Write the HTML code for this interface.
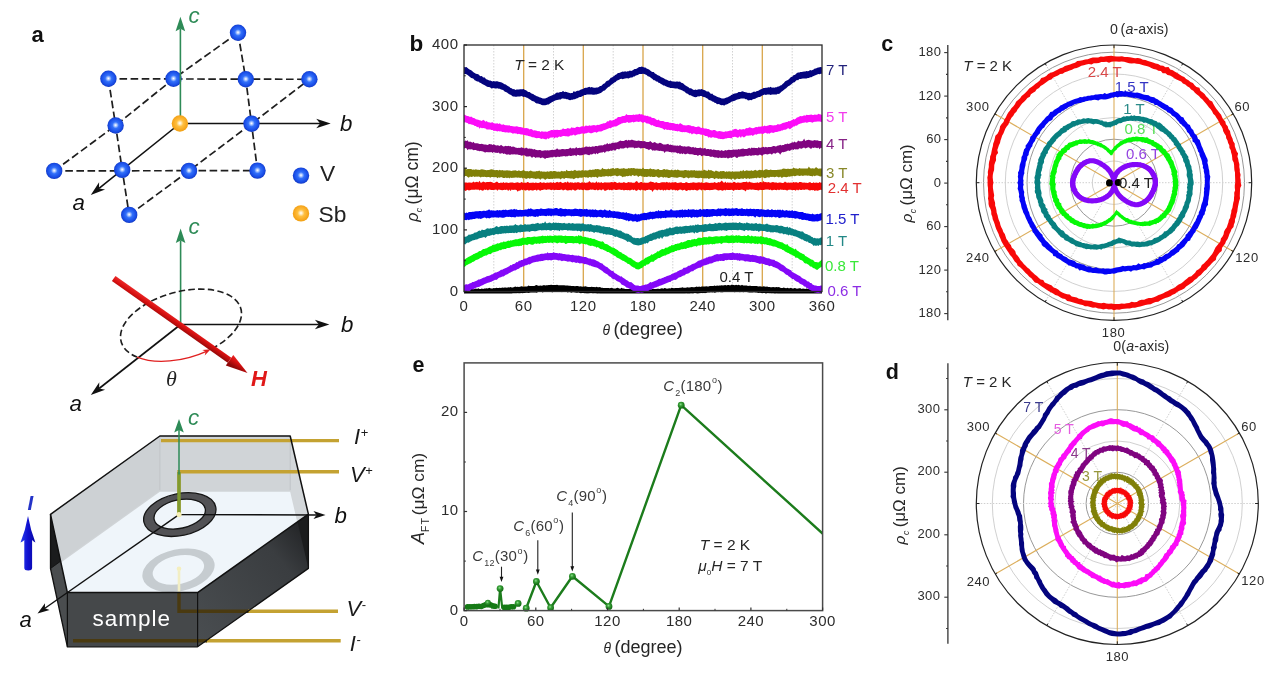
<!DOCTYPE html>
<html lang="en"><head><meta charset="utf-8"><title>Figure</title>
<style>
html,body{margin:0;padding:0;background:#fff;}
body{width:1270px;height:688px;overflow:hidden;}
svg{display:block;font-family:"Liberation Sans", Arial, sans-serif;}
</style></head><body>
<svg width="1270" height="688" viewBox="0 0 1270 688">
<rect width="1270" height="688" fill="#ffffff"/>
<g id="panel-a">
<defs>
<radialGradient id="gblue" cx="0.5" cy="0.48" r="0.52"><stop offset="0" stop-color="#ffffff"/><stop offset="0.12" stop-color="#c4d8ff"/><stop offset="0.38" stop-color="#3270fa"/><stop offset="0.8" stop-color="#184ce6"/><stop offset="1" stop-color="#1238c0"/></radialGradient>
<radialGradient id="gorange" cx="0.5" cy="0.48" r="0.52"><stop offset="0" stop-color="#ffffff"/><stop offset="0.12" stop-color="#fff0d0"/><stop offset="0.4" stop-color="#ffc040"/><stop offset="0.8" stop-color="#f8a820"/><stop offset="1" stop-color="#f0a010"/></radialGradient>
<linearGradient id="gred" gradientUnits="userSpaceOnUse" x1="183" y1="320" x2="177" y2="329"><stop offset="0" stop-color="#f03030"/><stop offset="0.5" stop-color="#d81010"/><stop offset="1" stop-color="#900808"/></linearGradient>
<linearGradient id="gfront" x1="0" y1="0" x2="1" y2="0"><stop offset="0" stop-color="#35383a"/><stop offset="1" stop-color="#45494c"/></linearGradient>
<linearGradient id="gright" x1="0" y1="1" x2="1" y2="0"><stop offset="0" stop-color="#4a4e51"/><stop offset="0.7" stop-color="#3a3d40"/><stop offset="1" stop-color="#1c1d1f"/></linearGradient>
<linearGradient id="gbluearrow" x1="0" y1="0" x2="1" y2="0"><stop offset="0" stop-color="#2a40f0"/><stop offset="0.5" stop-color="#1010d0"/><stop offset="1" stop-color="#0808a0"/></linearGradient>
</defs>
<path d="M108.4 78.8 L309.4 79.3" fill="none" stroke="#1e1e1e" stroke-width="1.7" stroke-dasharray="7.6 3.5"/>
<path d="M54.2 170.9 L257.5 170.6" fill="none" stroke="#1e1e1e" stroke-width="1.7" stroke-dasharray="7.6 3.5"/>
<path d="M54.2 170.9 L115.6 125.5 L173.5 78.8 L238 32.8" fill="none" stroke="#1e1e1e" stroke-width="1.7" stroke-dasharray="7.6 3.5"/>
<path d="M129.2 214.9 L189 170.9 L251.5 123.7 L309.4 79.3" fill="none" stroke="#1e1e1e" stroke-width="1.7" stroke-dasharray="7.6 3.5"/>
<path d="M108.4 78.8 L115.6 125.5 L122.2 169.9 L129.2 214.9" fill="none" stroke="#1e1e1e" stroke-width="1.7" stroke-dasharray="7.6 3.5"/>
<path d="M238 32.8 L245.8 79.3 L251.5 123.7 L257.5 170.6" fill="none" stroke="#1e1e1e" stroke-width="1.7" stroke-dasharray="7.6 3.5"/>
<line x1="179.9" y1="123.5" x2="320.2" y2="123.5" stroke="#111" stroke-width="1.6"/><path d="M330.7 123.5 L316.2 128.2 L320.2 123.5 L316.2 118.8Z" fill="#111"/>
<line x1="179.9" y1="123.5" x2="99" y2="188.4" stroke="#111" stroke-width="1.6"/><path d="M90.8 195 L99.1 182.2 L99 188.4 L105.1 189.6Z" fill="#111"/>
<circle cx="238" cy="32.8" r="8.2" fill="url(#gblue)"/>
<circle cx="108.4" cy="78.8" r="8.2" fill="url(#gblue)"/>
<circle cx="173.5" cy="78.8" r="8.2" fill="url(#gblue)"/>
<circle cx="245.8" cy="79.3" r="8.2" fill="url(#gblue)"/>
<circle cx="309.4" cy="79.3" r="8.2" fill="url(#gblue)"/>
<circle cx="115.6" cy="125.5" r="8.2" fill="url(#gblue)"/>
<circle cx="251.5" cy="123.7" r="8.2" fill="url(#gblue)"/>
<circle cx="54.2" cy="170.9" r="8.2" fill="url(#gblue)"/>
<circle cx="122.2" cy="169.9" r="8.2" fill="url(#gblue)"/>
<circle cx="189" cy="170.9" r="8.2" fill="url(#gblue)"/>
<circle cx="257.5" cy="170.6" r="8.2" fill="url(#gblue)"/>
<circle cx="129.2" cy="214.9" r="8.2" fill="url(#gblue)"/>
<line x1="180.4" y1="123.5" x2="180.4" y2="28.8" stroke="#2e8b57" stroke-width="1.6"/><path d="M180.4 16.8 L185.2 31.3 L180.4 28.8 L175.6 31.3Z" fill="#2e8b57"/>
<circle cx="179.9" cy="123.5" r="8.2" fill="url(#gorange)"/>
<circle cx="301" cy="175.6" r="8.2" fill="url(#gblue)"/>
<circle cx="301" cy="213.4" r="8.2" fill="url(#gorange)"/>
<text x="320" y="180.6" font-size="22.8" fill="#222" >V</text>
<text x="318.5" y="221.6" font-size="22.8" fill="#222" >Sb</text>
<text x="188.5" y="22.8" font-size="22.3" fill="#2e8b57" font-style="italic" >c</text>
<text x="340" y="131" font-size="22.3" fill="#111" font-style="italic" >b</text>
<text x="72.5" y="209.5" font-size="22.3" fill="#111" font-style="italic" >a</text>
<text x="31.5" y="41.5" font-size="22" fill="#111" font-weight="bold" >a</text>
<line x1="180.6" y1="324.5" x2="180.6" y2="240.4" stroke="#2e8b57" stroke-width="1.6"/><path d="M180.6 228.4 L185.4 242.9 L180.6 240.4 L175.8 242.9Z" fill="#2e8b57"/>
<line x1="180.6" y1="324.5" x2="318.9" y2="324.5" stroke="#111" stroke-width="1.6"/><path d="M329.4 324.5 L314.9 329.2 L318.9 324.5 L314.9 319.8Z" fill="#111"/>
<line x1="180.6" y1="324.5" x2="99.1" y2="388.5" stroke="#111" stroke-width="1.6"/><path d="M90.8 395 L99.3 382.3 L99.1 388.5 L105.1 389.8Z" fill="#111"/>
<path d="M211.6 348.8 A62.1 33.3 -15.4 1 0 137 357.1" fill="none" stroke="#1e1e1e" stroke-width="1.6" stroke-dasharray="6.5 3.2"/>
<path d="M137 357.1 A62.1 33.3 -15.4 0 0 207 351.1" fill="none" stroke="#e02020" stroke-width="1.3"/>
<path d="M210.7 349.3 L204.7 355.4 L205.7 351.6 L202.2 349.9Z" fill="#e02020"/>
<path d="M111.9 281.1 L227.7 362.8 L231.3 357.7 L115.5 276.1Z" fill="url(#gred)"/>
<path d="M247.5 372.9 L225.8 365.5 L233.3 354.9Z" fill="url(#gred)"/>
<text x="251" y="385.5" font-size="22" fill="#e01818" font-style="italic" font-weight="bold" >H</text>
<text x="166" y="386" font-size="22" fill="#222" font-style="italic" font-family="Liberation Serif, serif">θ</text>
<text x="188.5" y="233.5" font-size="22.3" fill="#2e8b57" font-style="italic" >c</text>
<text x="341" y="331.5" font-size="22.3" fill="#111" font-style="italic" >b</text>
<text x="69.5" y="411" font-size="22.3" fill="#111" font-style="italic" >a</text>
<clipPath id="clipT"><path d="M159.9 436 L290.2 436 L308.4 514.2 L197.6 592.6 L67.4 592.6 L50.5 514.3Z"/></clipPath>
<path d="M159.9 436 L290.2 436 L308.4 514.2 L197.6 592.6 L67.4 592.6 L50.5 514.3Z" fill="#d0d4d7"/>
<g clip-path="url(#clipT)">
<path d="M290.2 436 L308.4 514.2 L308.4 568.4 L290.2 490.2Z" fill="#d3d7da"/>
<path d="M50.5 514.3 L159.9 436 L159.9 490.2 L50.5 568.5Z" fill="#cdd1d4"/>
<path d="M159.9 491.7 L290.2 491.7 L308.4 569.9 L197.6 648.3 L67.4 648.3 L50.5 570Z" fill="#eff5fa"/>
<line x1="159.9" y1="436" x2="159.9" y2="490.2" stroke="#c0c4c8" stroke-width="1"/>
<line x1="290.2" y1="436" x2="290.2" y2="490.2" stroke="#c0c4c8" stroke-width="1"/>
<g transform="rotate(-12 178.5 570.3)"><path d="M178.5 570.3 m-36.7 0 a36.7 20.9 0 1 0 73.4 0 a36.7 20.9 0 1 0 -73.4 0 M178.5 569.8 m-26.1 0 a26.1 14.2 0 1 1 52.2 0 a26.1 14.2 0 1 1 -52.2 0" fill="#c6ccd0" fill-rule="evenodd" /></g>
<circle cx="179" cy="568.8" r="2.3" fill="#f4efbe"/>
<line x1="179" y1="570.8" x2="179" y2="592.6" stroke="#f2eec4" stroke-width="2.6"/>
</g>
<path d="M50.5 514.3 L67.4 592.6 L67.4 646.8 L50.5 568.5Z" fill="#4a4d4f"/>
<path d="M50.5 514.3 L60.6 561.2 L50.5 568.5Z" fill="#1b1c1d"/>
<path d="M67.4 592.6 L197.6 592.6 L197.6 646.8 L67.4 646.8Z" fill="#45484a"/>
<path d="M197.6 592.6 L308.4 514.2 L308.4 568.4 L197.6 646.8Z" fill="url(#gright)"/>
<path d="M308.4 514.2 L297.6 521.9 L308.4 568.4Z" fill="#1b1c1d"/>
<line x1="50.5" y1="568.5" x2="60.6" y2="561.2" stroke="#111" stroke-width="0.9"/>
<path d="M161 440.6 H339" stroke="#c4a232" stroke-width="3.4" fill="none"/>
<path d="M179 514.6 V471.8 H339" stroke="#c4a232" stroke-width="3.4" fill="none"/>
<path d="M248 611.2 H338" stroke="#c4a232" stroke-width="3.4" fill="none"/>
<path d="M206 640.8 H340.7" stroke="#c4a232" stroke-width="3.4" fill="none"/>
<path d="M179 593 V611.2 H248.5" stroke="#4a3a10" stroke-width="3.4" fill="none"/>
<path d="M73 640.8 H207" stroke="#4a3a10" stroke-width="3.4" fill="none"/>
<g transform="rotate(-12 179.8 514.6)"><path d="M179.8 514.6 m-36.7 0 a36.7 20.9 0 1 0 73.4 0 a36.7 20.9 0 1 0 -73.4 0 M179.8 514.1 m-26.1 0 a26.1 14.2 0 1 1 52.2 0 a26.1 14.2 0 1 1 -52.2 0" fill="#525255" fill-rule="evenodd" stroke="#151515" stroke-width="1.3"/></g>
<path d="M159.9 436 L290.2 436 L308.4 514.2 L197.6 592.6 L67.4 592.6 L50.5 514.3Z" fill="none" stroke="#111" stroke-width="1.5" stroke-linejoin="round"/>
<path d="M50.5 514.3 L50.5 568.5 L67.4 646.8 L197.6 646.8 L308.4 568.4 L308.4 514.2" fill="none" stroke="#111" stroke-width="1.3" stroke-linejoin="round"/>
<line x1="67.4" y1="592.6" x2="67.4" y2="646.8" stroke="#111" stroke-width="1.2"/>
<line x1="197.6" y1="592.6" x2="197.6" y2="646.8" stroke="#111" stroke-width="1.2"/>
<line x1="179" y1="514.6" x2="316.5" y2="515" stroke="#111" stroke-width="1.4"/><path d="M325.5 515 L313.5 519 L316.5 515 L313.5 511Z" fill="#111"/>
<line x1="179" y1="514.6" x2="44.9" y2="608.3" stroke="#111" stroke-width="1.4"/><path d="M37.5 613.5 L45 603.3 L44.9 608.3 L49.6 609.9Z" fill="#111"/>
<line x1="179" y1="513.6" x2="179" y2="472" stroke="#7f9a2e" stroke-width="3.4"/>
<circle cx="179" cy="514.6" r="2.6" fill="#f6efb4"/>
<line x1="179" y1="474.6" x2="179" y2="430" stroke="#2e8b57" stroke-width="1.5"/><path d="M179 419 L183.8 432.5 L179 430 L174.2 432.5Z" fill="#2e8b57"/>
<text x="92.5" y="626.3" font-size="22.5" fill="#fff" letter-spacing="1" >sample</text>
<text x="354" y="443.6" font-size="22" fill="#1a1a1a"><tspan font-style="italic">I</tspan><tspan font-size="13" dy="-7" dx="0.5">+</tspan></text>
<text x="350" y="482" font-size="22" fill="#1a1a1a"><tspan font-style="italic">V</tspan><tspan font-size="13" dy="-7" dx="0.5">+</tspan></text>
<text x="346.5" y="615.6" font-size="22" fill="#1a1a1a"><tspan font-style="italic">V</tspan><tspan font-size="13" dy="-7" dx="0.5">-</tspan></text>
<text x="349.8" y="650.9" font-size="22" fill="#1a1a1a"><tspan font-style="italic">I</tspan><tspan font-size="13" dy="-7" dx="0.5">-</tspan></text>
<text x="188" y="424.5" font-size="22.3" fill="#2e8b57" font-style="italic" >c</text>
<text x="334.5" y="523" font-size="22.3" fill="#111" font-style="italic" >b</text>
<text x="19.5" y="627" font-size="22" fill="#111" font-style="italic" >a</text>
<path d="M24.3 568 Q24.3 570.5 28.2 570.5 Q32.1 570.5 32.1 568 L32.1 540 Q33 541 35.4 542.5 Q30.5 530 28 516 Q25.5 530 20.5 542.5 Q23.5 541 24.3 540Z" fill="url(#gbluearrow)"/>
<text x="27.5" y="510" font-size="20.5" fill="#2433c8" font-style="italic" font-weight="bold" >I</text>
</g>
<g id="panel-b">
<clipPath id="clipb"><rect x="464" y="45" width="358" height="248.5"/></clipPath>
<line x1="493.8" y1="45" x2="493.8" y2="291.5" stroke="#d2d2d2" stroke-width="1" stroke-dasharray="1.5 1.5"/>
<line x1="553.5" y1="45" x2="553.5" y2="291.5" stroke="#d2d2d2" stroke-width="1" stroke-dasharray="1.5 1.5"/>
<line x1="613.2" y1="45" x2="613.2" y2="291.5" stroke="#d2d2d2" stroke-width="1" stroke-dasharray="1.5 1.5"/>
<line x1="672.8" y1="45" x2="672.8" y2="291.5" stroke="#d2d2d2" stroke-width="1" stroke-dasharray="1.5 1.5"/>
<line x1="732.5" y1="45" x2="732.5" y2="291.5" stroke="#d2d2d2" stroke-width="1" stroke-dasharray="1.5 1.5"/>
<line x1="792.2" y1="45" x2="792.2" y2="291.5" stroke="#d2d2d2" stroke-width="1" stroke-dasharray="1.5 1.5"/>
<line x1="523.7" y1="45" x2="523.7" y2="291.5" stroke="#d9a54a" stroke-width="1.3"/>
<line x1="583.3" y1="45" x2="583.3" y2="291.5" stroke="#d9a54a" stroke-width="1.3"/>
<line x1="643" y1="45" x2="643" y2="291.5" stroke="#d9a54a" stroke-width="1.3"/>
<line x1="702.7" y1="45" x2="702.7" y2="291.5" stroke="#d9a54a" stroke-width="1.3"/>
<line x1="762.3" y1="45" x2="762.3" y2="291.5" stroke="#d9a54a" stroke-width="1.3"/>
<g clip-path="url(#clipb)">
<path d="M464 289.2 L465.2 289.3 L466.4 289.4 L467.6 289.3 L468.8 289 L470 288.5 L471.2 289 L472.4 289.1 L473.5 289.2 L474.7 289.1 L475.9 288.5 L477.1 288.9 L478.3 288.3 L479.5 289 L480.7 288.9 L481.9 288.6 L483.1 288.9 L484.3 288.6 L485.5 288.6 L486.7 288.3 L487.9 288.6 L489.1 287.7 L490.3 288.2 L491.4 288.5 L492.6 288.4 L493.8 288.1 L495 288.2 L496.2 287.7 L497.4 288 L498.6 288.1 L499.8 287.7 L501 288 L502.2 287.6 L503.4 287.8 L504.6 287.6 L505.8 287.5 L507 287.7 L508.2 287.2 L509.3 287.6 L510.5 287.1 L511.7 287.5 L512.9 287.4 L514.1 287.1 L515.3 286.6 L516.5 287.1 L517.7 286.7 L518.9 286.9 L520.1 286.7 L521.3 286.3 L522.5 286.5 L523.7 286.7 L524.9 286.6 L526.1 286.5 L527.2 286.4 L528.4 285.6 L529.6 286 L530.8 286 L532 286 L533.2 286 L534.4 286 L535.6 285.3 L536.8 285.1 L538 285.7 L539.2 285.8 L540.4 285.4 L541.6 285.7 L542.8 285.4 L544 285.1 L545.1 285.6 L546.3 285.3 L547.5 285.2 L548.7 285 L549.9 285.1 L551.1 284.8 L552.3 285 L553.5 284.9 L554.7 285 L555.9 284.9 L557.1 284.8 L558.3 285.3 L559.5 285.3 L560.7 285.3 L561.9 285.2 L563 285.3 L564.2 285.3 L565.4 285.4 L566.6 285.6 L567.8 285.6 L569 285.7 L570.2 285.7 L571.4 285.9 L572.6 286 L573.8 286.1 L575 286.2 L576.2 285.9 L577.4 286 L578.6 286.3 L579.8 286.5 L580.9 286.2 L582.1 286.7 L583.3 286.6 L584.5 286.5 L585.7 286.2 L586.9 286.8 L588.1 286.9 L589.3 287 L590.5 287.1 L591.7 286.7 L592.9 286.9 L594.1 287 L595.3 287.2 L596.5 286.7 L597.7 287.3 L598.8 287.2 L600 287.1 L601.2 287.8 L602.4 287.7 L603.6 287.9 L604.8 287.9 L606 287.9 L607.2 287.9 L608.4 288 L609.6 288.3 L610.8 288 L612 287.8 L613.2 288.5 L614.4 288.4 L615.6 288.5 L616.7 288 L617.9 287.8 L619.1 288.4 L620.3 288.8 L621.5 287.8 L622.7 288.5 L623.9 288.6 L625.1 288.9 L626.3 289 L627.5 288.9 L628.7 288.9 L629.9 288.9 L631.1 289.1 L632.3 289.2 L633.5 289.1 L634.6 289 L635.8 289.3 L637 289.3 L638.2 289.3 L639.4 288.2 L640.6 289.3 L641.8 289.1 L643 289 L644.2 289.4 L645.4 289.1 L646.6 288.8 L647.8 289 L649 289.1 L650.2 289.2 L651.4 289.3 L652.5 288.8 L653.7 288.9 L654.9 289 L656.1 288.9 L657.3 288.8 L658.5 288.8 L659.7 288.9 L660.9 288.6 L662.1 288.2 L663.3 288.8 L664.5 287.9 L665.7 288.2 L666.9 288.7 L668.1 288.6 L669.3 288.2 L670.4 288.5 L671.6 287.8 L672.8 287.9 L674 288.2 L675.2 288 L676.4 288 L677.6 287.9 L678.8 287.9 L680 287.7 L681.2 287.8 L682.4 287.3 L683.6 287.8 L684.8 287.7 L686 287.8 L687.2 287.3 L688.3 287.6 L689.5 287.4 L690.7 287.2 L691.9 287.1 L693.1 287.2 L694.3 287.2 L695.5 287 L696.7 286.6 L697.9 286.9 L699.1 286.5 L700.3 286.9 L701.5 286.6 L702.7 286.6 L703.9 286.4 L705.1 286.5 L706.2 286.2 L707.4 286.5 L708.6 286.4 L709.8 286 L711 286.1 L712.2 286.1 L713.4 285.9 L714.6 285.4 L715.8 286 L717 285.6 L718.2 285.8 L719.4 285.4 L720.6 285.6 L721.8 285.2 L723 285.5 L724.1 285.2 L725.3 285.1 L726.5 285.5 L727.7 285.1 L728.9 285.1 L730.1 285.4 L731.3 284.8 L732.5 284.7 L733.7 285 L734.9 285.2 L736.1 284.8 L737.3 285.2 L738.5 284.7 L739.7 285.2 L740.9 285.6 L742 284.7 L743.2 285.6 L744.4 285.5 L745.6 285.6 L746.8 285.4 L748 285.9 L749.2 285.7 L750.4 285.8 L751.6 285.9 L752.8 286 L754 286 L755.2 286.1 L756.4 285.9 L757.6 286.2 L758.8 286.4 L759.9 286.2 L761.1 286.6 L762.3 286.7 L763.5 286.2 L764.7 286.5 L765.9 286.7 L767.1 286.6 L768.3 287 L769.5 286.9 L770.7 287.2 L771.9 287.2 L773.1 286.9 L774.3 287.3 L775.5 287.3 L776.7 287.1 L777.8 287.2 L779 287.1 L780.2 287.7 L781.4 287.9 L782.6 288 L783.8 287.6 L785 288 L786.2 288.2 L787.4 287.7 L788.6 288.2 L789.8 288.2 L791 287.8 L792.2 288.4 L793.4 288.5 L794.6 288 L795.7 288.2 L796.9 288.7 L798.1 288.6 L799.3 288.2 L800.5 288.3 L801.7 288.9 L802.9 288.6 L804.1 288.8 L805.3 288.9 L806.5 288.4 L807.7 288.7 L808.9 288.9 L810.1 288.7 L811.3 288.9 L812.5 288.5 L813.6 289.2 L814.8 288.9 L816 289.2 L817.2 288.5 L818.4 289.1 L819.6 289.1 L820.8 288.8 L822 288.9 L822 295.8 L820.8 295.6 L819.6 295.5 L818.4 295.6 L817.2 296.1 L816 295.5 L814.8 295.8 L813.6 295.8 L812.5 295.3 L811.3 295.4 L810.1 295.5 L808.9 295.3 L807.7 295.9 L806.5 295.1 L805.3 295.4 L804.1 295.1 L802.9 295.1 L801.7 295.2 L800.5 295 L799.3 294.9 L798.1 294.8 L796.9 295.4 L795.7 294.8 L794.6 295.4 L793.4 294.7 L792.2 294.6 L791 294.5 L789.8 294.9 L788.6 295.1 L787.4 294.7 L786.2 294.4 L785 294.2 L783.8 294.2 L782.6 294.1 L781.4 294.4 L780.2 293.9 L779 294 L777.8 293.9 L776.7 293.8 L775.5 294 L774.3 293.9 L773.1 293.6 L771.9 293.8 L770.7 293.4 L769.5 293.5 L768.3 293.3 L767.1 293.3 L765.9 294.3 L764.7 292.9 L763.5 292.9 L762.3 293.4 L761.1 293.1 L759.9 292.8 L758.8 293.1 L757.6 292.7 L756.4 292.6 L755.2 292.6 L754 292.3 L752.8 292.4 L751.6 292.6 L750.4 292.4 L749.2 292.4 L748 292.2 L746.8 292 L745.6 292.1 L744.4 291.9 L743.2 292.3 L742 291.7 L740.9 292.1 L739.7 292.3 L738.5 291.5 L737.3 291.7 L736.1 291.8 L734.9 292.3 L733.7 291.9 L732.5 291.5 L731.3 291.6 L730.1 291.7 L728.9 291.5 L727.7 291.5 L726.5 291.9 L725.3 291.6 L724.1 291.8 L723 292.2 L721.8 292.2 L720.6 292.2 L719.4 291.8 L718.2 292.3 L717 292 L715.8 292.4 L714.6 292.7 L713.4 292.2 L712.2 292.5 L711 292.3 L709.8 292.5 L708.6 292.5 L707.4 292.6 L706.2 292.9 L705.1 293.2 L703.9 293 L702.7 293.2 L701.5 292.9 L700.3 293.2 L699.1 293.6 L697.9 294 L696.7 293.8 L695.5 293.3 L694.3 293.3 L693.1 293.9 L691.9 293.7 L690.7 293.8 L689.5 294 L688.3 293.9 L687.2 293.9 L686 293.8 L684.8 294.2 L683.6 294.6 L682.4 294.3 L681.2 294.1 L680 294.1 L678.8 295.4 L677.6 294.3 L676.4 294.8 L675.2 294.6 L674 294.6 L672.8 294.7 L671.6 294.8 L670.4 295.3 L669.3 294.8 L668.1 295.3 L666.9 294.9 L665.7 295 L664.5 295.1 L663.3 295 L662.1 295.8 L660.9 295.5 L659.7 295.5 L658.5 295.9 L657.3 295.4 L656.1 295.7 L654.9 296.2 L653.7 295.9 L652.5 295.6 L651.4 295.5 L650.2 295.3 L649 295.6 L647.8 296 L646.6 295.7 L645.4 295.6 L644.2 295.7 L643 295.7 L641.8 295.6 L640.6 295.8 L639.4 295.4 L638.2 295.5 L637 295.4 L635.8 295.8 L634.6 295.6 L633.5 295.5 L632.3 295.4 L631.1 295.4 L629.9 295.2 L628.7 295.2 L627.5 295.9 L626.3 295.3 L625.1 295.3 L623.9 295.1 L622.7 294.9 L621.5 295.2 L620.3 294.9 L619.1 295.3 L617.9 294.8 L616.7 294.9 L615.6 295.2 L614.4 294.8 L613.2 294.7 L612 295.1 L610.8 295 L609.6 294.5 L608.4 295.1 L607.2 295 L606 294.4 L604.8 294.9 L603.6 294 L602.4 294.1 L601.2 294 L600 293.9 L598.8 293.8 L597.7 294.1 L596.5 293.8 L595.3 293.5 L594.1 293.5 L592.9 293.7 L591.7 293.3 L590.5 293.2 L589.3 293.5 L588.1 293.7 L586.9 293.8 L585.7 293.5 L584.5 293.5 L583.3 292.9 L582.1 293.1 L580.9 293.5 L579.8 293.1 L578.6 292.6 L577.4 292.7 L576.2 292.7 L575 292.4 L573.8 292.2 L572.6 292.2 L571.4 292.8 L570.2 292.3 L569 292.1 L567.8 292.6 L566.6 291.9 L565.4 292.1 L564.2 292.1 L563 291.7 L561.9 292.2 L560.7 291.6 L559.5 291.9 L558.3 291.9 L557.1 291.5 L555.9 292.1 L554.7 292 L553.5 291.5 L552.3 292.4 L551.1 291.7 L549.9 291.9 L548.7 292.1 L547.5 291.9 L546.3 291.7 L545.1 291.6 L544 291.7 L542.8 292.6 L541.6 292.1 L540.4 291.8 L539.2 292.1 L538 292.1 L536.8 292.7 L535.6 292.6 L534.4 292.4 L533.2 292.4 L532 292.4 L530.8 292.4 L529.6 292.7 L528.4 292.9 L527.2 292.7 L526.1 292.8 L524.9 293 L523.7 292.9 L522.5 293.4 L521.3 293.1 L520.1 293.4 L518.9 293.6 L517.7 293.3 L516.5 293.6 L515.3 293.4 L514.1 293.5 L512.9 293.5 L511.7 294 L510.5 294 L509.3 294 L508.2 293.9 L507 294 L505.8 294.4 L504.6 294.6 L503.4 294.1 L502.2 294.1 L501 294.8 L499.8 294.9 L498.6 294.5 L497.4 295.1 L496.2 294.5 L495 294.7 L493.8 294.6 L492.6 295.1 L491.4 295.1 L490.3 295.1 L489.1 295.1 L487.9 294.9 L486.7 295 L485.5 295 L484.3 295.6 L483.1 295.5 L481.9 295 L480.7 295.2 L479.5 295.3 L478.3 295.4 L477.1 296.2 L475.9 296 L474.7 295.6 L473.5 295.5 L472.4 296 L471.2 295.5 L470 295.6 L468.8 295.6 L467.6 295.9 L466.4 295.8 L465.2 296 L464 295.8Z" fill="#000000"/>
<path d="M464 285.5 L465.2 284.4 L466.4 284.3 L467.6 284.4 L468.8 283.9 L470 283.3 L471.2 282.9 L472.4 282.1 L473.5 281.9 L474.7 281.4 L475.9 281 L477.1 280.4 L478.3 279.6 L479.5 279.5 L480.7 279 L481.9 278.5 L483.1 277.8 L484.3 277.4 L485.5 277 L486.7 276.2 L487.9 275.9 L489.1 275.8 L490.3 275.3 L491.4 274.5 L492.6 274.3 L493.8 273.6 L495 272.5 L496.2 272.4 L497.4 272 L498.6 271.5 L499.8 270.7 L501 269.7 L502.2 269.8 L503.4 269.1 L504.6 268.5 L505.8 268 L507 267.4 L508.2 266.7 L509.3 266.3 L510.5 265.1 L511.7 265.2 L512.9 264.1 L514.1 263.9 L515.3 263.3 L516.5 262 L517.7 262.2 L518.9 260.7 L520.1 260.7 L521.3 260 L522.5 259.9 L523.7 258.9 L524.9 258.5 L526.1 258.4 L527.2 258 L528.4 257.2 L529.6 256.8 L530.8 256.7 L532 256.1 L533.2 255.8 L534.4 255.5 L535.6 255.2 L536.8 254.8 L538 254.5 L539.2 254.4 L540.4 254.1 L541.6 253.8 L542.8 253.7 L544 253.8 L545.1 253.2 L546.3 253.5 L547.5 252.2 L548.7 253.3 L549.9 253.1 L551.1 253 L552.3 253.1 L553.5 252.3 L554.7 252.8 L555.9 252.9 L557.1 253.1 L558.3 253.4 L559.5 253 L560.7 253.6 L561.9 253.4 L563 253.9 L564.2 254.1 L565.4 254.2 L566.6 254.4 L567.8 254.5 L569 254.6 L570.2 254.9 L571.4 255 L572.6 254.8 L573.8 255.3 L575 255.4 L576.2 255.6 L577.4 255.7 L578.6 255.4 L579.8 255.9 L580.9 256.2 L582.1 256.6 L583.3 257 L584.5 256.9 L585.7 257.1 L586.9 257.6 L588.1 258.2 L589.3 258.5 L590.5 258.6 L591.7 259.2 L592.9 259.3 L594.1 259.6 L595.3 259.9 L596.5 260.7 L597.7 261.2 L598.8 261.8 L600 262.8 L601.2 263.3 L602.4 263.6 L603.6 265.1 L604.8 265.7 L606 266.8 L607.2 266.9 L608.4 268.3 L609.6 269.2 L610.8 270.2 L612 270.9 L613.2 271.1 L614.4 272.7 L615.6 273.4 L616.7 274 L617.9 274.9 L619.1 275.6 L620.3 276.4 L621.5 276.3 L622.7 277.4 L623.9 278.3 L625.1 279.1 L626.3 279.9 L627.5 280.6 L628.7 281.4 L629.9 282.2 L631.1 282.1 L632.3 283.1 L633.5 284 L634.6 285.1 L635.8 285.6 L637 285.5 L638.2 285.4 L639.4 286.1 L640.6 286 L641.8 285.4 L643 285.3 L644.2 285 L645.4 284.6 L646.6 284.4 L647.8 283.9 L649 283.2 L650.2 282.1 L651.4 282.6 L652.5 282 L653.7 281.6 L654.9 280.9 L656.1 280.6 L657.3 279.9 L658.5 279 L659.7 278.8 L660.9 278.8 L662.1 278 L663.3 277.7 L664.5 277.1 L665.7 276.8 L666.9 276.1 L668.1 275.8 L669.3 275.3 L670.4 274.9 L671.6 274 L672.8 273.7 L674 273.1 L675.2 272.6 L676.4 272.2 L677.6 271.3 L678.8 270.7 L680 270 L681.2 269.7 L682.4 269.2 L683.6 267.7 L684.8 267.7 L686 267.6 L687.2 266.7 L688.3 265.8 L689.5 265.8 L690.7 265 L691.9 264.3 L693.1 263.7 L694.3 263.4 L695.5 262.7 L696.7 261.9 L697.9 261.1 L699.1 260.6 L700.3 260.2 L701.5 259.5 L702.7 259.4 L703.9 258.6 L705.1 258.5 L706.2 257.5 L707.4 257.5 L708.6 256.8 L709.8 256.6 L711 256.4 L712.2 256 L713.4 255.6 L714.6 254.8 L715.8 254.6 L717 254.1 L718.2 254.2 L719.4 254.2 L720.6 254 L721.8 253.9 L723 253.6 L724.1 253.3 L725.3 253.2 L726.5 253.3 L727.7 253.2 L728.9 253.2 L730.1 253 L731.3 253.1 L732.5 252.6 L733.7 252.8 L734.9 253.2 L736.1 253.2 L737.3 252.9 L738.5 253.5 L739.7 253.1 L740.9 253.7 L742 253.7 L743.2 253.9 L744.4 254.2 L745.6 254.3 L746.8 254.3 L748 254.2 L749.2 254.5 L750.4 254.9 L751.6 255 L752.8 254.8 L754 255.3 L755.2 255.3 L756.4 255.6 L757.6 255.9 L758.8 256.2 L759.9 256.2 L761.1 256 L762.3 256.9 L763.5 256.4 L764.7 257.3 L765.9 257.8 L767.1 258.2 L768.3 258.3 L769.5 258.5 L770.7 259.3 L771.9 259.4 L773.1 259.7 L774.3 259.8 L775.5 261 L776.7 261.2 L777.8 261.8 L779 262.6 L780.2 263.3 L781.4 264.3 L782.6 264.7 L783.8 265.4 L785 266.5 L786.2 267.7 L787.4 268.4 L788.6 269.1 L789.8 269.8 L791 270.3 L792.2 271.9 L793.4 272.4 L794.6 273.3 L795.7 273.8 L796.9 274.5 L798.1 275.2 L799.3 275.8 L800.5 276.6 L801.7 277.8 L802.9 278.5 L804.1 279.1 L805.3 279.5 L806.5 280.5 L807.7 281.4 L808.9 281.5 L810.1 282.9 L811.3 283.1 L812.5 284.5 L813.6 285.1 L814.8 285.5 L816 285.6 L817.2 286 L818.4 286.1 L819.6 285.9 L820.8 285.5 L822 285.4 L822 292.2 L820.8 292.6 L819.6 292.8 L818.4 292.9 L817.2 293.2 L816 292.6 L814.8 292.6 L813.6 291.7 L812.5 291 L811.3 290.7 L810.1 290 L808.9 289.4 L807.7 288 L806.5 287.9 L805.3 286.6 L804.1 286.5 L802.9 285.1 L801.7 284.5 L800.5 284.1 L799.3 283.3 L798.1 282.1 L796.9 281.7 L795.7 281 L794.6 280.3 L793.4 279.1 L792.2 278.9 L791 277.9 L789.8 277 L788.6 276.2 L787.4 275.1 L786.2 274.7 L785 273.7 L783.8 272.5 L782.6 271.8 L781.4 271.2 L780.2 270.7 L779 269.7 L777.8 268.8 L776.7 268.2 L775.5 267.7 L774.3 267.3 L773.1 267 L771.9 266.1 L770.7 265.8 L769.5 266.3 L768.3 265.5 L767.1 265 L765.9 264.9 L764.7 264.6 L763.5 263.9 L762.3 263.8 L761.1 263.4 L759.9 263.9 L758.8 263.4 L757.6 263 L756.4 262.7 L755.2 262.2 L754 262.1 L752.8 262 L751.6 261.8 L750.4 261.9 L749.2 261.8 L748 261.6 L746.8 261.2 L745.6 261.4 L744.4 261.2 L743.2 260.6 L742 260.4 L740.9 260.3 L739.7 261 L738.5 260.3 L737.3 260.4 L736.1 259.7 L734.9 259.9 L733.7 259.8 L732.5 259.9 L731.3 259.9 L730.1 260 L728.9 259.7 L727.7 259.9 L726.5 260.3 L725.3 260 L724.1 261 L723 260.9 L721.8 260.7 L720.6 261 L719.4 260.8 L718.2 261.4 L717 261.3 L715.8 261.7 L714.6 262.1 L713.4 262.5 L712.2 263.3 L711 263.4 L709.8 263.6 L708.6 264.2 L707.4 264.5 L706.2 265.1 L705.1 265.2 L703.9 265.5 L702.7 266.1 L701.5 266.9 L700.3 267.7 L699.1 267.8 L697.9 268.3 L696.7 268.8 L695.5 269.4 L694.3 269.9 L693.1 271.2 L691.9 271.3 L690.7 271.8 L689.5 272.7 L688.3 273.4 L687.2 273.7 L686 274.1 L684.8 275.3 L683.6 275.6 L682.4 276 L681.2 276.8 L680 277.3 L678.8 277.6 L677.6 278.6 L676.4 279.4 L675.2 280 L674 279.8 L672.8 280.5 L671.6 280.8 L670.4 281.9 L669.3 281.9 L668.1 282.5 L666.9 283.1 L665.7 283.5 L664.5 284.1 L663.3 284.4 L662.1 285.1 L660.9 285.4 L659.7 285.7 L658.5 286.5 L657.3 286.7 L656.1 287.6 L654.9 287.6 L653.7 288.6 L652.5 288.6 L651.4 289.7 L650.2 289.6 L649 290.5 L647.8 291.2 L646.6 291 L645.4 292 L644.2 292 L643 292.4 L641.8 292.8 L640.6 292.6 L639.4 292.7 L638.2 293.2 L637 292.7 L635.8 292.4 L634.6 291.6 L633.5 291 L632.3 290.6 L631.1 289.5 L629.9 289.1 L628.7 288.3 L627.5 287.7 L626.3 287.5 L625.1 286.3 L623.9 285.5 L622.7 285 L621.5 284.4 L620.3 282.8 L619.1 282.1 L617.9 281.5 L616.7 281 L615.6 280 L614.4 279.2 L613.2 279.1 L612 278.5 L610.8 277.1 L609.6 276.4 L608.4 275.4 L607.2 274.3 L606 273.7 L604.8 273 L603.6 272.2 L602.4 271.1 L601.2 270.3 L600 269.5 L598.8 268.8 L597.7 268 L596.5 267.6 L595.3 267.3 L594.1 267.1 L592.9 266.4 L591.7 266.3 L590.5 265.4 L589.3 265.5 L588.1 264.8 L586.9 264.4 L585.7 264.1 L584.5 264.2 L583.3 263.6 L582.1 263.3 L580.9 263.3 L579.8 263.6 L578.6 263.1 L577.4 262.4 L576.2 263 L575 262.4 L573.8 261.9 L572.6 262.4 L571.4 262 L570.2 261.6 L569 261.4 L567.8 261.7 L566.6 261.2 L565.4 261.1 L564.2 260.8 L563 260.7 L561.9 261.2 L560.7 260.6 L559.5 260.2 L558.3 260.6 L557.1 259.9 L555.9 259.7 L554.7 259.7 L553.5 259.7 L552.3 260 L551.1 260.6 L549.9 259.9 L548.7 260.2 L547.5 260.2 L546.3 260 L545.1 260.2 L544 260.5 L542.8 260.9 L541.6 260.9 L540.4 261.2 L539.2 261.3 L538 261.8 L536.8 261.8 L535.6 262.1 L534.4 262.2 L533.2 262.6 L532 263.1 L530.8 263.8 L529.6 264.4 L528.4 264.2 L527.2 265.1 L526.1 265.2 L524.9 265.5 L523.7 266.4 L522.5 266.4 L521.3 267.2 L520.1 267.6 L518.9 268.7 L517.7 268.9 L516.5 269.7 L515.3 270.5 L514.1 270.5 L512.9 271.2 L511.7 271.8 L510.5 272.5 L509.3 273 L508.2 273.7 L507 274.6 L505.8 274.8 L504.6 275.8 L503.4 276.4 L502.2 276.5 L501 277.2 L499.8 277.5 L498.6 278 L497.4 279.2 L496.2 279.9 L495 279.7 L493.8 280.6 L492.6 281.1 L491.4 281.8 L490.3 281.9 L489.1 282.4 L487.9 282.8 L486.7 283.3 L485.5 283.8 L484.3 284.3 L483.1 285 L481.9 285.5 L480.7 285.9 L479.5 286.7 L478.3 287.1 L477.1 287.2 L475.9 287.7 L474.7 288.6 L473.5 288.9 L472.4 289.4 L471.2 289.6 L470 291 L468.8 291 L467.6 291.2 L466.4 291.4 L465.2 291.9 L464 292.2Z" fill="#8408f8"/>
<path d="M464 259.5 L465.2 258.9 L466.4 258.2 L467.6 257.5 L468.8 256.7 L470 256.2 L471.2 255.4 L472.4 255.1 L473.5 254.1 L474.7 253.8 L475.9 252.9 L477.1 252.7 L478.3 251.8 L479.5 251.1 L480.7 251.1 L481.9 250.1 L483.1 249.1 L484.3 249 L485.5 248.6 L486.7 248.2 L487.9 247.5 L489.1 246.8 L490.3 246.3 L491.4 246 L492.6 244.7 L493.8 244.8 L495 244.5 L496.2 244 L497.4 243.3 L498.6 243.4 L499.8 242.9 L501 242.2 L502.2 242.5 L503.4 241.6 L504.6 241.8 L505.8 241.8 L507 241.2 L508.2 240.5 L509.3 240.9 L510.5 240.3 L511.7 240.4 L512.9 239.9 L514.1 239.7 L515.3 239.3 L516.5 239.3 L517.7 239.2 L518.9 238.7 L520.1 238.6 L521.3 238.2 L522.5 237.4 L523.7 238 L524.9 237.8 L526.1 237.7 L527.2 237 L528.4 237.1 L529.6 237 L530.8 237.2 L532 236.9 L533.2 236.7 L534.4 236.6 L535.6 236.7 L536.8 236.7 L538 236.6 L539.2 236.2 L540.4 236.2 L541.6 236 L542.8 235.5 L544 236.2 L545.1 235.8 L546.3 236.2 L547.5 235.5 L548.7 236 L549.9 235.5 L551.1 235.8 L552.3 236 L553.5 235.9 L554.7 235.3 L555.9 235.5 L557.1 235.8 L558.3 235.4 L559.5 235.4 L560.7 235.4 L561.9 235.4 L563 235.9 L564.2 236.1 L565.4 235.6 L566.6 236.1 L567.8 236 L569 235.9 L570.2 236 L571.4 236.1 L572.6 235.9 L573.8 236.2 L575 236.4 L576.2 235.8 L577.4 236.5 L578.6 235.1 L579.8 236 L580.9 235.5 L582.1 236.5 L583.3 236.9 L584.5 236.8 L585.7 236.9 L586.9 237.4 L588.1 237.6 L589.3 238.2 L590.5 238.1 L591.7 238.4 L592.9 239.1 L594.1 238.8 L595.3 239.5 L596.5 240.1 L597.7 240.6 L598.8 240.9 L600 241.2 L601.2 241.7 L602.4 241.3 L603.6 242.1 L604.8 243.7 L606 244.1 L607.2 244.3 L608.4 245 L609.6 245.9 L610.8 246.4 L612 247.5 L613.2 247.6 L614.4 248.1 L615.6 249.1 L616.7 249.6 L617.9 250.3 L619.1 251.6 L620.3 252.1 L621.5 252.6 L622.7 253.7 L623.9 254.1 L625.1 255.1 L626.3 255.4 L627.5 256.6 L628.7 257.5 L629.9 257.8 L631.1 258.2 L632.3 259.2 L633.5 260.2 L634.6 260.8 L635.8 261.8 L637 262.2 L638.2 262.6 L639.4 262.1 L640.6 261.1 L641.8 260.2 L643 259.9 L644.2 259 L645.4 257.7 L646.6 257.6 L647.8 256.8 L649 256.2 L650.2 255.7 L651.4 254.3 L652.5 254.7 L653.7 254 L654.9 253.3 L656.1 252.8 L657.3 251.3 L658.5 251.4 L659.7 250.6 L660.9 249.8 L662.1 248.9 L663.3 249.2 L664.5 248.7 L665.7 247.4 L666.9 247.7 L668.1 247.2 L669.3 246.3 L670.4 246.2 L671.6 244.9 L672.8 245.2 L674 245 L675.2 244.1 L676.4 243.9 L677.6 243.6 L678.8 243.4 L680 243.1 L681.2 242.1 L682.4 242.4 L683.6 241.9 L684.8 241.4 L686 241.2 L687.2 240.3 L688.3 240.1 L689.5 240 L690.7 240.2 L691.9 239.3 L693.1 239.5 L694.3 238.8 L695.5 239.3 L696.7 238.9 L697.9 237.8 L699.1 237.8 L700.3 237.8 L701.5 237.9 L702.7 237.6 L703.9 237 L705.1 237.3 L706.2 237 L707.4 237.5 L708.6 236.5 L709.8 236.6 L711 236.7 L712.2 237.1 L713.4 236.8 L714.6 236.5 L715.8 236.2 L717 236.2 L718.2 236.5 L719.4 236.4 L720.6 236.3 L721.8 235.9 L723 236.3 L724.1 236.2 L725.3 236 L726.5 235.3 L727.7 235.5 L728.9 235.8 L730.1 235.8 L731.3 235.2 L732.5 235.6 L733.7 235.6 L734.9 236 L736.1 235 L737.3 235.8 L738.5 235.3 L739.7 235.4 L740.9 235.9 L742 235.9 L743.2 236.1 L744.4 235.5 L745.6 235.9 L746.8 236.1 L748 234.8 L749.2 235.8 L750.4 236.4 L751.6 235.5 L752.8 236.3 L754 236.4 L755.2 236 L756.4 236.4 L757.6 236.4 L758.8 236.4 L759.9 236.8 L761.1 235.8 L762.3 237.1 L763.5 236.8 L764.7 237.4 L765.9 237.3 L767.1 237.3 L768.3 238.2 L769.5 237.9 L770.7 238.2 L771.9 238.9 L773.1 239.5 L774.3 239.4 L775.5 239.9 L776.7 240.6 L777.8 241 L779 241.6 L780.2 242 L781.4 242.2 L782.6 242.5 L783.8 243.4 L785 244.3 L786.2 244.7 L787.4 244 L788.6 245.9 L789.8 246.8 L791 247.2 L792.2 247.9 L793.4 248.4 L794.6 249.4 L795.7 248.6 L796.9 250.4 L798.1 250.9 L799.3 252.1 L800.5 252.8 L801.7 253.2 L802.9 254.1 L804.1 254.2 L805.3 256 L806.5 256.6 L807.7 257.2 L808.9 258.1 L810.1 258.8 L811.3 259.5 L812.5 259.8 L813.6 260.6 L814.8 261.9 L816 262 L817.2 262.2 L818.4 262.4 L819.6 261.6 L820.8 260.6 L822 259.5 L822 266.4 L820.8 267.3 L819.6 268.1 L818.4 269 L817.2 269.9 L816 269.4 L814.8 268.4 L813.6 268.3 L812.5 267.4 L811.3 266.6 L810.1 266.5 L808.9 264.9 L807.7 264.2 L806.5 263.5 L805.3 263.4 L804.1 262.8 L802.9 261.1 L801.7 260.3 L800.5 260.1 L799.3 259.2 L798.1 258.3 L796.9 257.4 L795.7 257.9 L794.6 256.2 L793.4 255.7 L792.2 255.1 L791 254.4 L789.8 254 L788.6 253 L787.4 252.8 L786.2 251.9 L785 251.4 L783.8 250.2 L782.6 249.9 L781.4 249 L780.2 248.8 L779 248.3 L777.8 248.1 L776.7 247.2 L775.5 246.8 L774.3 246.5 L773.1 246.4 L771.9 246.1 L770.7 245.6 L769.5 245.4 L768.3 245.1 L767.1 245 L765.9 244.3 L764.7 244.5 L763.5 243.9 L762.3 244.1 L761.1 244.4 L759.9 243.6 L758.8 243.5 L757.6 244.2 L756.4 243.5 L755.2 244 L754 243.6 L752.8 242.9 L751.6 243.7 L750.4 243.4 L749.2 243.3 L748 243 L746.8 243.4 L745.6 242.7 L744.4 243.4 L743.2 243.3 L742 243 L740.9 243 L739.7 242.7 L738.5 242.5 L737.3 243 L736.1 242.4 L734.9 242.7 L733.7 243.2 L732.5 242.8 L731.3 242.9 L730.1 242.9 L728.9 243.2 L727.7 243 L726.5 242.7 L725.3 242.8 L724.1 242.8 L723 242.8 L721.8 243.9 L720.6 243.5 L719.4 242.9 L718.2 243.4 L717 243.5 L715.8 243.6 L714.6 244.3 L713.4 243.9 L712.2 244.4 L711 243.8 L709.8 244.2 L708.6 244.5 L707.4 244.2 L706.2 244.8 L705.1 244.4 L703.9 244.8 L702.7 245.2 L701.5 244.8 L700.3 245.5 L699.1 245.6 L697.9 245.5 L696.7 246.8 L695.5 246 L694.3 246.3 L693.1 246.5 L691.9 247.2 L690.7 247.3 L689.5 247.4 L688.3 248.1 L687.2 248 L686 248.9 L684.8 248.8 L683.6 249 L682.4 249.3 L681.2 249.2 L680 249.9 L678.8 250.3 L677.6 250.3 L676.4 250.9 L675.2 251.1 L674 251.9 L672.8 251.9 L671.6 252.6 L670.4 253 L669.3 253.8 L668.1 254.3 L666.9 254.5 L665.7 255.4 L664.5 255.5 L663.3 256 L662.1 256.5 L660.9 257.3 L659.7 257.9 L658.5 258.1 L657.3 258.7 L656.1 259.7 L654.9 260.2 L653.7 261.7 L652.5 261.8 L651.4 261.8 L650.2 262.5 L649 263.9 L647.8 264.5 L646.6 264.6 L645.4 266 L644.2 265.7 L643 267.2 L641.8 267.9 L640.6 268.5 L639.4 269.2 L638.2 269.4 L637 269.2 L635.8 269 L634.6 267.8 L633.5 267.5 L632.3 266.8 L631.1 266 L629.9 264.7 L628.7 264 L627.5 263.8 L626.3 262.5 L625.1 261.9 L623.9 261.1 L622.7 260.7 L621.5 260.1 L620.3 259.3 L619.1 258.5 L617.9 257.9 L616.7 257.4 L615.6 256.3 L614.4 255.7 L613.2 255.1 L612 254.2 L610.8 253.6 L609.6 252.8 L608.4 252.1 L607.2 251.9 L606 250.9 L604.8 250.5 L603.6 250 L602.4 249.2 L601.2 249.2 L600 248.8 L598.8 247.8 L597.7 247.1 L596.5 247.8 L595.3 246.5 L594.1 246.6 L592.9 245.7 L591.7 245.8 L590.5 245.9 L589.3 245.6 L588.1 245.2 L586.9 244.2 L585.7 244.6 L584.5 243.9 L583.3 244 L582.1 243.6 L580.9 243.5 L579.8 244.5 L578.6 243.5 L577.4 243 L576.2 243.2 L575 243.1 L573.8 243.4 L572.6 243.3 L571.4 242.9 L570.2 242.9 L569 242.9 L567.8 243.1 L566.6 243.7 L565.4 243.9 L564.2 242.7 L563 242.8 L561.9 243 L560.7 242.8 L559.5 242.6 L558.3 242.9 L557.1 243.5 L555.9 242.7 L554.7 242.4 L553.5 242.4 L552.3 243.2 L551.1 242.5 L549.9 242.7 L548.7 243.1 L547.5 242.6 L546.3 242.9 L545.1 242.9 L544 242.9 L542.8 243.6 L541.6 243.2 L540.4 243.4 L539.2 244.1 L538 243.2 L536.8 244 L535.6 243.6 L534.4 243.8 L533.2 244.7 L532 244.7 L530.8 244.4 L529.6 243.9 L528.4 244.2 L527.2 245.2 L526.1 244.7 L524.9 244.6 L523.7 244.9 L522.5 245 L521.3 245.9 L520.1 245.7 L518.9 246.2 L517.7 245.9 L516.5 246.3 L515.3 246.3 L514.1 246.5 L512.9 246.7 L511.7 247 L510.5 247.5 L509.3 247.9 L508.2 247.9 L507 248.1 L505.8 249 L504.6 248.9 L503.4 249.3 L502.2 249.3 L501 250.2 L499.8 250 L498.6 250.7 L497.4 251.3 L496.2 251.6 L495 252 L493.8 252.1 L492.6 252.5 L491.4 253.4 L490.3 254.2 L489.1 253.9 L487.9 254.6 L486.7 255.4 L485.5 255.4 L484.3 256 L483.1 256.4 L481.9 257.6 L480.7 257.7 L479.5 258.6 L478.3 259.2 L477.1 259.8 L475.9 260 L474.7 261.1 L473.5 261.7 L472.4 262 L471.2 262.9 L470 263.4 L468.8 263.9 L467.6 264.8 L466.4 265.3 L465.2 266.4 L464 266.9Z" fill="#06f806"/>
<path d="M464 236.8 L465.2 236.8 L466.4 236.5 L467.6 235.8 L468.8 234.6 L470 234.8 L471.2 234.2 L472.4 234 L473.5 233.5 L474.7 232.6 L475.9 232.4 L477.1 232.1 L478.3 230.9 L479.5 230.4 L480.7 231.1 L481.9 229.4 L483.1 229.9 L484.3 230.1 L485.5 229.4 L486.7 228.5 L487.9 228.3 L489.1 228.8 L490.3 228.3 L491.4 228.5 L492.6 228 L493.8 227.7 L495 227.2 L496.2 225.9 L497.4 226.5 L498.6 227.2 L499.8 226.4 L501 226.1 L502.2 225.9 L503.4 226.2 L504.6 225.8 L505.8 226 L507 225.6 L508.2 226.2 L509.3 225.4 L510.5 225.6 L511.7 225.6 L512.9 225.6 L514.1 225.3 L515.3 224.1 L516.5 225.1 L517.7 225.3 L518.9 225.4 L520.1 224.5 L521.3 224.5 L522.5 224.9 L523.7 225 L524.9 223.8 L526.1 224.7 L527.2 224.4 L528.4 224.4 L529.6 224.4 L530.8 224.3 L532 223.8 L533.2 223.8 L534.4 224 L535.6 223.4 L536.8 223.2 L538 222.7 L539.2 223.7 L540.4 223.6 L541.6 223.4 L542.8 222.7 L544 223.2 L545.1 221.2 L546.3 223.3 L547.5 223.2 L548.7 222.7 L549.9 222.6 L551.1 223.3 L552.3 223.2 L553.5 222.3 L554.7 222.9 L555.9 222.6 L557.1 222.9 L558.3 222.8 L559.5 223 L560.7 223 L561.9 223.2 L563 223.2 L564.2 222.8 L565.4 223.5 L566.6 223.5 L567.8 223.4 L569 222.8 L570.2 223.4 L571.4 223.4 L572.6 223.1 L573.8 223.5 L575 223.7 L576.2 223.4 L577.4 223.6 L578.6 223.5 L579.8 223.4 L580.9 223.7 L582.1 223.4 L583.3 223.2 L584.5 224.2 L585.7 224.2 L586.9 224.6 L588.1 223.9 L589.3 224.4 L590.5 224.1 L591.7 224.5 L592.9 225.2 L594.1 225.3 L595.3 225.4 L596.5 225 L597.7 225.3 L598.8 225.6 L600 225.5 L601.2 226.2 L602.4 226.4 L603.6 226.3 L604.8 226.8 L606 226.9 L607.2 227.1 L608.4 227.2 L609.6 227 L610.8 228.1 L612 227.9 L613.2 228.6 L614.4 229.2 L615.6 229.5 L616.7 229.2 L617.9 230.3 L619.1 230.4 L620.3 230.6 L621.5 231.1 L622.7 232.2 L623.9 232.5 L625.1 233.4 L626.3 233.6 L627.5 233.8 L628.7 234 L629.9 235.2 L631.1 235.5 L632.3 236.9 L633.5 237.7 L634.6 237.7 L635.8 238.2 L637 238.1 L638.2 238 L639.4 238.5 L640.6 237.9 L641.8 237.5 L643 237.3 L644.2 237 L645.4 235.9 L646.6 235.7 L647.8 235.1 L649 234.8 L650.2 233.8 L651.4 233.8 L652.5 233 L653.7 232.6 L654.9 232.6 L656.1 231.7 L657.3 231.5 L658.5 230.8 L659.7 230.5 L660.9 230.3 L662.1 229.8 L663.3 229.9 L664.5 229.6 L665.7 229.2 L666.9 228.3 L668.1 228.8 L669.3 227.4 L670.4 227.6 L671.6 228.2 L672.8 227.6 L674 227.4 L675.2 226.8 L676.4 226.5 L677.6 226.5 L678.8 227.1 L680 226.2 L681.2 226.8 L682.4 226.5 L683.6 226.2 L684.8 226 L686 225.7 L687.2 225.9 L688.3 225.9 L689.5 225.7 L690.7 225.3 L691.9 225.7 L693.1 225.1 L694.3 225.7 L695.5 224.6 L696.7 225.1 L697.9 224.3 L699.1 225.1 L700.3 225.1 L701.5 225 L702.7 224.5 L703.9 224.5 L705.1 224 L706.2 224.2 L707.4 224.4 L708.6 223.9 L709.8 223.3 L711 224.1 L712.2 224.1 L713.4 224 L714.6 223.6 L715.8 223.1 L717 223.8 L718.2 222.9 L719.4 222.7 L720.6 223 L721.8 223.6 L723 223.3 L724.1 223 L725.3 222.5 L726.5 222.8 L727.7 222.9 L728.9 222.8 L730.1 222.7 L731.3 222.8 L732.5 222.8 L733.7 222.6 L734.9 222.7 L736.1 222.4 L737.3 222.9 L738.5 223 L739.7 222 L740.9 222.9 L742 223 L743.2 223.4 L744.4 223 L745.6 223.4 L746.8 222.3 L748 223 L749.2 223.3 L750.4 223.7 L751.6 223.3 L752.8 223.6 L754 223.7 L755.2 223.3 L756.4 223 L757.6 223.9 L758.8 223.8 L759.9 223.4 L761.1 223.9 L762.3 224.3 L763.5 224.3 L764.7 224.4 L765.9 224 L767.1 223.5 L768.3 224.5 L769.5 224.8 L770.7 224.9 L771.9 225.2 L773.1 225.3 L774.3 225.4 L775.5 225.3 L776.7 224.9 L777.8 225.3 L779 225.9 L780.2 225.7 L781.4 225.8 L782.6 226 L783.8 226.7 L785 226.9 L786.2 227.2 L787.4 226.6 L788.6 227.9 L789.8 227 L791 228.2 L792.2 228.5 L793.4 228.9 L794.6 229.4 L795.7 229.4 L796.9 230.2 L798.1 230.7 L799.3 231.1 L800.5 231.5 L801.7 231.4 L802.9 231.6 L804.1 232.9 L805.3 233.8 L806.5 234.1 L807.7 234.5 L808.9 235.3 L810.1 235.4 L811.3 236.7 L812.5 237.1 L813.6 238.2 L814.8 237.7 L816 238.6 L817.2 238.3 L818.4 238.5 L819.6 238.3 L820.8 237.6 L822 237.3 L822 244.5 L820.8 245.3 L819.6 244.8 L818.4 246.1 L817.2 245.3 L816 246.1 L814.8 245.3 L813.6 246 L812.5 244.6 L811.3 243.7 L810.1 242.9 L808.9 243.1 L807.7 241.5 L806.5 241.7 L805.3 241.1 L804.1 240.7 L802.9 239.6 L801.7 239.6 L800.5 238.7 L799.3 238.2 L798.1 237.4 L796.9 237 L795.7 236.5 L794.6 236.2 L793.4 235.9 L792.2 235.3 L791 235.6 L789.8 234.6 L788.6 235.5 L787.4 234.6 L786.2 234.4 L785 233.7 L783.8 234.6 L782.6 233.6 L781.4 233.3 L780.2 233.5 L779 233.2 L777.8 232.5 L776.7 232.6 L775.5 232.3 L774.3 232 L773.1 232.4 L771.9 232.2 L770.7 232.4 L769.5 231.8 L768.3 231.7 L767.1 232.1 L765.9 231.6 L764.7 231.1 L763.5 230.9 L762.3 231.1 L761.1 230.8 L759.9 231 L758.8 232 L757.6 230.8 L756.4 231 L755.2 230.4 L754 230.9 L752.8 230.8 L751.6 230.7 L750.4 230.2 L749.2 230.2 L748 230.7 L746.8 230.1 L745.6 230 L744.4 231.3 L743.2 230.6 L742 230.3 L740.9 229.9 L739.7 229.8 L738.5 230.3 L737.3 230.3 L736.1 230.1 L734.9 230.1 L733.7 230 L732.5 229.9 L731.3 230.2 L730.1 230.1 L728.9 230.1 L727.7 230.3 L726.5 230.9 L725.3 230.5 L724.1 230.6 L723 230 L721.8 230.7 L720.6 230.2 L719.4 230.6 L718.2 230.6 L717 231.1 L715.8 230.9 L714.6 231 L713.4 231.3 L712.2 231.3 L711 231.3 L709.8 231 L708.6 231.1 L707.4 231.2 L706.2 231.8 L705.1 231.7 L703.9 232.3 L702.7 231.7 L701.5 231.8 L700.3 231.8 L699.1 232 L697.9 232.8 L696.7 233 L695.5 232.1 L694.3 233.7 L693.1 232.3 L691.9 232.6 L690.7 232.5 L689.5 232.9 L688.3 232.8 L687.2 233.3 L686 233.1 L684.8 233.8 L683.6 233.5 L682.4 233.4 L681.2 234 L680 233.6 L678.8 233.7 L677.6 234.3 L676.4 234 L675.2 234.1 L674 234.9 L672.8 235.3 L671.6 235.3 L670.4 235.3 L669.3 235.4 L668.1 236.5 L666.9 236.6 L665.7 236.7 L664.5 236.3 L663.3 236.9 L662.1 239 L660.9 237.1 L659.7 238.7 L658.5 238.5 L657.3 238.3 L656.1 239.5 L654.9 239.5 L653.7 239.8 L652.5 240.5 L651.4 241.1 L650.2 241 L649 241.6 L647.8 243.4 L646.6 242.8 L645.4 243.8 L644.2 243.5 L643 244.3 L641.8 244.8 L640.6 245 L639.4 245.2 L638.2 245.6 L637 245.2 L635.8 245 L634.6 244.7 L633.5 244.4 L632.3 243.8 L631.1 242.8 L629.9 242.1 L628.7 241.4 L627.5 242.1 L626.3 240.8 L625.1 240.1 L623.9 239.6 L622.7 238.9 L621.5 238.4 L620.3 238.3 L619.1 237.7 L617.9 237.3 L616.7 236.5 L615.6 237 L614.4 236.4 L613.2 236.1 L612 235 L610.8 235 L609.6 234.8 L608.4 234.6 L607.2 234.5 L606 234.8 L604.8 233.8 L603.6 234.6 L602.4 233.3 L601.2 233.2 L600 233.3 L598.8 232.5 L597.7 232.4 L596.5 232.2 L595.3 232.1 L594.1 233 L592.9 231.9 L591.7 231.7 L590.5 231.6 L589.3 232.1 L588.1 231.3 L586.9 231.6 L585.7 231 L584.5 231.6 L583.3 230.9 L582.1 230.7 L580.9 232 L579.8 231.1 L578.6 230.8 L577.4 231.2 L576.2 230.5 L575 230.7 L573.8 230.8 L572.6 230.7 L571.4 230.4 L570.2 230.6 L569 230.3 L567.8 230.7 L566.6 230.1 L565.4 230.1 L564.2 230.1 L563 230.2 L561.9 230.6 L560.7 229.8 L559.5 231.3 L558.3 230.2 L557.1 230.5 L555.9 230 L554.7 230.6 L553.5 230 L552.3 230.1 L551.1 230.7 L549.9 230.5 L548.7 230 L547.5 229.9 L546.3 230.6 L545.1 230 L544 230.3 L542.8 230.2 L541.6 230.4 L540.4 230.1 L539.2 230.2 L538 230.6 L536.8 230.9 L535.6 231.2 L534.4 231.2 L533.2 231 L532 230.9 L530.8 231.3 L529.6 232 L528.4 231.5 L527.2 231.4 L526.1 231.6 L524.9 231.7 L523.7 231.7 L522.5 232.1 L521.3 232 L520.1 232.6 L518.9 232 L517.7 232.5 L516.5 233.3 L515.3 232.5 L514.1 233.3 L512.9 232.8 L511.7 233 L510.5 232.9 L509.3 233 L508.2 233.3 L507 233.1 L505.8 233.5 L504.6 233.3 L503.4 233.4 L502.2 233.6 L501 234.1 L499.8 233.8 L498.6 234.2 L497.4 234.3 L496.2 234.1 L495 234.6 L493.8 235.3 L492.6 234.8 L491.4 235.2 L490.3 235.6 L489.1 236 L487.9 235.8 L486.7 236.7 L485.5 237.9 L484.3 237 L483.1 237.2 L481.9 237.8 L480.7 238 L479.5 238.3 L478.3 238.7 L477.1 239.6 L475.9 239.6 L474.7 240 L473.5 240.2 L472.4 240.6 L471.2 241.2 L470 241.7 L468.8 242.8 L467.6 242.6 L466.4 243.2 L465.2 244.4 L464 243.9Z" fill="#088080"/>
<path d="M464 212.2 L465.2 213.2 L466.4 212.6 L467.6 212.9 L468.8 212.1 L470 211.9 L471.2 212 L472.4 211.7 L473.5 211.7 L474.7 211.4 L475.9 211.3 L477.1 211.3 L478.3 211.3 L479.5 210.9 L480.7 211.1 L481.9 211.3 L483.1 210.8 L484.3 210.8 L485.5 211 L486.7 210.5 L487.9 210.2 L489.1 209.2 L490.3 210.6 L491.4 210.3 L492.6 210.6 L493.8 210.6 L495 210.7 L496.2 210.5 L497.4 209.9 L498.6 210.4 L499.8 209.9 L501 210.4 L502.2 210 L503.4 209.7 L504.6 210 L505.8 209.4 L507 210.2 L508.2 210 L509.3 209.7 L510.5 209.6 L511.7 209.3 L512.9 209.8 L514.1 208.8 L515.3 209.4 L516.5 209.2 L517.7 210 L518.9 209.9 L520.1 209.7 L521.3 209.9 L522.5 209.9 L523.7 209.9 L524.9 209.4 L526.1 209.4 L527.2 209.6 L528.4 208.6 L529.6 209.1 L530.8 208.3 L532 209 L533.2 209.4 L534.4 209.4 L535.6 209.2 L536.8 209 L538 209.1 L539.2 209.2 L540.4 208.6 L541.6 208.6 L542.8 209 L544 208.9 L545.1 208.9 L546.3 208.7 L547.5 208.4 L548.7 208.2 L549.9 208.4 L551.1 208.5 L552.3 208.7 L553.5 208.7 L554.7 208.3 L555.9 208.1 L557.1 208.1 L558.3 208.9 L559.5 208.6 L560.7 208.1 L561.9 208.6 L563 209 L564.2 209.1 L565.4 208.7 L566.6 208.9 L567.8 209.2 L569 209 L570.2 209.3 L571.4 209.2 L572.6 209.3 L573.8 209.1 L575 208.6 L576.2 208.8 L577.4 209 L578.6 209.3 L579.8 208.8 L580.9 209.1 L582.1 209.1 L583.3 209.6 L584.5 209 L585.7 209.3 L586.9 208.8 L588.1 209.8 L589.3 209.6 L590.5 209.5 L591.7 209.7 L592.9 209.3 L594.1 210.1 L595.3 209.2 L596.5 210 L597.7 210.2 L598.8 210.3 L600 209.8 L601.2 209.8 L602.4 210.3 L603.6 210.2 L604.8 209.3 L606 210.3 L607.2 210.5 L608.4 210.7 L609.6 209.8 L610.8 210.8 L612 211.2 L613.2 211.2 L614.4 210.9 L615.6 211.4 L616.7 211.6 L617.9 211.5 L619.1 211.7 L620.3 212 L621.5 212.5 L622.7 212.3 L623.9 212.3 L625.1 213.1 L626.3 211.9 L627.5 213.3 L628.7 213.1 L629.9 213.4 L631.1 213.8 L632.3 214.1 L633.5 214.4 L634.6 214.2 L635.8 213.6 L637 214.7 L638.2 214 L639.4 214.4 L640.6 213.8 L641.8 213.6 L643 213.2 L644.2 212.8 L645.4 213 L646.6 212.9 L647.8 212.5 L649 212.3 L650.2 211.5 L651.4 211.9 L652.5 211.8 L653.7 211.8 L654.9 211.7 L656.1 210.8 L657.3 211.5 L658.5 210 L659.7 211.2 L660.9 210.7 L662.1 211 L663.3 211 L664.5 210.9 L665.7 209.7 L666.9 210.6 L668.1 210.5 L669.3 210.7 L670.4 209.5 L671.6 209.2 L672.8 210.6 L674 210.4 L675.2 210.6 L676.4 210.2 L677.6 210.2 L678.8 210.2 L680 209.8 L681.2 210.1 L682.4 209.3 L683.6 210.3 L684.8 209.6 L686 209.7 L687.2 210.3 L688.3 208.8 L689.5 209.7 L690.7 209.4 L691.9 209.5 L693.1 209.3 L694.3 209.5 L695.5 210.1 L696.7 209.6 L697.9 209.9 L699.1 209.6 L700.3 208.8 L701.5 209.8 L702.7 209.6 L703.9 209 L705.1 209.5 L706.2 209.1 L707.4 208.9 L708.6 209.3 L709.8 209.3 L711 209.2 L712.2 209 L713.4 209 L714.6 209.3 L715.8 209.4 L717 209.2 L718.2 208.2 L719.4 208.7 L720.6 208.5 L721.8 208.8 L723 208.8 L724.1 208.8 L725.3 208.1 L726.5 208.2 L727.7 208.7 L728.9 208.3 L730.1 208.8 L731.3 208.4 L732.5 208.3 L733.7 208.5 L734.9 208.6 L736.1 208 L737.3 208.2 L738.5 208.9 L739.7 208.7 L740.9 208.7 L742 207.9 L743.2 208.9 L744.4 208.9 L745.6 209.2 L746.8 208.4 L748 209 L749.2 209.1 L750.4 208.6 L751.6 208.9 L752.8 209.1 L754 208.8 L755.2 209.3 L756.4 208.9 L757.6 208.9 L758.8 209.1 L759.9 209.6 L761.1 209 L762.3 209.6 L763.5 209.6 L764.7 209.8 L765.9 209.9 L767.1 209.5 L768.3 209.2 L769.5 210.1 L770.7 210.1 L771.9 209.1 L773.1 209.9 L774.3 210 L775.5 209.7 L776.7 210.2 L777.8 209.6 L779 210 L780.2 209.4 L781.4 210.5 L782.6 209.6 L783.8 210.5 L785 210.8 L786.2 210 L787.4 210.4 L788.6 210.7 L789.8 210.4 L791 211.1 L792.2 210 L793.4 211.2 L794.6 210.7 L795.7 211.1 L796.9 211.3 L798.1 211.7 L799.3 212.1 L800.5 212 L801.7 212.1 L802.9 212.1 L804.1 212.9 L805.3 213 L806.5 213.4 L807.7 213.5 L808.9 213.7 L810.1 214 L811.3 214.2 L812.5 213.5 L813.6 214.2 L814.8 214.6 L816 214.2 L817.2 213.8 L818.4 214.2 L819.6 213.7 L820.8 213.2 L822 212.9 L822 219.8 L820.8 220.5 L819.6 220.7 L818.4 221.3 L817.2 221.6 L816 221.2 L814.8 221.4 L813.6 221.4 L812.5 221.4 L811.3 221.2 L810.1 221.1 L808.9 220.9 L807.7 220.3 L806.5 220.3 L805.3 220 L804.1 219.7 L802.9 219.9 L801.7 219.7 L800.5 219 L799.3 219.3 L798.1 218.6 L796.9 218.3 L795.7 218.7 L794.6 218.4 L793.4 218 L792.2 218.2 L791 217.8 L789.8 218 L788.6 217.8 L787.4 217.6 L786.2 217.3 L785 217.8 L783.8 217.2 L782.6 217.2 L781.4 217.4 L780.2 217.7 L779 218.3 L777.8 217.1 L776.7 217.3 L775.5 217.5 L774.3 217 L773.1 216.7 L771.9 217.4 L770.7 216.9 L769.5 217.3 L768.3 216.7 L767.1 217.3 L765.9 217.1 L764.7 217.2 L763.5 216.4 L762.3 216.7 L761.1 216.4 L759.9 217.2 L758.8 216.9 L757.6 216.5 L756.4 216.1 L755.2 217.8 L754 216.6 L752.8 216.1 L751.6 216.2 L750.4 216 L749.2 216.2 L748 216.5 L746.8 215.8 L745.6 216 L744.4 215.7 L743.2 216 L742 216.1 L740.9 216.1 L739.7 215.6 L738.5 216 L737.3 216.1 L736.1 215.5 L734.9 215.4 L733.7 216 L732.5 215.7 L731.3 215.9 L730.1 216.1 L728.9 216.2 L727.7 215.4 L726.5 216.1 L725.3 216.2 L724.1 215.7 L723 215.6 L721.8 215.6 L720.6 216.5 L719.4 215.9 L718.2 216.1 L717 216.6 L715.8 216 L714.6 216 L713.4 216 L712.2 216.7 L711 216.4 L709.8 217 L708.6 216.7 L707.4 217.1 L706.2 217.2 L705.1 216.7 L703.9 217.3 L702.7 216.3 L701.5 216.4 L700.3 216.9 L699.1 216.8 L697.9 217.5 L696.7 217.4 L695.5 217.1 L694.3 217.4 L693.1 216.8 L691.9 217.9 L690.7 217.6 L689.5 216.8 L688.3 217.4 L687.2 216.9 L686 217.1 L684.8 217.4 L683.6 217 L682.4 218.1 L681.2 216.9 L680 218 L678.8 217.3 L677.6 217.2 L676.4 218.2 L675.2 217.3 L674 217.5 L672.8 217.2 L671.6 217.6 L670.4 217.5 L669.3 217.6 L668.1 217.5 L666.9 217.6 L665.7 218.2 L664.5 217.7 L663.3 218.1 L662.1 217.7 L660.9 218.7 L659.7 218 L658.5 218.4 L657.3 218.3 L656.1 218.2 L654.9 218.7 L653.7 218.8 L652.5 219.4 L651.4 218.8 L650.2 219 L649 219.7 L647.8 219.3 L646.6 220.2 L645.4 220.1 L644.2 220.3 L643 220 L641.8 220.5 L640.6 220.7 L639.4 221.6 L638.2 221.5 L637 222.2 L635.8 221.2 L634.6 221.2 L633.5 221.5 L632.3 221.6 L631.1 220.5 L629.9 220.8 L628.7 221.5 L627.5 220.3 L626.3 220.7 L625.1 220 L623.9 219.7 L622.7 219.2 L621.5 219 L620.3 218.8 L619.1 218.9 L617.9 218.5 L616.7 218.5 L615.6 217.9 L614.4 218.1 L613.2 218.3 L612 217.6 L610.8 217.8 L609.6 217.6 L608.4 217.9 L607.2 217.4 L606 218 L604.8 217.1 L603.6 217.2 L602.4 218 L601.2 217.2 L600 217.1 L598.8 216.8 L597.7 217 L596.5 217.4 L595.3 217 L594.1 217.2 L592.9 217.2 L591.7 216.7 L590.5 217.4 L589.3 216.6 L588.1 216.5 L586.9 216.9 L585.7 216.6 L584.5 216.4 L583.3 216.3 L582.1 216.4 L580.9 217.1 L579.8 216.6 L578.6 216.3 L577.4 216.1 L576.2 216 L575 215.9 L573.8 216.2 L572.6 216 L571.4 216.6 L570.2 215.7 L569 215.8 L567.8 215.8 L566.6 215.7 L565.4 216.4 L564.2 216.6 L563 215.9 L561.9 216.6 L560.7 216.5 L559.5 216.1 L558.3 216.1 L557.1 215.5 L555.9 215.5 L554.7 215.6 L553.5 215.8 L552.3 215.4 L551.1 216.4 L549.9 215.4 L548.7 216.1 L547.5 215.5 L546.3 216.3 L545.1 216 L544 215.8 L542.8 215.7 L541.6 215.7 L540.4 215.9 L539.2 215.7 L538 217 L536.8 216.2 L535.6 217.1 L534.4 216.7 L533.2 216.5 L532 216 L530.8 216.5 L529.6 216.3 L528.4 216.7 L527.2 216.8 L526.1 216.3 L524.9 216.3 L523.7 216.5 L522.5 216.6 L521.3 216.8 L520.1 216.6 L518.9 216.8 L517.7 216.8 L516.5 216.6 L515.3 217.4 L514.1 217.2 L512.9 216.9 L511.7 217.2 L510.5 217.1 L509.3 216.8 L508.2 216.9 L507 216.8 L505.8 216.9 L504.6 217.4 L503.4 217.8 L502.2 217.7 L501 217.4 L499.8 217.2 L498.6 217.8 L497.4 217.4 L496.2 217.5 L495 217.2 L493.8 217.4 L492.6 217.5 L491.4 217.4 L490.3 218 L489.1 218.4 L487.9 217.7 L486.7 218.4 L485.5 217.7 L484.3 217.6 L483.1 217.9 L481.9 218.4 L480.7 218.9 L479.5 218.4 L478.3 218.7 L477.1 218.2 L475.9 218.6 L474.7 219 L473.5 218.9 L472.4 219.3 L471.2 219.6 L470 219.6 L468.8 220.2 L467.6 219.4 L466.4 220.3 L465.2 220.1 L464 220.1Z" fill="#0404f6"/>
<path d="M464 182.6 L465.2 182.6 L466.4 182.6 L467.6 182.8 L468.8 182.4 L470 182.4 L471.2 182.8 L472.4 182.4 L473.5 181.6 L474.7 182.6 L475.9 182.1 L477.1 181.8 L478.3 182.5 L479.5 180.7 L480.7 182.8 L481.9 182.5 L483.1 181.6 L484.3 181.9 L485.5 182.4 L486.7 181.9 L487.9 182.1 L489.1 182.1 L490.3 181.8 L491.4 182.1 L492.6 182.5 L493.8 182.9 L495 182.8 L496.2 181.8 L497.4 181.8 L498.6 182.9 L499.8 183 L501 182.6 L502.2 182.9 L503.4 181.9 L504.6 182.9 L505.8 182.6 L507 182.5 L508.2 183 L509.3 182.8 L510.5 182.6 L511.7 182.6 L512.9 182.6 L514.1 183 L515.3 182.7 L516.5 182.6 L517.7 182.3 L518.9 182.8 L520.1 182.9 L521.3 182 L522.5 182.6 L523.7 182.9 L524.9 182.5 L526.1 183 L527.2 181.9 L528.4 182.2 L529.6 183 L530.8 182.7 L532 182.7 L533.2 182.4 L534.4 183 L535.6 182.6 L536.8 182.8 L538 182.9 L539.2 182.7 L540.4 182.1 L541.6 182.8 L542.8 182.7 L544 182.3 L545.1 182.9 L546.3 182.8 L547.5 182.6 L548.7 182.8 L549.9 182.6 L551.1 182.3 L552.3 183 L553.5 182 L554.7 183 L555.9 182.4 L557.1 181.7 L558.3 182.6 L559.5 182.3 L560.7 181.7 L561.9 182.8 L563 182.9 L564.2 182.4 L565.4 182 L566.6 182.7 L567.8 181.2 L569 182.9 L570.2 182.3 L571.4 182.5 L572.6 182.5 L573.8 182.9 L575 182.3 L576.2 182.8 L577.4 182.3 L578.6 182.3 L579.8 182.8 L580.9 183 L582.1 181.9 L583.3 182.9 L584.5 182.3 L585.7 183 L586.9 182.5 L588.1 182.6 L589.3 181 L590.5 182.3 L591.7 182.8 L592.9 182.3 L594.1 182.8 L595.3 182.7 L596.5 181.2 L597.7 182.9 L598.8 181.9 L600 182.9 L601.2 181.9 L602.4 182.9 L603.6 182.8 L604.8 182.2 L606 182.5 L607.2 182.6 L608.4 182.6 L609.6 182.6 L610.8 182.3 L612 182.1 L613.2 182.4 L614.4 181.7 L615.6 182.1 L616.7 182.7 L617.9 183 L619.1 182.3 L620.3 182.7 L621.5 182.8 L622.7 182.8 L623.9 182.1 L625.1 182.8 L626.3 182.9 L627.5 182.6 L628.7 182.1 L629.9 182.4 L631.1 182.3 L632.3 182.8 L633.5 182.8 L634.6 182.8 L635.8 181.6 L637 181 L638.2 182.7 L639.4 182.7 L640.6 182.1 L641.8 182.1 L643 183 L644.2 182.6 L645.4 182.8 L646.6 182.8 L647.8 182.7 L649 182.6 L650.2 181.5 L651.4 181.7 L652.5 182.1 L653.7 182.2 L654.9 183 L656.1 182.1 L657.3 182.7 L658.5 182.9 L659.7 182.9 L660.9 182.6 L662.1 182.3 L663.3 182.3 L664.5 182.3 L665.7 182.6 L666.9 181.8 L668.1 182.8 L669.3 182.2 L670.4 182.8 L671.6 182.4 L672.8 182.3 L674 182.6 L675.2 181.9 L676.4 182.6 L677.6 182.9 L678.8 182.8 L680 182.6 L681.2 182.3 L682.4 182.9 L683.6 182.9 L684.8 183 L686 182.1 L687.2 182.6 L688.3 182.9 L689.5 183 L690.7 182.8 L691.9 182.8 L693.1 182.3 L694.3 182.6 L695.5 182.7 L696.7 182.8 L697.9 182.6 L699.1 182.3 L700.3 182.8 L701.5 182.3 L702.7 182.9 L703.9 182.9 L705.1 182.6 L706.2 182.3 L707.4 182.4 L708.6 182.8 L709.8 182.9 L711 182.8 L712.2 182.8 L713.4 182.8 L714.6 182.1 L715.8 182.7 L717 183 L718.2 182.1 L719.4 182.6 L720.6 181.8 L721.8 180.4 L723 182.1 L724.1 183 L725.3 181.6 L726.5 182.9 L727.7 182.3 L728.9 182.7 L730.1 182.4 L731.3 182.8 L732.5 182.7 L733.7 181.8 L734.9 181.9 L736.1 183 L737.3 182.5 L738.5 182.6 L739.7 182.7 L740.9 182.7 L742 182.6 L743.2 182.1 L744.4 182.1 L745.6 182.1 L746.8 181.6 L748 182.7 L749.2 181.4 L750.4 182.3 L751.6 182.5 L752.8 182.7 L754 183 L755.2 182.7 L756.4 182.8 L757.6 182.3 L758.8 183 L759.9 182.1 L761.1 182.1 L762.3 182.8 L763.5 181.1 L764.7 182.3 L765.9 182 L767.1 182.5 L768.3 182.1 L769.5 182.6 L770.7 182.7 L771.9 182.2 L773.1 182.1 L774.3 182.6 L775.5 182.4 L776.7 182.6 L777.8 182.9 L779 182.5 L780.2 182.4 L781.4 182.7 L782.6 183 L783.8 182.7 L785 181.5 L786.2 182.4 L787.4 182.7 L788.6 182.4 L789.8 182.7 L791 182.5 L792.2 182.7 L793.4 182.1 L794.6 182.6 L795.7 182.2 L796.9 182.2 L798.1 182.9 L799.3 181.9 L800.5 181.9 L801.7 182.3 L802.9 182.7 L804.1 182.4 L805.3 182.7 L806.5 182.7 L807.7 182.9 L808.9 182.5 L810.1 182.1 L811.3 182.9 L812.5 183 L813.6 182.3 L814.8 183 L816 182.6 L817.2 182.8 L818.4 182.9 L819.6 182 L820.8 182.8 L822 182.6 L822 189.9 L820.8 189.7 L819.6 190.1 L818.4 190.4 L817.2 190.7 L816 190.3 L814.8 191.1 L813.6 189.9 L812.5 190.3 L811.3 190 L810.1 190.4 L808.9 190.2 L807.7 189.6 L806.5 189.4 L805.3 189.6 L804.1 190 L802.9 189.6 L801.7 189.9 L800.5 189.9 L799.3 189.6 L798.1 190.5 L796.9 189.6 L795.7 190.7 L794.6 190.1 L793.4 189.9 L792.2 190.2 L791 189.8 L789.8 189.8 L788.6 189.7 L787.4 190.4 L786.2 190.2 L785 189.8 L783.8 189.9 L782.6 189.7 L781.4 189.8 L780.2 189.5 L779 190.2 L777.8 189.5 L776.7 190.2 L775.5 190.1 L774.3 189.8 L773.1 189.9 L771.9 190.6 L770.7 189.5 L769.5 190.1 L768.3 189.5 L767.1 189.6 L765.9 189.6 L764.7 189.7 L763.5 190.1 L762.3 190.1 L761.1 190.1 L759.9 189.7 L758.8 190.4 L757.6 190.2 L756.4 190 L755.2 190.1 L754 189.8 L752.8 189.6 L751.6 189.8 L750.4 189.5 L749.2 189.5 L748 190.1 L746.8 189.6 L745.6 191.4 L744.4 190.2 L743.2 190 L742 189.6 L740.9 189.8 L739.7 189.9 L738.5 189.9 L737.3 189.7 L736.1 190 L734.9 189.7 L733.7 191 L732.5 190 L731.3 189.7 L730.1 189.9 L728.9 190.1 L727.7 190.1 L726.5 189.7 L725.3 190.6 L724.1 189.8 L723 190.7 L721.8 190.4 L720.6 190 L719.4 190.2 L718.2 190.4 L717 189.9 L715.8 189.5 L714.6 189.6 L713.4 189.8 L712.2 189.9 L711 190 L709.8 190.2 L708.6 190 L707.4 189.9 L706.2 189.9 L705.1 190.5 L703.9 190.1 L702.7 189.5 L701.5 190.5 L700.3 189.6 L699.1 189.5 L697.9 190.6 L696.7 190.6 L695.5 190.1 L694.3 189.7 L693.1 190.3 L691.9 189.7 L690.7 190.3 L689.5 190.3 L688.3 190 L687.2 190.7 L686 190.9 L684.8 189.8 L683.6 190.1 L682.4 190.4 L681.2 189.7 L680 189.5 L678.8 190.1 L677.6 190.7 L676.4 190 L675.2 190.4 L674 189.5 L672.8 190.3 L671.6 189.5 L670.4 189.5 L669.3 190.2 L668.1 189.9 L666.9 189.5 L665.7 190.4 L664.5 189.8 L663.3 190.7 L662.1 189.5 L660.9 190.2 L659.7 189.7 L658.5 189.5 L657.3 190.6 L656.1 189.7 L654.9 189.5 L653.7 189.9 L652.5 192 L651.4 190 L650.2 189.9 L649 189.5 L647.8 189.9 L646.6 189.9 L645.4 190.7 L644.2 190.2 L643 190.3 L641.8 189.6 L640.6 190.4 L639.4 190.1 L638.2 189.5 L637 190.7 L635.8 190.7 L634.6 189.6 L633.5 190.3 L632.3 189.5 L631.1 190 L629.9 190.5 L628.7 190 L627.5 190.3 L626.3 189.9 L625.1 190.1 L623.9 190.5 L622.7 189.7 L621.5 190.1 L620.3 189.7 L619.1 189.5 L617.9 189.8 L616.7 190 L615.6 190.1 L614.4 189.6 L613.2 189.6 L612 190.6 L610.8 189.8 L609.6 190.2 L608.4 189.6 L607.2 190.1 L606 190.5 L604.8 191 L603.6 189.5 L602.4 189.5 L601.2 190.5 L600 189.6 L598.8 189.9 L597.7 190.5 L596.5 189.5 L595.3 190.3 L594.1 190 L592.9 189.6 L591.7 189.7 L590.5 189.5 L589.3 190 L588.1 190.2 L586.9 190.2 L585.7 190.2 L584.5 189.5 L583.3 190.2 L582.1 190 L580.9 189.5 L579.8 190 L578.6 189.6 L577.4 189.4 L576.2 190.2 L575 190.8 L573.8 190.1 L572.6 189.5 L571.4 190.4 L570.2 189.9 L569 190.2 L567.8 190.4 L566.6 190.2 L565.4 189.6 L564.2 190 L563 190.5 L561.9 189.6 L560.7 189.8 L559.5 190 L558.3 189.9 L557.1 189.9 L555.9 189.8 L554.7 190.2 L553.5 189.8 L552.3 189.7 L551.1 190.2 L549.9 189.5 L548.7 189.6 L547.5 189.6 L546.3 190 L545.1 189.5 L544 189.6 L542.8 190.1 L541.6 190 L540.4 190.8 L539.2 190.3 L538 189.5 L536.8 190.7 L535.6 189.7 L534.4 190 L533.2 190.5 L532 190.4 L530.8 190 L529.6 190.5 L528.4 190.6 L527.2 189.8 L526.1 190.4 L524.9 190.4 L523.7 189.5 L522.5 190.2 L521.3 189.5 L520.1 190.8 L518.9 190.4 L517.7 191.7 L516.5 189.9 L515.3 189.8 L514.1 189.7 L512.9 189.9 L511.7 189.5 L510.5 190.9 L509.3 189.6 L508.2 191 L507 189.5 L505.8 189.9 L504.6 189.7 L503.4 190.1 L502.2 190.2 L501 189.9 L499.8 189.7 L498.6 189.5 L497.4 190.8 L496.2 189.6 L495 189.7 L493.8 190 L492.6 190 L491.4 189.9 L490.3 189.7 L489.1 189.5 L487.9 190.4 L486.7 189.5 L485.5 190 L484.3 189.6 L483.1 190.8 L481.9 190.5 L480.7 189.7 L479.5 190.6 L478.3 189.5 L477.1 189.8 L475.9 189.5 L474.7 189.7 L473.5 189.8 L472.4 189.7 L471.2 189.8 L470 190.3 L468.8 190.4 L467.6 189.8 L466.4 190.6 L465.2 191.1 L464 189.9Z" fill="#f80808"/>
<path d="M464 169 L465.2 167.8 L466.4 169.4 L467.6 169.1 L468.8 168.9 L470 169.1 L471.2 169.1 L472.4 169.7 L473.5 169.4 L474.7 169.7 L475.9 169.3 L477.1 169.7 L478.3 169.8 L479.5 170 L480.7 169.5 L481.9 169.2 L483.1 169.5 L484.3 169.8 L485.5 169.9 L486.7 170.2 L487.9 169.9 L489.1 169.9 L490.3 169.5 L491.4 169.3 L492.6 169.6 L493.8 169.8 L495 170.2 L496.2 169.9 L497.4 169.9 L498.6 170.4 L499.8 169.7 L501 170.4 L502.2 170 L503.4 170.6 L504.6 170.6 L505.8 170.6 L507 170.2 L508.2 170.5 L509.3 170.5 L510.5 170.7 L511.7 170.9 L512.9 170.6 L514.1 170.5 L515.3 170.3 L516.5 170.7 L517.7 171 L518.9 170.3 L520.1 171 L521.3 171.1 L522.5 170.6 L523.7 170.1 L524.9 170.9 L526.1 171.2 L527.2 170.9 L528.4 171.4 L529.6 171.1 L530.8 170.6 L532 171.3 L533.2 171.4 L534.4 171.4 L535.6 171.6 L536.8 171 L538 171.3 L539.2 170.5 L540.4 171.5 L541.6 171.2 L542.8 171.8 L544 171.6 L545.1 171.7 L546.3 171.7 L547.5 171.2 L548.7 171.8 L549.9 171.2 L551.1 171.1 L552.3 171.4 L553.5 171 L554.7 171.1 L555.9 171.2 L557.1 171.7 L558.3 171.5 L559.5 171.7 L560.7 171.5 L561.9 170.8 L563 171.6 L564.2 171 L565.4 171.4 L566.6 169.7 L567.8 170.9 L569 170.9 L570.2 170.9 L571.4 170.5 L572.6 171.1 L573.8 170.6 L575 169.7 L576.2 170.8 L577.4 170.7 L578.6 170.4 L579.8 170.6 L580.9 170.8 L582.1 170 L583.3 170.5 L584.5 170.6 L585.7 170.3 L586.9 170.4 L588.1 170.5 L589.3 169.7 L590.5 169.7 L591.7 170 L592.9 169.4 L594.1 169.7 L595.3 169.1 L596.5 169.2 L597.7 169 L598.8 169.2 L600 169.8 L601.2 169.5 L602.4 167.8 L603.6 168.9 L604.8 169.1 L606 169.2 L607.2 169.2 L608.4 168.6 L609.6 169.2 L610.8 168.6 L612 168.4 L613.2 167.8 L614.4 169.1 L615.6 168.2 L616.7 168.3 L617.9 168 L619.1 168.8 L620.3 168.8 L621.5 168.4 L622.7 168.6 L623.9 168.1 L625.1 168.7 L626.3 168.7 L627.5 168.7 L628.7 167.9 L629.9 168.4 L631.1 168.1 L632.3 168.3 L633.5 168 L634.6 168.3 L635.8 168.8 L637 168.4 L638.2 168.8 L639.4 168.7 L640.6 168.7 L641.8 168.9 L643 167.5 L644.2 169.1 L645.4 168.9 L646.6 169 L647.8 169 L649 169.2 L650.2 168.3 L651.4 169 L652.5 169.3 L653.7 168.9 L654.9 169.4 L656.1 169.8 L657.3 169.2 L658.5 169.1 L659.7 169.9 L660.9 170 L662.1 170.1 L663.3 169.3 L664.5 169.1 L665.7 169.8 L666.9 169.2 L668.1 169.7 L669.3 170 L670.4 170.2 L671.6 169.6 L672.8 170.3 L674 170.3 L675.2 169.5 L676.4 170.3 L677.6 169.5 L678.8 169.9 L680 170.5 L681.2 170.5 L682.4 170.6 L683.6 170.6 L684.8 170.1 L686 170 L687.2 170.4 L688.3 170.2 L689.5 170.8 L690.7 170.3 L691.9 170.2 L693.1 170.5 L694.3 170.1 L695.5 170.8 L696.7 170.6 L697.9 170.8 L699.1 170.6 L700.3 170.7 L701.5 170.4 L702.7 171 L703.9 169.6 L705.1 170.3 L706.2 170.6 L707.4 170.9 L708.6 169.4 L709.8 170.6 L711 169.9 L712.2 170.7 L713.4 171.2 L714.6 171.7 L715.8 170.6 L717 170.9 L718.2 171.6 L719.4 171.7 L720.6 171.1 L721.8 171.3 L723 171.1 L724.1 171 L725.3 171.9 L726.5 171.2 L727.7 171.8 L728.9 171.2 L730.1 171.6 L731.3 171.8 L732.5 171.2 L733.7 171.7 L734.9 171.5 L736.1 171.6 L737.3 171.4 L738.5 171.6 L739.7 171.6 L740.9 170.5 L742 171.4 L743.2 169.7 L744.4 171.3 L745.6 170.8 L746.8 170.3 L748 170.7 L749.2 170.7 L750.4 170.8 L751.6 170.3 L752.8 171.1 L754 170.5 L755.2 169.7 L756.4 170.4 L757.6 170.7 L758.8 170.1 L759.9 169.8 L761.1 170.2 L762.3 169.8 L763.5 170.5 L764.7 169.8 L765.9 169.3 L767.1 169.5 L768.3 170 L769.5 169.9 L770.7 169.5 L771.9 170.1 L773.1 170.1 L774.3 170 L775.5 170 L776.7 169.9 L777.8 169.8 L779 169.7 L780.2 169.4 L781.4 169.4 L782.6 168.8 L783.8 168.4 L785 168.8 L786.2 168.9 L787.4 168.8 L788.6 168.7 L789.8 168.9 L791 168.8 L792.2 169 L793.4 167.6 L794.6 168.3 L795.7 168.5 L796.9 168.6 L798.1 168.9 L799.3 168 L800.5 168.4 L801.7 168.4 L802.9 168.4 L804.1 168.4 L805.3 168.6 L806.5 168.6 L807.7 168.4 L808.9 166.6 L810.1 168.3 L811.3 168.4 L812.5 168.2 L813.6 168.5 L814.8 168.5 L816 167.1 L817.2 167.9 L818.4 168.8 L819.6 168.5 L820.8 168.6 L822 168.5 L822 176.2 L820.8 176.6 L819.6 176.2 L818.4 175.8 L817.2 175.6 L816 175.4 L814.8 176.3 L813.6 175.5 L812.5 176.5 L811.3 175.9 L810.1 176 L808.9 175.5 L807.7 175.7 L806.5 175.4 L805.3 175.6 L804.1 175.6 L802.9 175.9 L801.7 175.4 L800.5 175.7 L799.3 175.9 L798.1 175.5 L796.9 175.6 L795.7 175.9 L794.6 176.3 L793.4 175.7 L792.2 176.6 L791 176.3 L789.8 176.8 L788.6 176.5 L787.4 177 L786.2 177.3 L785 177 L783.8 176.8 L782.6 177.4 L781.4 177.8 L780.2 176.5 L779 177.4 L777.8 177 L776.7 176.5 L775.5 176.9 L774.3 177.2 L773.1 176.8 L771.9 176.9 L770.7 176.8 L769.5 177.4 L768.3 177.5 L767.1 177.2 L765.9 177.9 L764.7 178.3 L763.5 177.4 L762.3 177.2 L761.1 177.6 L759.9 178.2 L758.8 177.8 L757.6 177.5 L756.4 178.6 L755.2 177.8 L754 178.3 L752.8 178.2 L751.6 178.5 L750.4 178.6 L749.2 179 L748 177.9 L746.8 179 L745.6 178.6 L744.4 178 L743.2 179 L742 178.5 L740.9 178.4 L739.7 178.9 L738.5 179.1 L737.3 178.4 L736.1 178.9 L734.9 180.1 L733.7 178.7 L732.5 178.4 L731.3 180.1 L730.1 178.7 L728.9 179.1 L727.7 178.4 L726.5 178.9 L725.3 178.5 L724.1 178.8 L723 178.4 L721.8 178.9 L720.6 178.7 L719.4 178.4 L718.2 179.1 L717 178.2 L715.8 178.2 L714.6 179.3 L713.4 178.3 L712.2 178.1 L711 178 L709.8 178.5 L708.6 179 L707.4 177.9 L706.2 178.4 L705.1 178.3 L703.9 178.6 L702.7 177.9 L701.5 177.9 L700.3 177.8 L699.1 178.2 L697.9 178.2 L696.7 177.9 L695.5 177.9 L694.3 177.5 L693.1 177.6 L691.9 177.7 L690.7 177.6 L689.5 177.8 L688.3 178.5 L687.2 177.4 L686 177.3 L684.8 178.1 L683.6 178.3 L682.4 177.5 L681.2 177.2 L680 177.1 L678.8 177.3 L677.6 177.7 L676.4 177.8 L675.2 177.4 L674 177.6 L672.8 177 L671.6 177 L670.4 177.6 L669.3 178 L668.1 178.1 L666.9 177.3 L665.7 177.4 L664.5 177.1 L663.3 177.8 L662.1 177.1 L660.9 176.7 L659.7 177.5 L658.5 177.8 L657.3 176.9 L656.1 176.3 L654.9 177 L653.7 176.9 L652.5 176.9 L651.4 176.5 L650.2 176.9 L649 176.2 L647.8 176.7 L646.6 176.9 L645.4 176.7 L644.2 176.9 L643 176.6 L641.8 176.4 L640.6 175.7 L639.4 176 L638.2 177.1 L637 175.5 L635.8 175.5 L634.6 176.1 L633.5 175.6 L632.3 175.1 L631.1 176.4 L629.9 175.4 L628.7 175.9 L627.5 176.3 L626.3 176.1 L625.1 176.8 L623.9 176.5 L622.7 177.3 L621.5 176.2 L620.3 175.8 L619.1 175.6 L617.9 176.3 L616.7 176.2 L615.6 175.5 L614.4 175.6 L613.2 175.7 L612 176 L610.8 176.4 L609.6 176 L608.4 176.4 L607.2 176.2 L606 176 L604.8 176.4 L603.6 176.4 L602.4 176.5 L601.2 177.1 L600 176.8 L598.8 176.4 L597.7 178 L596.5 177.2 L595.3 176.8 L594.1 177.3 L592.9 176.7 L591.7 177.5 L590.5 177.2 L589.3 176.9 L588.1 178 L586.9 177.2 L585.7 177.6 L584.5 177.1 L583.3 177.3 L582.1 177.8 L580.9 177.8 L579.8 177.4 L578.6 178.2 L577.4 178.2 L576.2 177.8 L575 178.5 L573.8 179.2 L572.6 178.5 L571.4 178.6 L570.2 178.6 L569 178.2 L567.8 178.3 L566.6 178 L565.4 178.1 L564.2 179 L563 178.2 L561.9 178.2 L560.7 179.5 L559.5 178.5 L558.3 178.6 L557.1 178.5 L555.9 178.5 L554.7 178.8 L553.5 178.5 L552.3 178.9 L551.1 178.7 L549.9 178.9 L548.7 179 L547.5 178.6 L546.3 179 L545.1 180.1 L544 178.8 L542.8 178.6 L541.6 178.4 L540.4 179.7 L539.2 178.7 L538 178.6 L536.8 178.8 L535.6 179 L534.4 178.5 L533.2 178.4 L532 178.1 L530.8 178.2 L529.6 178.7 L528.4 178 L527.2 178.5 L526.1 179 L524.9 178.2 L523.7 177.8 L522.5 178.4 L521.3 177.6 L520.1 177.9 L518.9 177.6 L517.7 177.7 L516.5 177.5 L515.3 177.6 L514.1 177.7 L512.9 177.8 L511.7 177.9 L510.5 177.5 L509.3 178.5 L508.2 177.6 L507 178.2 L505.8 177.6 L504.6 178 L503.4 177.9 L502.2 177.6 L501 177.1 L499.8 177.7 L498.6 177.3 L497.4 178.2 L496.2 177 L495 177.3 L493.8 177.1 L492.6 177.1 L491.4 177.1 L490.3 177.7 L489.1 177.1 L487.9 177 L486.7 177.3 L485.5 177 L484.3 176.7 L483.1 177 L481.9 176.8 L480.7 177.5 L479.5 176.7 L478.3 176.4 L477.1 176.7 L475.9 176.5 L474.7 177 L473.5 176.2 L472.4 176.7 L471.2 176.9 L470 176.6 L468.8 177.7 L467.6 177.1 L466.4 176.1 L465.2 176 L464 177.2Z" fill="#808008"/>
<path d="M464 141.4 L465.2 140.5 L466.4 141.1 L467.6 140.3 L468.8 142.1 L470 141.5 L471.2 142.1 L472.4 142.7 L473.5 141.7 L474.7 143.2 L475.9 143.3 L477.1 143.3 L478.3 143.6 L479.5 144 L480.7 143.9 L481.9 143.8 L483.1 144.3 L484.3 144.4 L485.5 144.6 L486.7 144.8 L487.9 144.9 L489.1 144.1 L490.3 144.2 L491.4 144.3 L492.6 144.9 L493.8 144.3 L495 145.1 L496.2 145.5 L497.4 145.3 L498.6 145.4 L499.8 146.1 L501 144.7 L502.2 145.8 L503.4 146.6 L504.6 146.3 L505.8 145.8 L507 146.3 L508.2 145.7 L509.3 146.2 L510.5 146.1 L511.7 146.9 L512.9 146.5 L514.1 146.7 L515.3 147.6 L516.5 147.8 L517.7 148.1 L518.9 147.7 L520.1 147.9 L521.3 147.2 L522.5 147.8 L523.7 148.1 L524.9 148.4 L526.1 147.5 L527.2 148.2 L528.4 148.7 L529.6 148.5 L530.8 148.8 L532 148.8 L533.2 149.4 L534.4 149.1 L535.6 149.7 L536.8 150.1 L538 150.3 L539.2 150 L540.4 150 L541.6 150.8 L542.8 150.8 L544 150.5 L545.1 150.2 L546.3 150.5 L547.5 150.3 L548.7 150.6 L549.9 150.3 L551.1 150.1 L552.3 149.7 L553.5 150.1 L554.7 149.7 L555.9 149.6 L557.1 148.2 L558.3 149.5 L559.5 149.6 L560.7 149.6 L561.9 149 L563 149.1 L564.2 149.2 L565.4 149.3 L566.6 149 L567.8 148.9 L569 148.7 L570.2 147.6 L571.4 148.6 L572.6 148.2 L573.8 148.3 L575 148.4 L576.2 146.9 L577.4 148.2 L578.6 148.1 L579.8 147.7 L580.9 148.1 L582.1 147.6 L583.3 147.6 L584.5 147.3 L585.7 146.5 L586.9 146.4 L588.1 147 L589.3 146.6 L590.5 147 L591.7 146.8 L592.9 146.3 L594.1 146.8 L595.3 146.1 L596.5 146 L597.7 146.3 L598.8 145.5 L600 145.5 L601.2 145.3 L602.4 145.5 L603.6 145.1 L604.8 144.2 L606 144.5 L607.2 143.1 L608.4 144.2 L609.6 143.6 L610.8 143.7 L612 142.8 L613.2 142.8 L614.4 142.7 L615.6 142.4 L616.7 142.4 L617.9 142.1 L619.1 141.3 L620.3 140.4 L621.5 140.9 L622.7 141.1 L623.9 141 L625.1 140.2 L626.3 139.8 L627.5 140.7 L628.7 139.8 L629.9 140.5 L631.1 139.7 L632.3 139.8 L633.5 140.2 L634.6 140.5 L635.8 140.8 L637 140.9 L638.2 140.5 L639.4 140.8 L640.6 141 L641.8 141 L643 141.3 L644.2 141.1 L645.4 141.6 L646.6 141.9 L647.8 141.9 L649 141.9 L650.2 141 L651.4 142 L652.5 142.9 L653.7 142.6 L654.9 142.1 L656.1 143 L657.3 143.6 L658.5 143.5 L659.7 142.7 L660.9 143 L662.1 143.8 L663.3 144.6 L664.5 144.5 L665.7 144.6 L666.9 144.2 L668.1 143.8 L669.3 145 L670.4 144.5 L671.6 145 L672.8 145.3 L674 145.4 L675.2 145.6 L676.4 145.7 L677.6 145.5 L678.8 146 L680 145 L681.2 146.1 L682.4 146.2 L683.6 146.6 L684.8 146.3 L686 146.7 L687.2 146.4 L688.3 146.3 L689.5 146.6 L690.7 146.9 L691.9 147.6 L693.1 146.8 L694.3 147.7 L695.5 147.3 L696.7 148 L697.9 147.9 L699.1 148.1 L700.3 147.6 L701.5 148.3 L702.7 148.3 L703.9 148.4 L705.1 147.8 L706.2 149.2 L707.4 149.1 L708.6 149.1 L709.8 149.5 L711 149 L712.2 150 L713.4 149.6 L714.6 149.8 L715.8 150 L717 150.3 L718.2 149.9 L719.4 150.4 L720.6 150.7 L721.8 150.1 L723 151 L724.1 150.8 L725.3 149.9 L726.5 150.4 L727.7 150 L728.9 149.8 L730.1 150.1 L731.3 150 L732.5 149.7 L733.7 149.5 L734.9 149.8 L736.1 149.4 L737.3 149.8 L738.5 149.1 L739.7 149.6 L740.9 149 L742 148.7 L743.2 148.5 L744.4 149 L745.6 148.9 L746.8 149 L748 148.4 L749.2 147.7 L750.4 148.7 L751.6 147.4 L752.8 148.1 L754 147.8 L755.2 147.9 L756.4 148 L757.6 148.2 L758.8 147.1 L759.9 147.9 L761.1 147.5 L762.3 147.2 L763.5 146.7 L764.7 147.5 L765.9 146.7 L767.1 147.4 L768.3 147 L769.5 147.1 L770.7 146.9 L771.9 146.8 L773.1 145.9 L774.3 146.1 L775.5 146.5 L776.7 146.3 L777.8 145.6 L779 145.5 L780.2 144.7 L781.4 145.4 L782.6 145.1 L783.8 145 L785 143.9 L786.2 144.3 L787.4 143.4 L788.6 143.9 L789.8 143.4 L791 142.9 L792.2 142.3 L793.4 142.4 L794.6 141.6 L795.7 142.4 L796.9 142.2 L798.1 140.6 L799.3 141.2 L800.5 141.2 L801.7 141.2 L802.9 140.7 L804.1 138.5 L805.3 140.9 L806.5 140.3 L807.7 139.9 L808.9 139.8 L810.1 140.2 L811.3 140.4 L812.5 140.8 L813.6 140.4 L814.8 140.1 L816 140.6 L817.2 140.2 L818.4 140.8 L819.6 141.1 L820.8 140.9 L822 141.3 L822 148.1 L820.8 147.7 L819.6 149.2 L818.4 147.5 L817.2 148.2 L816 147.7 L814.8 147.4 L813.6 147.9 L812.5 147.6 L811.3 148.8 L810.1 148.4 L808.9 147.3 L807.7 147.6 L806.5 148 L805.3 148.4 L804.1 147.5 L802.9 148.1 L801.7 148.8 L800.5 148.4 L799.3 148.3 L798.1 149.4 L796.9 149.3 L795.7 149.4 L794.6 149.1 L793.4 150.1 L792.2 149.6 L791 150 L789.8 150.9 L788.6 150.6 L787.4 150.7 L786.2 151.6 L785 151.7 L783.8 152.2 L782.6 151.9 L781.4 152.7 L780.2 154.8 L779 152.9 L777.8 152.6 L776.7 152.8 L775.5 153.7 L774.3 153.2 L773.1 153.3 L771.9 154.8 L770.7 153.7 L769.5 153.8 L768.3 154.3 L767.1 154.5 L765.9 154.1 L764.7 154.2 L763.5 154.5 L762.3 155.7 L761.1 155.3 L759.9 154.6 L758.8 155.2 L757.6 155.4 L756.4 155.2 L755.2 155.1 L754 155.6 L752.8 155.2 L751.6 155.8 L750.4 155.8 L749.2 155.3 L748 155.9 L746.8 155.7 L745.6 155.7 L744.4 156.2 L743.2 156.6 L742 156.5 L740.9 156.5 L739.7 156.8 L738.5 156.7 L737.3 158.1 L736.1 157.8 L734.9 156.6 L733.7 157 L732.5 157.5 L731.3 158 L730.1 157.4 L728.9 158.2 L727.7 158.4 L726.5 157.5 L725.3 158 L724.1 157.7 L723 157.8 L721.8 158 L720.6 157.8 L719.4 157.4 L718.2 158.3 L717 157.4 L715.8 157.6 L714.6 157.4 L713.4 157 L712.2 156.5 L711 157.1 L709.8 156.6 L708.6 155.9 L707.4 155.9 L706.2 155.9 L705.1 155.7 L703.9 155.3 L702.7 155.8 L701.5 156.2 L700.3 155.1 L699.1 155.1 L697.9 156 L696.7 155.1 L695.5 154.9 L694.3 155 L693.1 154.4 L691.9 154.3 L690.7 154.3 L689.5 154.2 L688.3 153.8 L687.2 153.5 L686 154.2 L684.8 154.3 L683.6 153.3 L682.4 154.2 L681.2 153.3 L680 154.3 L678.8 153.1 L677.6 153.4 L676.4 152.7 L675.2 152.3 L674 152.4 L672.8 152.2 L671.6 152.6 L670.4 152.1 L669.3 152 L668.1 151.6 L666.9 151.4 L665.7 151.6 L664.5 152.9 L663.3 151.1 L662.1 151.2 L660.9 150.8 L659.7 151 L658.5 150.7 L657.3 150.5 L656.1 150.3 L654.9 150.8 L653.7 150.3 L652.5 150.8 L651.4 149.5 L650.2 149 L649 150.2 L647.8 149.3 L646.6 148.9 L645.4 148.6 L644.2 148.1 L643 147.9 L641.8 148.2 L640.6 148.4 L639.4 147.7 L638.2 147.5 L637 148 L635.8 147.8 L634.6 148.5 L633.5 147.6 L632.3 147.4 L631.1 147.4 L629.9 147.4 L628.7 147.4 L627.5 148.6 L626.3 147.4 L625.1 147.8 L623.9 148.5 L622.7 148.6 L621.5 148.6 L620.3 148.2 L619.1 149.4 L617.9 149 L616.7 148.9 L615.6 150.5 L614.4 150.6 L613.2 149.8 L612 150.9 L610.8 150.4 L609.6 151 L608.4 151.4 L607.2 151.3 L606 151.4 L604.8 153 L603.6 151.8 L602.4 152.6 L601.2 152.5 L600 152.7 L598.8 153 L597.7 154.2 L596.5 153 L595.3 154.6 L594.1 153.3 L592.9 154 L591.7 154.5 L590.5 154.2 L589.3 155.3 L588.1 154.9 L586.9 154.5 L585.7 154.2 L584.5 154.5 L583.3 154.8 L582.1 155.2 L580.9 155.3 L579.8 155.4 L578.6 155 L577.4 154.8 L576.2 156.3 L575 155.1 L573.8 155.5 L572.6 155.5 L571.4 156 L570.2 156 L569 155.5 L567.8 156.3 L566.6 156.2 L565.4 156.5 L564.2 155.9 L563 156.2 L561.9 156.4 L560.7 156.4 L559.5 156.9 L558.3 156.7 L557.1 156.7 L555.9 157.5 L554.7 156.8 L553.5 156.7 L552.3 157.5 L551.1 157.2 L549.9 157.4 L548.7 157.8 L547.5 158 L546.3 158 L545.1 159.1 L544 158.2 L542.8 157.6 L541.6 157.8 L540.4 158.2 L539.2 157.2 L538 157.5 L536.8 157.2 L535.6 157.9 L534.4 157.1 L533.2 156.8 L532 157.9 L530.8 156.5 L529.6 156.3 L528.4 156.5 L527.2 156.6 L526.1 156.6 L524.9 155.6 L523.7 155.3 L522.5 155.4 L521.3 155.7 L520.1 154.9 L518.9 155 L517.7 154.5 L516.5 154.6 L515.3 154.4 L514.1 154.3 L512.9 154.4 L511.7 154.3 L510.5 154.7 L509.3 154.8 L508.2 154.3 L507 154.7 L505.8 154.2 L504.6 153.5 L503.4 153.9 L502.2 152.9 L501 153.4 L499.8 153.7 L498.6 152.5 L497.4 152.9 L496.2 152.8 L495 152.7 L493.8 152 L492.6 153 L491.4 151.9 L490.3 152.3 L489.1 152.3 L487.9 152.3 L486.7 151.9 L485.5 152.6 L484.3 152.3 L483.1 151.5 L481.9 151.2 L480.7 151 L479.5 151.2 L478.3 150.7 L477.1 150.8 L475.9 150.1 L474.7 150.1 L473.5 150.3 L472.4 149.6 L471.2 149.3 L470 149.4 L468.8 149.1 L467.6 150.3 L466.4 148.2 L465.2 148.1 L464 148.7Z" fill="#800480"/>
<path d="M464 114.5 L465.2 115.1 L466.4 115.8 L467.6 115.9 L468.8 116.3 L470 117 L471.2 116.4 L472.4 117.6 L473.5 117.9 L474.7 118.3 L475.9 119.3 L477.1 119.6 L478.3 119.7 L479.5 120.2 L480.7 120.5 L481.9 121.1 L483.1 119.8 L484.3 120.4 L485.5 121.7 L486.7 121 L487.9 122.3 L489.1 122.3 L490.3 122.8 L491.4 122.5 L492.6 122.2 L493.8 123.2 L495 123.5 L496.2 123.4 L497.4 123.2 L498.6 124 L499.8 123.3 L501 124.5 L502.2 124.8 L503.4 124.2 L504.6 125.1 L505.8 125.2 L507 125.3 L508.2 125.4 L509.3 125.2 L510.5 126 L511.7 125.9 L512.9 126.2 L514.1 126.5 L515.3 126.5 L516.5 126.3 L517.7 126.5 L518.9 127.1 L520.1 127.1 L521.3 127.2 L522.5 127.5 L523.7 128.1 L524.9 128.2 L526.1 128 L527.2 128.2 L528.4 128.5 L529.6 129.4 L530.8 129.1 L532 129.2 L533.2 130.4 L534.4 130.2 L535.6 130.4 L536.8 130.7 L538 131.2 L539.2 130.9 L540.4 131.9 L541.6 131.2 L542.8 131.4 L544 131.7 L545.1 131.6 L546.3 131.7 L547.5 131.7 L548.7 131.1 L549.9 130.8 L551.1 130.1 L552.3 129.9 L553.5 130.3 L554.7 129.8 L555.9 130.1 L557.1 129.8 L558.3 129.9 L559.5 129.9 L560.7 129.7 L561.9 129.5 L563 128.3 L564.2 129.1 L565.4 128.9 L566.6 128.8 L567.8 128 L569 128.4 L570.2 128.7 L571.4 127.2 L572.6 127.8 L573.8 127.7 L575 127.9 L576.2 127 L577.4 126.8 L578.6 127 L579.8 127.2 L580.9 126.5 L582.1 126.2 L583.3 126.2 L584.5 126.4 L585.7 125.4 L586.9 125.8 L588.1 126.1 L589.3 125.3 L590.5 125.7 L591.7 125.4 L592.9 125.2 L594.1 124.9 L595.3 125.5 L596.5 125.3 L597.7 124.7 L598.8 124.9 L600 124.4 L601.2 123.9 L602.4 123.8 L603.6 123.2 L604.8 123.2 L606 122.8 L607.2 121.2 L608.4 121.6 L609.6 120.2 L610.8 120.2 L612 120.7 L613.2 119.9 L614.4 119.7 L615.6 118.8 L616.7 118.4 L617.9 117 L619.1 117.1 L620.3 117.1 L621.5 116.4 L622.7 116.1 L623.9 115.9 L625.1 115.8 L626.3 113.9 L627.5 115 L628.7 115 L629.9 114.9 L631.1 114.9 L632.3 115 L633.5 114.6 L634.6 115.1 L635.8 114.6 L637 114.5 L638.2 114.5 L639.4 113.8 L640.6 114.6 L641.8 114.2 L643 114.8 L644.2 115.4 L645.4 115.4 L646.6 116 L647.8 115.7 L649 116.7 L650.2 116.5 L651.4 117.6 L652.5 118.1 L653.7 118.1 L654.9 118.6 L656.1 119.4 L657.3 120.2 L658.5 119.5 L659.7 120.8 L660.9 120.9 L662.1 121.1 L663.3 120.9 L664.5 121.7 L665.7 121.9 L666.9 122.1 L668.1 122 L669.3 122.8 L670.4 122.8 L671.6 123 L672.8 123.1 L674 123.2 L675.2 123.8 L676.4 123.9 L677.6 123.8 L678.8 124.4 L680 123.1 L681.2 123.7 L682.4 124.4 L683.6 125.2 L684.8 125.2 L686 125.5 L687.2 125.2 L688.3 124.9 L689.5 125.2 L690.7 125.4 L691.9 126.2 L693.1 126.1 L694.3 126.5 L695.5 126.9 L696.7 126.9 L697.9 126.6 L699.1 126.6 L700.3 127.4 L701.5 127.9 L702.7 127.6 L703.9 128.5 L705.1 128.4 L706.2 128.4 L707.4 129.1 L708.6 128.9 L709.8 129.7 L711 130.2 L712.2 130.5 L713.4 130.1 L714.6 130.1 L715.8 130.5 L717 131.4 L718.2 131.3 L719.4 130.9 L720.6 131.3 L721.8 131.4 L723 131.7 L724.1 132 L725.3 131.3 L726.5 131.6 L727.7 131.2 L728.9 131 L730.1 130.4 L731.3 130.7 L732.5 130.3 L733.7 129.3 L734.9 129 L736.1 128.8 L737.3 129.8 L738.5 129.9 L739.7 129.1 L740.9 129.5 L742 129.6 L743.2 129.1 L744.4 129.4 L745.6 128.5 L746.8 127.9 L748 128.2 L749.2 127.3 L750.4 127.5 L751.6 128.1 L752.8 128.2 L754 127.9 L755.2 127.3 L756.4 127.1 L757.6 127.2 L758.8 126.6 L759.9 126.8 L761.1 126.5 L762.3 126.3 L763.5 126.3 L764.7 125.5 L765.9 126.3 L767.1 125.8 L768.3 125.4 L769.5 124.9 L770.7 124.9 L771.9 125.3 L773.1 125.4 L774.3 125.3 L775.5 125.2 L776.7 125.1 L777.8 124 L779 124.6 L780.2 124.2 L781.4 123.8 L782.6 122.9 L783.8 122.7 L785 122.4 L786.2 122.1 L787.4 121.9 L788.6 121.1 L789.8 121.2 L791 120.5 L792.2 120 L793.4 119.1 L794.6 119.4 L795.7 118.7 L796.9 117.4 L798.1 117.3 L799.3 116.6 L800.5 116 L801.7 116.2 L802.9 115.9 L804.1 115.2 L805.3 115.8 L806.5 114.8 L807.7 114.9 L808.9 115.1 L810.1 114.7 L811.3 114.5 L812.5 114.9 L813.6 115 L814.8 114.4 L816 114.7 L817.2 114.7 L818.4 113.8 L819.6 114.2 L820.8 114.5 L822 115 L822 122.2 L820.8 121.8 L819.6 121.4 L818.4 121.4 L817.2 121.4 L816 121.8 L814.8 121.8 L813.6 121.9 L812.5 122.7 L811.3 122.2 L810.1 122 L808.9 122.1 L807.7 122.4 L806.5 122.8 L805.3 122.3 L804.1 122.8 L802.9 122.8 L801.7 123.2 L800.5 123.4 L799.3 123.9 L798.1 124.6 L796.9 125.7 L795.7 125.4 L794.6 126.4 L793.4 126.5 L792.2 127.5 L791 128.4 L789.8 129.3 L788.6 128.2 L787.4 128.6 L786.2 129.5 L785 129.8 L783.8 129.7 L782.6 130.5 L781.4 130.5 L780.2 131.2 L779 131.2 L777.8 131.7 L776.7 132 L775.5 131.9 L774.3 132.4 L773.1 132.9 L771.9 132.6 L770.7 132.7 L769.5 133.7 L768.3 133.3 L767.1 133.8 L765.9 132.8 L764.7 132.9 L763.5 133.7 L762.3 134.1 L761.1 133.4 L759.9 133.7 L758.8 133.8 L757.6 133.9 L756.4 134.8 L755.2 134.2 L754 135.1 L752.8 136.1 L751.6 135.1 L750.4 135.5 L749.2 135.5 L748 135.7 L746.8 135.5 L745.6 136.2 L744.4 137.2 L743.2 137.3 L742 136 L740.9 138 L739.7 136.3 L738.5 137.5 L737.3 137.7 L736.1 136.9 L734.9 136.8 L733.7 137 L732.5 137.2 L731.3 138.5 L730.1 137.9 L728.9 137.9 L727.7 138.1 L726.5 138.5 L725.3 138.5 L724.1 138.9 L723 139.3 L721.8 138.9 L720.6 139.1 L719.4 138.7 L718.2 138.7 L717 138.1 L715.8 137.8 L714.6 137.8 L713.4 137.3 L712.2 137.2 L711 138 L709.8 137 L708.6 137.8 L707.4 136.2 L706.2 136 L705.1 136 L703.9 135 L702.7 134.8 L701.5 134.8 L700.3 134.6 L699.1 134.1 L697.9 134.1 L696.7 134.5 L695.5 134 L694.3 133.6 L693.1 133.5 L691.9 134.4 L690.7 133.1 L689.5 133.6 L688.3 132.8 L687.2 132.5 L686 132 L684.8 132.2 L683.6 131.9 L682.4 132.2 L681.2 132 L680 131.8 L678.8 131 L677.6 131.6 L676.4 130.9 L675.2 131 L674 130.4 L672.8 130.8 L671.6 129.9 L670.4 130.3 L669.3 130 L668.1 129.7 L666.9 130 L665.7 129 L664.5 130 L663.3 129.1 L662.1 128.2 L660.9 128 L659.7 127.4 L658.5 127.3 L657.3 127 L656.1 127.1 L654.9 126.3 L653.7 126 L652.5 125.1 L651.4 125.6 L650.2 124.4 L649 123.8 L647.8 123.5 L646.6 123.5 L645.4 122.4 L644.2 122.1 L643 123.1 L641.8 122.2 L640.6 121.4 L639.4 121.8 L638.2 122.1 L637 121.4 L635.8 121.7 L634.6 122 L633.5 122.4 L632.3 121.8 L631.1 122.5 L629.9 122.4 L628.7 122.9 L627.5 122.1 L626.3 122.5 L625.1 122.9 L623.9 122.7 L622.7 123.2 L621.5 123.4 L620.3 124.3 L619.1 124.7 L617.9 125.5 L616.7 126.2 L615.6 126.5 L614.4 126.4 L613.2 126.8 L612 127.3 L610.8 128.3 L609.6 128 L608.4 128.5 L607.2 129.1 L606 129.6 L604.8 130.1 L603.6 130.2 L602.4 130.9 L601.2 131.6 L600 131.6 L598.8 131.6 L597.7 131.9 L596.5 132.7 L595.3 132.1 L594.1 132.2 L592.9 132.7 L591.7 133.2 L590.5 133.2 L589.3 132.8 L588.1 132.6 L586.9 133.2 L585.7 133.2 L584.5 133.8 L583.3 133.6 L582.1 133.4 L580.9 133.7 L579.8 134.2 L578.6 134.2 L577.4 134.4 L576.2 134.9 L575 135.7 L573.8 134.6 L572.6 135.3 L571.4 135.6 L570.2 135.5 L569 136.6 L567.8 136.5 L566.6 136.2 L565.4 136.2 L564.2 135.9 L563 136.1 L561.9 136.4 L560.7 137 L559.5 136.5 L558.3 137 L557.1 138 L555.9 137.1 L554.7 138.6 L553.5 137.3 L552.3 137.4 L551.1 137.6 L549.9 137.8 L548.7 138.9 L547.5 138.3 L546.3 139.5 L545.1 139.2 L544 138.9 L542.8 138.6 L541.6 138.9 L540.4 138.6 L539.2 138.1 L538 138 L536.8 138.2 L535.6 138 L534.4 137.4 L533.2 137.3 L532 137.3 L530.8 136.5 L529.6 136.3 L528.4 135.9 L527.2 135.6 L526.1 135.4 L524.9 135.1 L523.7 134.9 L522.5 134.5 L521.3 134.4 L520.1 134.3 L518.9 133.8 L517.7 134.2 L516.5 133.5 L515.3 133.4 L514.1 133.3 L512.9 133.8 L511.7 133 L510.5 132.6 L509.3 132.5 L508.2 132.8 L507 132.2 L505.8 132.4 L504.6 132.3 L503.4 132 L502.2 131.9 L501 131.3 L499.8 131.5 L498.6 131.1 L497.4 131.4 L496.2 131.1 L495 130.8 L493.8 131.1 L492.6 129.9 L491.4 129.9 L490.3 129.6 L489.1 129.4 L487.9 129.5 L486.7 129.4 L485.5 128.5 L484.3 128.2 L483.1 127.9 L481.9 128.2 L480.7 127.4 L479.5 128.7 L478.3 126.8 L477.1 127.3 L475.9 126 L474.7 126 L473.5 125 L472.4 124.8 L471.2 124.6 L470 123.9 L468.8 124.2 L467.6 122.9 L466.4 122.7 L465.2 122.3 L464 122.5Z" fill="#fc0cf8"/>
<path d="M464 67.1 L465.2 67.3 L466.4 66.9 L467.6 68 L468.8 69 L470 69.8 L471.2 70.3 L472.4 71.2 L473.5 72.3 L474.7 72.9 L475.9 73.8 L477.1 74.1 L478.3 74.3 L479.5 75.6 L480.7 76.3 L481.9 76.1 L483.1 77.5 L484.3 77.3 L485.5 78.5 L486.7 79.5 L487.9 79.7 L489.1 80.5 L490.3 80.5 L491.4 80.9 L492.6 81.4 L493.8 80.9 L495 81.6 L496.2 81.3 L497.4 81.2 L498.6 81.7 L499.8 82 L501 82.3 L502.2 82.8 L503.4 83.5 L504.6 84.3 L505.8 84.4 L507 85.6 L508.2 86.3 L509.3 86.8 L510.5 87.9 L511.7 88.2 L512.9 89.2 L514.1 89.1 L515.3 90 L516.5 89.6 L517.7 89.5 L518.9 89.6 L520.1 89.2 L521.3 89.3 L522.5 89.2 L523.7 88.9 L524.9 89.9 L526.1 90.2 L527.2 91.3 L528.4 92 L529.6 92.1 L530.8 93.1 L532 93.7 L533.2 94 L534.4 95 L535.6 95.6 L536.8 96.3 L538 96.6 L539.2 97.3 L540.4 97.4 L541.6 97.9 L542.8 98.5 L544 98.5 L545.1 98.5 L546.3 98 L547.5 97.4 L548.7 96.8 L549.9 96.3 L551.1 95.7 L552.3 95.3 L553.5 94.5 L554.7 94.3 L555.9 93 L557.1 92.4 L558.3 92.7 L559.5 92.3 L560.7 91.9 L561.9 92.1 L563 90.8 L564.2 91.9 L565.4 91.7 L566.6 92 L567.8 92.5 L569 92.8 L570.2 93.2 L571.4 93.1 L572.6 92.9 L573.8 91 L575 92 L576.2 91.2 L577.4 90.8 L578.6 90.8 L579.8 90.2 L580.9 89.4 L582.1 89.2 L583.3 88.8 L584.5 88 L585.7 87.8 L586.9 87.7 L588.1 87.2 L589.3 86.8 L590.5 87.5 L591.7 87 L592.9 87.5 L594.1 87.7 L595.3 87.8 L596.5 87.4 L597.7 87.4 L598.8 87 L600 86.1 L601.2 85.9 L602.4 84.7 L603.6 83.7 L604.8 83.2 L606 81.5 L607.2 80.7 L608.4 80.4 L609.6 79.2 L610.8 77.7 L612 77.6 L613.2 76.5 L614.4 75.8 L615.6 74.7 L616.7 74.2 L617.9 73.1 L619.1 73 L620.3 72.4 L621.5 72 L622.7 71.6 L623.9 71.8 L625.1 71.2 L626.3 71.7 L627.5 71.2 L628.7 71.2 L629.9 70.5 L631.1 70.9 L632.3 70.5 L633.5 69.8 L634.6 68.9 L635.8 68.9 L637 68.4 L638.2 67.6 L639.4 67 L640.6 66.9 L641.8 66.6 L643 66.9 L644.2 67.4 L645.4 67.6 L646.6 68.4 L647.8 68.9 L649 69.5 L650.2 70.6 L651.4 71.4 L652.5 72.1 L653.7 72.1 L654.9 73.4 L656.1 73.9 L657.3 74.9 L658.5 75.6 L659.7 76.1 L660.9 76.9 L662.1 77.5 L663.3 77.9 L664.5 78.7 L665.7 79.4 L666.9 79.8 L668.1 80.4 L669.3 80.9 L670.4 80.6 L671.6 81.2 L672.8 81.5 L674 81.4 L675.2 81.7 L676.4 81.5 L677.6 81.4 L678.8 81.7 L680 81.4 L681.2 82.8 L682.4 83 L683.6 83.8 L684.8 84.9 L686 85.7 L687.2 86.4 L688.3 87 L689.5 88.2 L690.7 88.3 L691.9 88.7 L693.1 89.7 L694.3 90.1 L695.5 89.5 L696.7 90 L697.9 89.6 L699.1 89.2 L700.3 89.4 L701.5 89.1 L702.7 89.5 L703.9 89.9 L705.1 90.2 L706.2 91.2 L707.4 91.4 L708.6 91.5 L709.8 92.7 L711 93.9 L712.2 93.5 L713.4 95 L714.6 95.6 L715.8 96.1 L717 96.7 L718.2 97.3 L719.4 97.6 L720.6 97.9 L721.8 98.4 L723 98.5 L724.1 98.6 L725.3 98.1 L726.5 97.5 L727.7 97.2 L728.9 96.4 L730.1 96 L731.3 95.1 L732.5 94.5 L733.7 93.7 L734.9 93.5 L736.1 93.3 L737.3 92.9 L738.5 92 L739.7 92 L740.9 91.9 L742 91.3 L743.2 91.6 L744.4 91.9 L745.6 92.3 L746.8 92.5 L748 93 L749.2 92.8 L750.4 93.3 L751.6 92.8 L752.8 92.3 L754 91.6 L755.2 91.9 L756.4 91.3 L757.6 90.9 L758.8 90.4 L759.9 89.8 L761.1 89.3 L762.3 88.8 L763.5 88 L764.7 88 L765.9 87.8 L767.1 87.7 L768.3 87.2 L769.5 87.4 L770.7 86.7 L771.9 87.7 L773.1 87.6 L774.3 87.8 L775.5 87.3 L776.7 87.2 L777.8 86.4 L779 86.6 L780.2 85.6 L781.4 85.2 L782.6 83.9 L783.8 83 L785 81.4 L786.2 80.7 L787.4 80.3 L788.6 79.5 L789.8 78.3 L791 77 L792.2 76.7 L793.4 75.2 L794.6 74.9 L795.7 74.2 L796.9 73 L798.1 72.6 L799.3 72.6 L800.5 72 L801.7 72 L802.9 71.7 L804.1 71.4 L805.3 71.6 L806.5 71.1 L807.7 71.2 L808.9 71.1 L810.1 70 L811.3 70.4 L812.5 70 L813.6 69.5 L814.8 68.6 L816 68.4 L817.2 67.8 L818.4 67.4 L819.6 67.2 L820.8 66.9 L822 67.2 L822 73.7 L820.8 73.7 L819.6 74.2 L818.4 74.1 L817.2 74.4 L816 75.1 L814.8 75.5 L813.6 76.1 L812.5 76.5 L811.3 77.3 L810.1 77.3 L808.9 78 L807.7 77.9 L806.5 78.4 L805.3 78.4 L804.1 78.4 L802.9 78.4 L801.7 78.8 L800.5 78.9 L799.3 79.1 L798.1 80.2 L796.9 80.1 L795.7 80.9 L794.6 82.2 L793.4 82.6 L792.2 83.5 L791 84.5 L789.8 85.5 L788.6 86 L787.4 87.1 L786.2 88.3 L785 88.9 L783.8 89.9 L782.6 90.9 L781.4 91.7 L780.2 92.9 L779 93.9 L777.8 93.7 L776.7 94.6 L775.5 94.6 L774.3 94.5 L773.1 94.4 L771.9 94.5 L770.7 94.9 L769.5 94.5 L768.3 94.4 L767.1 94.6 L765.9 94.9 L764.7 94.6 L763.5 95 L762.3 95.5 L761.1 96.3 L759.9 96.9 L758.8 97 L757.6 97.4 L756.4 98.1 L755.2 98.7 L754 99.1 L752.8 99.3 L751.6 100.2 L750.4 100.1 L749.2 100.2 L748 100.6 L746.8 99.3 L745.6 99.3 L744.4 98.5 L743.2 98.4 L742 98.6 L740.9 98.5 L739.7 99 L738.5 99.2 L737.3 99.5 L736.1 99.9 L734.9 100.8 L733.7 101.1 L732.5 101.6 L731.3 101.8 L730.1 102.7 L728.9 103.2 L727.7 103.9 L726.5 104.4 L725.3 104.8 L724.1 105.7 L723 105.1 L721.8 105.3 L720.6 105.1 L719.4 104.3 L718.2 104 L717 104.3 L715.8 103.1 L714.6 102.8 L713.4 101.7 L712.2 101.6 L711 100.4 L709.8 100.2 L708.6 99.7 L707.4 98.6 L706.2 97.9 L705.1 97.3 L703.9 97 L702.7 96.8 L701.5 96 L700.3 96.1 L699.1 96.5 L697.9 96.3 L696.7 97 L695.5 97.2 L694.3 97.1 L693.1 96.6 L691.9 96 L690.7 95.3 L689.5 95.2 L688.3 94.3 L687.2 93.5 L686 93.2 L684.8 91.7 L683.6 91.2 L682.4 90.5 L681.2 90.1 L680 89.4 L678.8 89.3 L677.6 88.6 L676.4 88.4 L675.2 88.4 L674 88.2 L672.8 88.1 L671.6 88.1 L670.4 88.1 L669.3 87.5 L668.1 87.3 L666.9 86.7 L665.7 86.3 L664.5 85.6 L663.3 85.6 L662.1 84.5 L660.9 83.9 L659.7 82.9 L658.5 82.7 L657.3 81.6 L656.1 81.6 L654.9 80.3 L653.7 80.3 L652.5 79 L651.4 78.3 L650.2 77.2 L649 76.4 L647.8 76.2 L646.6 75 L645.4 74.4 L644.2 74 L643 73.7 L641.8 73.9 L640.6 73.9 L639.4 74 L638.2 74.7 L637 75.2 L635.8 75.6 L634.6 76.4 L633.5 76.6 L632.3 77.5 L631.1 77.4 L629.9 77.8 L628.7 78.5 L627.5 78.2 L626.3 78.3 L625.1 78.6 L623.9 78.7 L622.7 79.2 L621.5 78.8 L620.3 79.1 L619.1 79.7 L617.9 80.3 L616.7 80.8 L615.6 81.9 L614.4 82.6 L613.2 83.6 L612 84.3 L610.8 85.2 L609.6 86.6 L608.4 87 L607.2 87.9 L606 89.2 L604.8 90.4 L603.6 90.7 L602.4 91.8 L601.2 92.7 L600 93.2 L598.8 93.7 L597.7 94 L596.5 94.4 L595.3 94.6 L594.1 94.8 L592.9 94.8 L591.7 94.6 L590.5 94.5 L589.3 94.5 L588.1 94.5 L586.9 94.6 L585.7 95.1 L584.5 94.9 L583.3 95.8 L582.1 96.2 L580.9 97.1 L579.8 97 L578.6 97.4 L577.4 98.3 L576.2 98.5 L575 99.3 L573.8 99.3 L572.6 99.7 L571.4 99.7 L570.2 100.3 L569 100 L567.8 99.2 L566.6 99.3 L565.4 98.7 L564.2 98.7 L563 98.4 L561.9 98.5 L560.7 99.6 L559.5 99.4 L558.3 99.8 L557.1 99.9 L555.9 100.3 L554.7 100.8 L553.5 101.6 L552.3 101.9 L551.1 102.7 L549.9 103.4 L548.7 104.5 L547.5 104.5 L546.3 105.1 L545.1 105.2 L544 105.3 L542.8 105.2 L541.6 105.1 L540.4 104.3 L539.2 104.1 L538 103.4 L536.8 103.6 L535.6 103.1 L534.4 101.8 L533.2 101.2 L532 101.1 L530.8 100.1 L529.6 99.3 L528.4 98.6 L527.2 97.8 L526.1 97.6 L524.9 96.8 L523.7 96.9 L522.5 96.6 L521.3 96 L520.1 96.4 L518.9 96.4 L517.7 96.5 L516.5 96.8 L515.3 96.7 L514.1 96.5 L512.9 96.4 L511.7 95.5 L510.5 94.7 L509.3 94.2 L508.2 93.6 L507 92.5 L505.8 91.9 L504.6 91.5 L503.4 90.3 L502.2 89.7 L501 89.5 L499.8 88.7 L498.6 88.7 L497.4 88.2 L496.2 88.4 L495 88.4 L493.8 88.1 L492.6 88.3 L491.4 88.5 L490.3 87.5 L489.1 87.1 L487.9 87.1 L486.7 86.5 L485.5 85.7 L484.3 84.9 L483.1 84.4 L481.9 83.8 L480.7 83 L479.5 82.6 L478.3 81.6 L477.1 81.4 L475.9 80.8 L474.7 80.2 L473.5 78.8 L472.4 78.3 L471.2 77.9 L470 77.1 L468.8 76 L467.6 75 L466.4 74.3 L465.2 73.9 L464 74Z" fill="#04047e"/>
</g>
<rect x="464" y="45" width="358" height="246.5" fill="none" stroke="#2a2a2a" stroke-width="1.3"/>
<line x1="464" y1="291.5" x2="467" y2="291.5" stroke="#222" stroke-width="1.2"/>
<text x="458.5" y="295.5" font-size="15" fill="#2c2c2c" text-anchor="end" letter-spacing="0.5" >0</text>
<line x1="464" y1="229.9" x2="467" y2="229.9" stroke="#222" stroke-width="1.2"/>
<text x="458.5" y="233.9" font-size="15" fill="#2c2c2c" text-anchor="end" letter-spacing="0.5" >100</text>
<line x1="464" y1="168.2" x2="467" y2="168.2" stroke="#222" stroke-width="1.2"/>
<text x="458.5" y="172.2" font-size="15" fill="#2c2c2c" text-anchor="end" letter-spacing="0.5" >200</text>
<line x1="464" y1="106.6" x2="467" y2="106.6" stroke="#222" stroke-width="1.2"/>
<text x="458.5" y="110.6" font-size="15" fill="#2c2c2c" text-anchor="end" letter-spacing="0.5" >300</text>
<line x1="464" y1="45" x2="467" y2="45" stroke="#222" stroke-width="1.2"/>
<text x="458.5" y="49" font-size="15" fill="#2c2c2c" text-anchor="end" letter-spacing="0.5" >400</text>
<line x1="464" y1="260.7" x2="465.8" y2="260.7" stroke="#222" stroke-width="1"/>
<line x1="464" y1="199.1" x2="465.8" y2="199.1" stroke="#222" stroke-width="1"/>
<line x1="464" y1="137.4" x2="465.8" y2="137.4" stroke="#222" stroke-width="1"/>
<line x1="464" y1="75.8" x2="465.8" y2="75.8" stroke="#222" stroke-width="1"/>
<text x="464" y="310.8" font-size="15" fill="#2c2c2c" text-anchor="middle" letter-spacing="0.5" >0</text>
<text x="523.7" y="310.8" font-size="15" fill="#2c2c2c" text-anchor="middle" letter-spacing="0.5" >60</text>
<text x="583.3" y="310.8" font-size="15" fill="#2c2c2c" text-anchor="middle" letter-spacing="0.5" >120</text>
<text x="643" y="310.8" font-size="15" fill="#2c2c2c" text-anchor="middle" letter-spacing="0.5" >180</text>
<text x="702.7" y="310.8" font-size="15" fill="#2c2c2c" text-anchor="middle" letter-spacing="0.5" >240</text>
<text x="762.3" y="310.8" font-size="15" fill="#2c2c2c" text-anchor="middle" letter-spacing="0.5" >300</text>
<text x="822" y="310.8" font-size="15" fill="#2c2c2c" text-anchor="middle" letter-spacing="0.5" >360</text>
<text x="514.3" y="69.9" font-size="15.4" fill="#262626" ><tspan font-style="italic">T</tspan> = 2 K</text>
<text x="719.5" y="281.5" font-size="15" fill="#222" >0.4 T</text>
<text x="826" y="74.7" font-size="15" fill="#23237c" >7 T</text>
<text x="826" y="122" font-size="15" fill="#f23cec" >5 T</text>
<text x="826" y="149.4" font-size="15" fill="#862286" >4 T</text>
<text x="826" y="177.8" font-size="15" fill="#88882a" >3 T</text>
<text x="827.8" y="193.2" font-size="15" fill="#e23030" >2.4 T</text>
<text x="825.5" y="224.4" font-size="15" fill="#2020cc" >1.5 T</text>
<text x="825.8" y="246" font-size="15" fill="#228886" >1 T</text>
<text x="825" y="270.5" font-size="15" fill="#38e838" >0.8 T</text>
<text x="827.5" y="296.1" font-size="15" fill="#8c2ce4" >0.6 T</text>
<text x="602.5" y="335.2" font-size="18.4" fill="#262626" ><tspan font-style="italic" font-size="13.8">θ</tspan><tspan dx="3.4">(degree)</tspan></text>
<text transform="translate(418.3 221.8) rotate(-90)" font-size="16" fill="#262626"><tspan font-style="italic">ρ</tspan><tspan font-style="italic" font-size="8.5" dy="4" dx="0.5">c</tspan><tspan dy="-4" dx="3.5" font-size="17.5">(μΩ cm)</tspan></text>
<text x="409.5" y="51.2" font-size="22.5" fill="#111" font-weight="bold" >b</text>
</g>
<g id="panel-c">
<circle cx="1114" cy="182.7" r="21.7" fill="none" stroke="#c4c4c4" stroke-width="0.8"/>
<circle cx="1114" cy="182.7" r="65.2" fill="none" stroke="#c4c4c4" stroke-width="0.8"/>
<circle cx="1114" cy="182.7" r="108.7" fill="none" stroke="#c4c4c4" stroke-width="0.8"/>
<circle cx="1114" cy="182.7" r="43.5" fill="none" stroke="#858585" stroke-width="0.85"/>
<circle cx="1114" cy="182.7" r="87" fill="none" stroke="#858585" stroke-width="0.85"/>
<circle cx="1114" cy="182.7" r="130.5" fill="none" stroke="#858585" stroke-width="0.85"/>
<line x1="1114" y1="182.7" x2="1182.8" y2="63.4" stroke="#cfcfcf" stroke-width="1" stroke-dasharray="1.5 1.5"/>
<line x1="1114" y1="182.7" x2="1251.7" y2="182.7" stroke="#cfcfcf" stroke-width="1" stroke-dasharray="1.5 1.5"/>
<line x1="1114" y1="182.7" x2="1182.8" y2="302" stroke="#cfcfcf" stroke-width="1" stroke-dasharray="1.5 1.5"/>
<line x1="1114" y1="182.7" x2="1045.2" y2="302" stroke="#cfcfcf" stroke-width="1" stroke-dasharray="1.5 1.5"/>
<line x1="1114" y1="182.7" x2="976.3" y2="182.7" stroke="#cfcfcf" stroke-width="1" stroke-dasharray="1.5 1.5"/>
<line x1="1114" y1="182.7" x2="1045.1" y2="63.4" stroke="#cfcfcf" stroke-width="1" stroke-dasharray="1.5 1.5"/>
<line x1="1114" y1="182.7" x2="1114" y2="45" stroke="#dcae5c" stroke-width="1.1"/>
<line x1="1114" y1="182.7" x2="1233.3" y2="113.8" stroke="#dcae5c" stroke-width="1.1"/>
<line x1="1114" y1="182.7" x2="1233.3" y2="251.5" stroke="#dcae5c" stroke-width="1.1"/>
<line x1="1114" y1="182.7" x2="1114" y2="320.4" stroke="#dcae5c" stroke-width="1.1"/>
<line x1="1114" y1="182.7" x2="994.7" y2="251.6" stroke="#dcae5c" stroke-width="1.1"/>
<line x1="1114" y1="182.7" x2="994.7" y2="113.8" stroke="#dcae5c" stroke-width="1.1"/>
<text x="1087.7" y="76.5" font-size="15" fill="#d84848" >2.4 T</text>
<text x="1114.8" y="91.6" font-size="15" fill="#3434c4" >1.5 T</text>
<text x="1123.3" y="113.6" font-size="15" fill="#2a8a88" >1 T</text>
<text x="1124.5" y="134.2" font-size="15" fill="#58e058" >0.8 T</text>
<text x="1126" y="159.3" font-size="15" fill="#9444e0" >0.6 T</text>
<path d="M1114 56.2 L1116.6 56.5 L1119.3 56.4 L1122 56.2 L1124.6 57 L1127.2 57.1 L1129.9 57.2 L1132.5 57.7 L1135.1 58.2 L1137.8 58 L1140.4 58.5 L1142.9 59.7 L1145.5 60.1 L1148 60.9 L1150.5 61.8 L1153 62.6 L1155.6 63.4 L1158.1 64.1 L1160.5 65.4 L1163.2 65.7 L1165.4 67.2 L1168.5 67 L1170.2 69.5 L1172.8 70.3 L1175 71.7 L1177.4 72.9 L1179.5 74.5 L1181.8 75.9 L1184.2 77.1 L1186.2 78.9 L1188.5 80.2 L1190.5 81.9 L1192.9 83.1 L1194.6 85.3 L1196.5 87.1 L1199.4 87.8 L1200.4 90.7 L1202.5 92.3 L1204.6 94 L1206.1 96.2 L1208 98 L1209.6 100.2 L1212.2 101.4 L1213.4 103.9 L1214.7 106.3 L1216.1 108.5 L1217.7 110.6 L1219.4 112.7 L1221.1 114.8 L1222.1 117.2 L1223.3 119.6 L1225.3 121.5 L1225.9 124.2 L1227.7 126.2 L1228.4 128.9 L1230 131.1 L1230.5 133.7 L1231.4 136.2 L1232.5 138.6 L1233.2 141.2 L1234.7 143.5 L1234.8 146.2 L1235.7 148.7 L1236.6 151.2 L1238.1 153.6 L1237.4 156.5 L1238.2 159 L1238.6 161.6 L1239.4 164.2 L1239.3 166.9 L1239.8 169.5 L1239.8 172.1 L1240.6 174.7 L1240.2 177.4 L1240.7 180 L1240.7 182.7 L1241.4 185.4 L1240.2 188 L1240 190.6 L1239.9 193.3 L1239.8 195.9 L1240 198.6 L1239.1 201.2 L1238.6 203.8 L1238 206.4 L1237.6 209 L1237.3 211.6 L1236.5 214.1 L1236.1 216.8 L1235 219.2 L1234.9 222 L1233.9 224.5 L1233.5 227.1 L1231.5 229.2 L1230.6 231.7 L1229.4 234.1 L1228.6 236.6 L1227.6 239.1 L1226 241.3 L1225.1 243.8 L1223.4 245.8 L1222 248.1 L1221.7 251.1 L1219.5 252.8 L1217.8 254.9 L1216.4 257.1 L1215.8 260 L1213.6 261.6 L1211.6 263.4 L1209.9 265.5 L1208 267.3 L1206.4 269.4 L1204.3 271.1 L1202.5 273 L1200.8 275.1 L1198.6 276.6 L1196.8 278.6 L1194.5 280 L1192.7 282 L1190.6 283.6 L1188.4 285.1 L1186.1 286.5 L1184.3 288.5 L1181.9 289.7 L1179.4 290.7 L1177.2 292.1 L1175.1 293.8 L1172.6 294.8 L1170.4 296.3 L1167.9 297.2 L1165.3 298 L1162.9 299 L1160.5 300.2 L1158.3 301.7 L1155.6 302.1 L1153.1 303.1 L1150.7 304.3 L1148 304.4 L1145.4 305.1 L1142.9 305.8 L1140.3 306.4 L1137.7 307.1 L1135.1 307.7 L1132.5 307.7 L1129.9 308.4 L1127.2 308.4 L1124.6 308.7 L1122 309.1 L1119.3 309.7 L1116.7 309.4 L1114 310.2 L1111.4 309.2 L1108.7 309.5 L1106.1 308.7 L1103.4 309.4 L1100.8 308.7 L1098.1 308.4 L1095.6 307.6 L1092.9 307.7 L1090.3 307.1 L1087.7 306.2 L1085 306.2 L1082.6 304.9 L1080 304.5 L1077.5 303.7 L1074.9 302.9 L1072.4 302.2 L1069.9 301.4 L1067.2 300.9 L1065.1 299.1 L1062.5 298.5 L1060.1 297.3 L1057.9 295.8 L1055.3 295 L1053.1 293.5 L1050.8 292.2 L1048.5 290.9 L1046.2 289.6 L1044.1 287.9 L1041.8 286.5 L1039.7 285 L1037.7 283.3 L1034.9 282.5 L1033.2 280.4 L1031.4 278.3 L1029.3 276.8 L1027.6 274.8 L1025.6 272.9 L1023.8 271 L1022 269.1 L1020.1 267.2 L1017.7 265.8 L1016.6 263.3 L1014.7 261.4 L1013.3 259.2 L1011.9 256.9 L1010 255 L1008.7 252.7 L1007.1 250.6 L1005.7 248.3 L1004.1 246.1 L1002.8 243.8 L1001.5 241.5 L1000.6 239 L999.4 236.6 L998.6 234.1 L997.5 231.7 L996.3 229.3 L995.4 226.8 L994.7 224.2 L993.8 221.8 L992.7 219.3 L992.3 216.7 L991.3 214.2 L991.2 211.5 L990.5 208.9 L989.1 206.5 L988.5 203.9 L988.5 201.2 L988 198.6 L988.3 195.9 L988.2 193.3 L988 190.6 L988 188 L987.6 185.3 L987.6 182.7 L987.6 180.1 L987.3 177.4 L988 174.8 L987.8 172.1 L988.3 169.5 L988.8 166.9 L988.8 164.2 L989.2 161.6 L990 159.1 L990.1 156.4 L991.1 153.9 L991.6 151.3 L992.1 148.7 L992.9 146.1 L993.2 143.5 L994.2 141 L994.8 138.4 L995.4 135.7 L997.5 133.7 L998.7 131.4 L999.6 128.9 L1000.1 126.2 L1001.7 124 L1003.5 121.9 L1004.4 119.4 L1005.9 117.2 L1007 114.8 L1008.3 112.4 L1010 110.5 L1011.4 108.2 L1013.4 106.3 L1014.9 104.2 L1016.1 101.7 L1018.1 99.9 L1020.1 98.2 L1021.6 95.9 L1023.8 94.3 L1025.7 92.5 L1027.6 90.6 L1029.2 88.5 L1031.5 87.1 L1033.5 85.4 L1035.5 83.7 L1037.7 82.2 L1039.7 80.4 L1041.3 78 L1044 77.3 L1046.3 76 L1048.2 74 L1050.6 72.8 L1053.1 72 L1055.4 70.7 L1057.9 69.6 L1060.2 68.3 L1062.7 67.4 L1064.9 66 L1067.5 65.3 L1070 64.4 L1072.5 63.5 L1075 62.7 L1077.3 61 L1080 60.8 L1082.6 60.3 L1085.1 59.5 L1087.8 59.2 L1090.2 58.2 L1092.8 57.4 L1095.5 57.4 L1098.2 57.4 L1100.7 56.5 L1103.4 56.7 L1106 56.2 L1108.7 56 L1111.3 55.7 L1114 56.2ZM1114 61.4 L1111.5 61.8 L1109 62.7 L1106.4 61.8 L1103.9 62.1 L1101.3 62.1 L1098.9 62.9 L1096.4 63.2 L1093.8 63.2 L1091.5 64.6 L1088.8 64 L1086.3 64.5 L1083.8 65.2 L1081.4 65.8 L1079.1 67.1 L1076.8 68.1 L1074.2 68.5 L1072 69.7 L1069.6 70.5 L1067.2 71.4 L1064.8 72.2 L1062.7 73.7 L1060.1 74.1 L1058 75.5 L1055.6 76.4 L1053.3 77.6 L1051.4 79.4 L1049 80.3 L1046.9 81.7 L1044.9 83.3 L1042.8 84.7 L1040.6 86 L1039 88.1 L1036.7 89.3 L1035.2 91.4 L1033.1 92.8 L1030.9 94.3 L1029.8 96.7 L1027.4 97.9 L1025.8 99.9 L1024.1 101.8 L1022.1 103.4 L1020.6 105.4 L1019.2 107.5 L1017.5 109.5 L1016.4 111.8 L1014.5 113.6 L1013.3 115.8 L1011.5 117.7 L1010.3 119.9 L1009.2 122.2 L1008.4 124.6 L1006.7 126.6 L1005.3 128.8 L1004.4 131.1 L1003.4 133.4 L1002.1 135.7 L1001.4 138.1 L1000.5 140.5 L1000 143 L998.9 145.3 L998.1 147.7 L997.3 150.1 L998.1 152.9 L996.4 155.1 L995.9 157.6 L996.1 160.2 L995.1 162.6 L994.3 165 L994.2 167.6 L994.1 170.1 L993.3 172.6 L992.8 175.1 L992.7 177.6 L993 180.2 L993.4 182.7 L992.9 185.2 L992.9 187.8 L993.3 190.3 L993.7 192.8 L994.2 195.3 L993.7 197.9 L994.4 200.4 L995.1 202.8 L995.1 205.4 L995.9 207.8 L996.4 210.3 L996.7 212.8 L997.6 215.2 L998.1 217.7 L998.8 220.1 L999.9 222.5 L1000.4 224.9 L1001.3 227.3 L1002.5 229.6 L1003.3 232 L1004.8 234.1 L1005.6 236.5 L1006.4 238.9 L1008 241 L1009.1 243.3 L1010.9 245.1 L1011.7 247.6 L1013.7 249.3 L1015.3 251.3 L1016 253.9 L1017.7 255.8 L1019.2 257.8 L1020.4 260.1 L1022.3 261.9 L1023.8 263.9 L1025.7 265.7 L1027.3 267.6 L1029.4 269.1 L1031 271.1 L1033 272.7 L1034.8 274.5 L1036.9 275.9 L1038.6 277.8 L1040.6 279.4 L1043.2 280.1 L1044.7 282.4 L1047.1 283.5 L1049.4 284.5 L1051.8 285.5 L1053.5 287.6 L1056 288.2 L1058.2 289.5 L1060.1 291.2 L1062.3 292.6 L1064.7 293.4 L1067.1 294.2 L1069.7 294.6 L1071.7 296.4 L1074.2 297 L1076.7 297.4 L1078.9 298.8 L1081.5 299.1 L1083.8 300.2 L1086.4 300.4 L1088.9 300.7 L1091.4 301.1 L1093.8 302 L1096.3 302.6 L1098.8 303.1 L1101.3 303.2 L1103.9 302.7 L1106.4 303.5 L1108.9 303.8 L1111.5 303.4 L1114 303.9 L1116.5 303.9 L1119.1 303.9 L1121.6 303.5 L1124.2 303.7 L1126.7 303.2 L1129.2 303.1 L1131.6 301.8 L1134.2 302.2 L1136.8 302 L1139 300.5 L1141.4 299.7 L1144.1 299.8 L1146.4 298.8 L1148.8 297.9 L1151.4 297.9 L1153.9 297.3 L1156.2 296.2 L1158.5 295 L1160.9 294.3 L1163.3 293.3 L1165.4 292 L1167.8 291.1 L1170 289.8 L1172.3 288.7 L1174.7 287.8 L1176.6 286 L1178.7 284.6 L1181 283.6 L1183 282 L1184.9 280.3 L1186.9 278.8 L1188.8 277.1 L1191.4 276.3 L1193.2 274.4 L1195.1 272.8 L1196.5 270.5 L1198.7 269.2 L1200.7 267.6 L1201.8 265.1 L1203.9 263.6 L1205.5 261.7 L1207.3 259.9 L1208.9 257.9 L1210.5 256 L1212.2 254.1 L1213.5 251.8 L1214.5 249.5 L1215.6 247.2 L1217.3 245.2 L1218.9 243.3 L1220.4 241.2 L1220.9 238.6 L1222.5 236.5 L1223.6 234.3 L1224 231.7 L1225.1 229.4 L1226.8 227.3 L1227.5 224.9 L1228.4 222.5 L1228.9 220 L1230.2 217.8 L1230.5 215.2 L1231.2 212.8 L1231.4 210.2 L1232.4 207.9 L1232.8 205.4 L1233.2 202.9 L1233.9 200.4 L1234 197.9 L1234.3 195.3 L1234.2 192.8 L1235.1 190.3 L1234.8 187.8 L1234.8 185.2 L1235.2 182.7 L1235.2 180.2 L1235.1 177.6 L1235 175.1 L1235 172.5 L1234.4 170.1 L1234.2 167.5 L1234.1 165 L1233.7 162.5 L1232.4 160.1 L1232.2 157.6 L1231.9 155 L1231.1 152.6 L1230.7 150.1 L1229.4 147.9 L1229.3 145.2 L1228.1 143 L1227.5 140.5 L1226.2 138.3 L1225.9 135.7 L1224.4 133.6 L1223.2 131.3 L1222.7 128.7 L1221.6 126.5 L1220.1 124.4 L1219 122.1 L1217.8 119.8 L1216.4 117.7 L1215.1 115.5 L1213.2 113.7 L1212.2 111.4 L1210.7 109.3 L1209 107.4 L1207.5 105.4 L1205.9 103.4 L1204.1 101.6 L1202.5 99.6 L1200.6 97.9 L1198.9 96 L1196.9 94.5 L1194.9 92.8 L1193.3 90.8 L1191.1 89.5 L1189.4 87.6 L1187.2 86.3 L1185.3 84.5 L1182.9 83.6 L1181.2 81.6 L1178.8 80.6 L1176.5 79.5 L1174.3 78.2 L1172.3 76.7 L1170 75.6 L1167.5 74.9 L1165.5 73.2 L1162.7 73.2 L1160.9 71.1 L1158.4 70.7 L1156.1 69.4 L1153.6 68.9 L1151.3 68 L1149 66.7 L1146.5 66.1 L1144.1 65.5 L1141.7 64.7 L1139.2 64 L1136.7 63.8 L1134.2 63.2 L1131.6 63.4 L1129.1 63.2 L1126.6 62.5 L1124.2 61.8 L1121.6 61.5 L1119.1 61.7 L1116.5 61.6 L1114 61.4Z" fill="#f80808" fill-rule="evenodd"/>
<path d="M1114 91.9 L1115.9 91.7 L1117.8 91.9 L1119.8 91.1 L1121.7 90.9 L1123.6 91.6 L1125.5 91.3 L1127.5 91.6 L1129.3 91.9 L1131.3 92.1 L1133.2 92.4 L1135.1 92.7 L1137.2 92.5 L1139.1 92.9 L1141 93.4 L1142.7 94.3 L1144.6 94.8 L1146.6 95 L1148.6 95.2 L1150.2 96.6 L1152.2 96.9 L1154.2 97.3 L1155.7 98.6 L1157.6 99.3 L1159.2 100.5 L1160.9 101.4 L1162.5 102.5 L1164.3 103.5 L1165.9 104.6 L1167.8 105.3 L1169.1 106.8 L1171.1 107.4 L1172.8 108.5 L1173.9 110.3 L1175.4 111.5 L1177.1 112.6 L1178.7 113.8 L1180 115.3 L1181.3 116.8 L1183.5 117.4 L1184.3 119.4 L1185.5 120.9 L1186.9 122.4 L1187.9 124.1 L1189.9 125.1 L1190.7 127 L1191.7 128.7 L1193.2 130.1 L1193.9 132 L1194.8 133.7 L1196.5 135.1 L1197.4 136.9 L1197.9 138.8 L1199.7 140.1 L1200.3 142.1 L1201 144 L1201.6 145.9 L1202.5 147.7 L1203.2 149.5 L1203.9 151.4 L1204.8 153.2 L1205.5 155.1 L1206.4 156.9 L1207.3 158.7 L1207.8 160.7 L1207.4 162.8 L1208 164.8 L1208.4 166.7 L1208.7 168.7 L1209.3 170.7 L1209.4 172.7 L1209.6 174.7 L1210.3 176.6 L1210 178.7 L1209.8 180.7 L1209.7 182.7 L1209.8 184.7 L1209.9 186.7 L1209.8 188.7 L1209.5 190.7 L1209.3 192.7 L1209.1 194.7 L1208.7 196.7 L1208.6 198.7 L1208.2 200.7 L1207.9 202.7 L1208.1 204.8 L1206.7 206.5 L1205.9 208.4 L1205.8 210.4 L1204.9 212.2 L1204.7 214.3 L1203.2 215.9 L1202.7 217.8 L1201.7 219.6 L1200.9 221.4 L1200.1 223.2 L1199.3 225.1 L1198.4 226.8 L1197.5 228.6 L1196 230 L1195.5 232 L1194 233.5 L1193 235.2 L1192 236.9 L1190.8 238.5 L1190.1 240.4 L1187.9 241.3 L1186.8 242.9 L1185.6 244.5 L1184.5 246.2 L1183 247.5 L1181.4 248.7 L1179.8 249.9 L1178.9 251.8 L1177.1 252.8 L1175.5 254 L1174 255.2 L1172.2 256.1 L1170.8 257.5 L1169.1 258.6 L1167.3 259.4 L1166 260.9 L1164.1 261.6 L1162.4 262.7 L1160.6 263.5 L1159.1 264.7 L1157 265 L1155.1 265.6 L1153.3 266.2 L1151.8 267.6 L1149.7 267.7 L1147.7 267.9 L1145.9 268.6 L1144.2 269.5 L1142 269 L1140.2 269.5 L1138.3 269.9 L1136.5 270.4 L1134.5 270.2 L1132.7 270.6 L1131 271.7 L1128.9 270.8 L1127 270.9 L1125.2 271.5 L1123.3 271.2 L1121.5 271.9 L1119.6 272.2 L1117.8 272.6 L1115.9 273.2 L1114 273.8 L1112.1 273.6 L1110.2 274 L1108.3 274.1 L1106.3 274.5 L1104.4 274.4 L1102.5 273.7 L1100.6 273.6 L1098.6 273.6 L1096.7 273.2 L1094.8 273.1 L1092.8 272.9 L1090.9 272.6 L1088.9 272.6 L1087.1 271.9 L1085.2 271.3 L1083.4 270.7 L1081.5 270 L1079.3 270.4 L1077.9 268.6 L1075.8 268.6 L1074.2 267.3 L1072.3 266.7 L1070.5 265.8 L1068.5 265.4 L1067 264 L1065.3 263.1 L1063.6 262.1 L1062 260.9 L1060.4 259.8 L1058.8 258.7 L1056.8 258 L1055.5 256.5 L1053.3 256.1 L1052.6 253.8 L1051 252.7 L1049.5 251.4 L1047.9 250.2 L1046.3 249 L1045 247.5 L1043.2 246.4 L1041.8 245 L1041.3 242.9 L1039.8 241.5 L1038.5 240 L1037.4 238.4 L1036.2 236.8 L1035 235.2 L1034 233.5 L1032.5 232.1 L1032.1 230 L1031 228.3 L1029.9 226.7 L1029.2 224.8 L1028.1 223.1 L1027.4 221.3 L1026.5 219.5 L1025.7 217.7 L1025 215.8 L1024.1 214 L1023.1 212.2 L1022.6 210.3 L1021.8 208.4 L1021.3 206.5 L1021 204.5 L1020.4 202.6 L1019.5 200.7 L1019.6 198.7 L1018.9 196.7 L1019.2 194.7 L1018.8 192.7 L1018.4 190.7 L1017.6 188.8 L1018 186.7 L1018.1 184.7 L1017.4 182.7 L1018.1 180.7 L1018.2 178.7 L1017.8 176.6 L1018.2 174.7 L1018 172.6 L1018.9 170.7 L1019.4 168.7 L1019.5 166.7 L1019.8 164.7 L1020.5 162.8 L1021.1 160.9 L1021.4 158.9 L1021.5 156.9 L1022.7 155.1 L1023 153.1 L1023.6 151.2 L1024.1 149.3 L1025.6 147.7 L1025.6 145.6 L1026.9 143.9 L1028.1 142.3 L1029.1 140.6 L1029.9 138.7 L1030.3 136.7 L1032 135.4 L1032.9 133.6 L1034.2 132.1 L1035.2 130.3 L1036.2 128.6 L1037.2 126.9 L1038.5 125.4 L1039.8 123.9 L1041.3 122.6 L1042.4 120.9 L1044 119.6 L1045.1 118 L1046.5 116.6 L1048.1 115.4 L1049.3 113.8 L1050.3 111.9 L1052.6 111.6 L1053.9 110 L1055.6 109 L1057.3 108.1 L1058.9 106.9 L1060.3 105.4 L1062.2 104.8 L1063.9 103.8 L1065.7 103 L1067.4 102.1 L1069.3 101.3 L1071 100.4 L1072.8 99.7 L1074.7 99.1 L1076.6 98.6 L1078.3 97.9 L1080 96.9 L1082.2 97.2 L1084 96.5 L1085.9 96.4 L1087.8 95.8 L1089.7 95.7 L1091.5 95.2 L1093.5 95.2 L1095.3 94.6 L1097.2 94.6 L1099 94.2 L1100.9 94 L1102.8 94.3 L1104.6 93.1 L1106.6 94 L1108.4 93.5 L1110.2 92.8 L1112.1 92.4 L1114 92.1ZM1114 97.8 L1112.2 97.6 L1110.5 98.2 L1108.7 98.7 L1107 99.2 L1105.3 99.5 L1103.5 99.6 L1101.7 99.3 L1099.9 99.6 L1098.3 100.5 L1096.4 100.1 L1094.6 99.8 L1092.8 100.1 L1091.1 100.6 L1089.2 100.6 L1087.4 100.9 L1085.6 101.3 L1083.9 101.9 L1082.1 102.2 L1080.5 103.1 L1078.5 103 L1076.8 103.7 L1075 104.1 L1073.4 105.1 L1071.8 105.9 L1069.9 106.4 L1068.3 107.2 L1066.9 108.5 L1065.2 109.2 L1063.7 110.4 L1061.9 111 L1060.8 112.6 L1058.9 113.1 L1057.4 114.2 L1056.1 115.6 L1054.5 116.6 L1053.1 117.8 L1052.3 119.7 L1050.6 120.7 L1048.9 121.6 L1047.7 123 L1046.3 124.3 L1045.2 125.8 L1044.2 127.4 L1042.7 128.6 L1041.6 130.1 L1040.4 131.5 L1039.8 133.4 L1038.5 134.8 L1037.3 136.2 L1036.2 137.8 L1035.5 139.5 L1034.8 141.3 L1033.5 142.7 L1032.6 144.4 L1032.3 146.3 L1031 147.8 L1030.2 149.5 L1029.3 151.2 L1028.8 153 L1028.6 154.9 L1027.3 156.5 L1027.2 158.5 L1026.7 160.3 L1025.8 162 L1025.6 163.9 L1025.4 165.8 L1024.9 167.6 L1024.5 169.5 L1024.2 171.4 L1024.4 173.3 L1023.7 175.1 L1023.3 177 L1023.1 178.9 L1023.6 180.8 L1023.1 182.7 L1023.7 184.6 L1023.1 186.5 L1023.2 188.4 L1023.6 190.3 L1024.3 192.1 L1024 194.1 L1024.2 196 L1024.9 197.8 L1024.9 199.7 L1025.5 201.5 L1025.9 203.4 L1026.6 205.1 L1027 207 L1027.7 208.8 L1028.1 210.6 L1029.1 212.3 L1029.5 214.1 L1030.1 215.9 L1031.2 217.5 L1032 219.2 L1032.6 221 L1033.7 222.6 L1034.6 224.2 L1035.6 225.8 L1036.3 227.6 L1037.3 229.1 L1038.5 230.6 L1039.6 232.1 L1041 233.5 L1042.4 234.7 L1042.9 236.7 L1044.1 238.1 L1045.1 239.7 L1046.3 241.1 L1047.8 242.3 L1049.1 243.7 L1050.3 245.1 L1051.7 246.3 L1052.9 247.8 L1054.4 248.9 L1055.9 250 L1057.6 250.8 L1058.7 252.5 L1060.3 253.4 L1062 254.3 L1063.2 255.7 L1064.9 256.6 L1066.7 257.3 L1068 258.6 L1069.7 259.4 L1071.5 260 L1073.3 260.5 L1075 261.3 L1076.4 262.7 L1078.1 263.3 L1080 263.6 L1081.7 264.2 L1083.6 264.5 L1085.2 265.5 L1086.8 266.5 L1088.8 266.3 L1090.6 266.7 L1092.2 267.7 L1094 267.9 L1096 267.3 L1097.8 267.9 L1099.5 268.5 L1101.3 268.8 L1103.2 268.2 L1104.9 268.8 L1106.8 268.6 L1108.6 268.4 L1110.4 268.7 L1112.2 268.4 L1114 268 L1115.8 267.4 L1117.5 267.3 L1119.3 266.9 L1121 266.4 L1122.7 265.8 L1124.6 266.3 L1126.3 265.9 L1128 265.7 L1129.9 265.8 L1131.7 265.8 L1133.3 265.1 L1135.2 265.2 L1136.9 264.8 L1138.3 263.3 L1140.6 264.5 L1142.3 264.1 L1143.9 263 L1145.9 263.2 L1147.6 262.6 L1149.5 262.4 L1151.2 261.8 L1153 261.2 L1154.6 260.4 L1156 259.1 L1158 259 L1159.1 257.1 L1161.2 257 L1162.8 256.2 L1164.2 255 L1165.7 253.9 L1167.7 253.4 L1169.1 252.3 L1170.3 250.8 L1171.8 249.7 L1173.4 248.7 L1174.9 247.6 L1176.3 246.3 L1177.2 244.6 L1179.1 243.8 L1180.1 242.2 L1181.4 240.9 L1182.7 239.5 L1184 238.2 L1185.3 236.8 L1185.7 234.8 L1187.3 233.6 L1188.2 232 L1189.6 230.7 L1190.5 229 L1191.7 227.5 L1192.4 225.8 L1193.3 224.2 L1194.2 222.5 L1195.4 221 L1196 219.2 L1196.9 217.6 L1197.3 215.7 L1198.7 214.2 L1198.8 212.2 L1199.7 210.6 L1200.5 208.8 L1200.9 207 L1201.3 205.1 L1201.9 203.3 L1202.6 201.5 L1203 199.7 L1203.3 197.8 L1203.8 196 L1203.9 194.1 L1203.9 192.1 L1204.2 190.3 L1204 188.4 L1204.6 186.5 L1204.6 184.6 L1205 182.7 L1204.7 180.8 L1204.9 178.9 L1204.5 177 L1204.6 175.1 L1204.2 173.2 L1203.8 171.4 L1203.8 169.4 L1202.8 167.7 L1203 165.7 L1202.3 163.9 L1202.1 162 L1201.6 160.2 L1201 158.4 L1200.2 156.7 L1199.5 154.9 L1199.3 153 L1198 151.5 L1197.6 149.6 L1196.8 147.9 L1196.2 146.1 L1195.3 144.4 L1194.4 142.8 L1192.6 141.6 L1192.4 139.6 L1191.8 137.8 L1190.5 136.4 L1189.6 134.7 L1188.6 133.2 L1187.1 131.9 L1186.4 130.1 L1185.3 128.6 L1184.2 127.1 L1182.7 125.9 L1181.5 124.4 L1179.9 123.4 L1178.8 121.8 L1177.5 120.5 L1176.3 119.1 L1175.1 117.6 L1173.7 116.4 L1171.9 115.6 L1170.8 114 L1169.3 112.9 L1167.4 112.3 L1166.3 110.7 L1164.6 109.9 L1162.9 109.1 L1161.3 108.1 L1159.8 107 L1158.3 106 L1156.8 104.9 L1154.7 104.9 L1153.4 103.3 L1151.5 103.1 L1149.9 102.2 L1148.2 101.3 L1146.5 100.7 L1144.7 100.2 L1142.9 99.7 L1141 99.6 L1139.4 98.7 L1137.6 98.3 L1135.8 97.8 L1133.9 98 L1132.1 97.4 L1130.3 97.2 L1128.5 97 L1126.7 96.6 L1124.9 96.7 L1123 96.6 L1121.2 96.8 L1119.4 96.7 L1117.6 97.4 L1115.8 96.8 L1114 97.2Z" fill="#0404f6" fill-rule="evenodd"/>
<path d="M1114 120.5 L1115.3 119.8 L1116.7 118.9 L1118.1 118.2 L1119.4 118 L1120.8 117.9 L1122.3 116.9 L1123.8 116.3 L1125.1 116.8 L1126.7 115.9 L1128.1 116.3 L1129.6 116.2 L1131.3 115.2 L1132.6 116 L1134.4 115.3 L1135.7 116 L1137.2 116.1 L1138.8 116.1 L1140.3 116.3 L1141.7 116.7 L1143.4 116.7 L1144.8 117.3 L1146.3 117.6 L1147.8 118 L1149.2 118.7 L1150.7 119.1 L1152.4 119.3 L1153.6 120.3 L1155.1 120.8 L1156.7 121.3 L1157.7 122.6 L1159.7 122.4 L1161 123.4 L1162.2 124.5 L1163.2 125.7 L1164.5 126.6 L1165.6 127.8 L1166.8 128.8 L1168 129.8 L1169.1 130.9 L1170.5 131.8 L1171.6 133 L1172.5 134.3 L1173.9 135.2 L1174.6 136.7 L1176.1 137.6 L1177 138.9 L1177.8 140.3 L1178.8 141.6 L1179.6 143 L1180.9 144.1 L1181.3 145.7 L1182.2 147 L1183.2 148.3 L1183.9 149.8 L1185.2 151 L1185.4 152.7 L1186.5 154 L1187.4 155.4 L1188.4 156.8 L1188.3 158.6 L1189.3 160 L1189.7 161.6 L1189.9 163.2 L1190.5 164.8 L1191.4 166.2 L1191.5 167.9 L1191.8 169.5 L1192.4 171.1 L1192.2 172.8 L1192.9 174.4 L1192.8 176.1 L1192.8 177.7 L1193.2 179.4 L1193.5 181 L1193.7 182.7 L1193.6 184.4 L1192.9 186 L1192.9 187.7 L1192.8 189.3 L1192.5 190.9 L1192.5 192.6 L1192.6 194.3 L1191.9 195.9 L1191.3 197.4 L1191.1 199.1 L1190.9 200.7 L1190.4 202.3 L1189.6 203.8 L1189.1 205.4 L1189.1 207.1 L1188.4 208.6 L1187.6 210.1 L1187 211.6 L1186.1 213 L1185.3 214.4 L1185.1 216.2 L1184.3 217.6 L1182.9 218.7 L1182.4 220.3 L1181.6 221.7 L1180.7 223.1 L1179.7 224.4 L1178.8 225.7 L1177.4 226.8 L1176.4 228 L1175.4 229.3 L1174.7 230.8 L1173.3 231.7 L1172.3 233 L1170.8 233.9 L1169.4 234.7 L1168.3 235.9 L1167 236.8 L1166 238.1 L1164.3 238.6 L1163 239.4 L1161.7 240.3 L1160.4 241.2 L1159.1 242.1 L1157.6 242.8 L1156.1 243.3 L1154.8 244.1 L1153.1 244.4 L1152 245.5 L1150.2 245.3 L1148.8 245.9 L1147.3 246.5 L1145.6 246.4 L1144.2 246.8 L1142.5 246.8 L1141 247 L1139.5 247.2 L1137.9 246.9 L1136.4 247 L1134.7 246.5 L1133.3 246.5 L1131.9 246.8 L1130.2 245.9 L1128.7 245.4 L1127.3 245.3 L1126 245.5 L1124.4 244.3 L1123 243.5 L1121.6 243.1 L1120.4 243.6 L1119.1 243.3 L1117.8 243.4 L1116.6 243.8 L1115.3 244.5 L1114 244.9 L1112.7 246.1 L1111.3 246.2 L1110 246.5 L1108.6 246.9 L1107.2 247.4 L1105.7 248 L1104.3 248.6 L1102.9 248.5 L1101.2 249.8 L1099.9 249.1 L1098.4 249.3 L1096.8 249.8 L1095.3 249.6 L1093.8 249.6 L1092.3 249.3 L1090.7 249.5 L1089.3 249.1 L1087.8 248.9 L1086.1 249.2 L1084.7 248.5 L1083.2 248.2 L1081.8 247.6 L1080.2 247.3 L1078.7 246.9 L1077.2 246.4 L1075.6 246.2 L1074.5 244.9 L1073.1 244.3 L1071.5 243.8 L1070.2 243 L1068.9 242.1 L1067.6 241.3 L1066.1 240.7 L1064.5 240.1 L1063.8 238.5 L1062.3 237.8 L1060.7 237.1 L1059.8 235.7 L1058.6 234.7 L1057.7 233.4 L1056.6 232.3 L1055.5 231.1 L1054.3 230 L1053.2 228.9 L1051.7 228 L1051.4 226.2 L1050.2 225.1 L1049.2 223.8 L1048.5 222.4 L1047.4 221.1 L1046.2 220 L1045.7 218.4 L1044.2 217.3 L1043.7 215.8 L1043.3 214.2 L1041.9 213 L1041.1 211.6 L1040.9 209.9 L1040.4 208.3 L1039.6 206.9 L1038.7 205.4 L1038.6 203.8 L1037.9 202.2 L1037.8 200.6 L1037 199.1 L1036.3 197.5 L1036.1 195.9 L1036 194.2 L1035 192.7 L1034.7 191 L1035.2 189.3 L1034.8 187.7 L1035.1 186 L1035 184.4 L1034.3 182.7 L1034.5 181 L1034.9 179.4 L1034.4 177.7 L1034.9 176.1 L1035.4 174.4 L1035.5 172.8 L1035.8 171.2 L1036.1 169.5 L1036.6 167.9 L1036.9 166.3 L1037.5 164.7 L1037.4 163 L1038.3 161.6 L1038.1 159.8 L1038.8 158.3 L1039.5 156.8 L1040.4 155.3 L1040.5 153.6 L1041.5 152.2 L1042.4 150.8 L1043.1 149.3 L1043.7 147.8 L1044.8 146.5 L1045.8 145.2 L1046.7 143.9 L1047.2 142.2 L1048.5 141.1 L1049.6 139.9 L1050.5 138.6 L1051.6 137.3 L1052.7 136.1 L1053.7 134.9 L1054.8 133.7 L1056 132.7 L1057.4 131.7 L1058.6 130.7 L1059.8 129.6 L1060.8 128.3 L1062.3 127.7 L1063.1 126.2 L1064.8 125.7 L1066.2 124.9 L1067.6 124.1 L1069.1 123.5 L1070.5 122.8 L1071.5 121.6 L1073.1 121.1 L1074.8 121 L1076.2 120.3 L1077.6 119.6 L1079.1 119.3 L1080.9 119.4 L1082.3 118.8 L1083.7 118.3 L1085.5 118.7 L1086.9 118.3 L1088.4 118 L1090.1 118.5 L1091.6 118.4 L1093.3 119 L1094.7 118.9 L1096.2 119.1 L1097.7 119.3 L1099.3 119.9 L1100.8 120.5 L1102.1 120.3 L1103.7 121.6 L1105 121.6 L1106.3 121.4 L1107.6 122.2 L1108.9 122.1 L1110.2 121.8 L1111.4 121.6 L1112.7 120.9 L1114 120.3ZM1114 125.4 L1112.8 126.2 L1111.7 126.6 L1110.5 127.5 L1109.4 127.3 L1108.2 127.2 L1107 127.3 L1105.8 127.5 L1104.5 126.8 L1103.3 126.5 L1101.8 125.3 L1100.5 125 L1099 124.3 L1097.6 124.1 L1096.2 123.8 L1094.9 123.8 L1093.7 124.4 L1092.2 124 L1090.5 123.4 L1089 123.3 L1087.7 123.7 L1086.1 123.3 L1084.6 123.5 L1083.1 123.7 L1081.7 124 L1080.3 124.3 L1078.9 124.8 L1077.6 125.4 L1076.1 125.6 L1075 126.6 L1073.3 126.7 L1072.2 127.6 L1070.9 128.3 L1069.5 128.9 L1068.6 130.1 L1067 130.5 L1066.4 132 L1064.9 132.5 L1063.4 133.2 L1062.2 134 L1061.3 135.2 L1060.3 136.3 L1058.8 137 L1058 138.3 L1056.6 139.1 L1056 140.6 L1055 141.7 L1053.9 142.8 L1053.2 144.1 L1051.9 145.1 L1051.6 146.7 L1050.2 147.6 L1049.6 149 L1048.6 150.2 L1047.9 151.6 L1047.9 153.3 L1046.4 154.3 L1046.1 155.8 L1045.3 157.1 L1044.7 158.6 L1044 160 L1044.1 161.6 L1043.8 163.1 L1042.8 164.4 L1042.5 165.9 L1042.5 167.5 L1042 169 L1041.8 170.5 L1041.1 171.9 L1040.8 173.4 L1041.6 175.1 L1040.7 176.5 L1040.7 178.1 L1039.9 179.6 L1040.2 181.2 L1040.7 182.7 L1040.2 184.2 L1040.3 185.8 L1040.4 187.3 L1040.5 188.9 L1041 190.4 L1041.4 191.9 L1041.6 193.4 L1041.3 195 L1041.6 196.5 L1042.4 197.9 L1043 199.4 L1043.4 200.8 L1043.3 202.4 L1044.3 203.8 L1045.4 205 L1045.4 206.6 L1046.1 208 L1047.6 209 L1047.2 210.8 L1048.4 211.9 L1048.5 213.5 L1049.6 214.7 L1050.6 215.9 L1050.9 217.4 L1052 218.5 L1052.7 219.8 L1053.6 221.1 L1054.7 222.1 L1055.8 223.1 L1056.5 224.5 L1057.3 225.7 L1058.2 226.9 L1059.4 227.9 L1060.4 228.9 L1061.3 230.1 L1063 230.6 L1064.1 231.6 L1064.9 232.9 L1065.9 234 L1067.3 234.6 L1068.5 235.4 L1069.4 236.6 L1070.7 237.3 L1072.2 237.8 L1073.4 238.6 L1074.6 239.4 L1075.8 240.2 L1077.1 240.8 L1078.5 241.3 L1079.9 241.7 L1081.3 242.2 L1082.5 242.9 L1084 243.1 L1085.4 243.5 L1087 243.5 L1088.2 244 L1089.6 244.3 L1091 244.4 L1092.4 244.8 L1094 244.3 L1095.4 244.3 L1096.7 244.5 L1098.1 244.8 L1099.5 244.4 L1101 244.1 L1102.4 243.8 L1103.7 243.8 L1105.1 243.2 L1106.4 242.9 L1107.7 242.3 L1109 241.7 L1110.3 241.5 L1111.6 240.7 L1112.8 240.1 L1114 239.4 L1115.2 239.4 L1116.4 238.9 L1117.5 238.5 L1118.6 237.5 L1119.8 237.8 L1121 238.2 L1122.2 238.5 L1123.5 238.9 L1124.8 239.3 L1126.2 240 L1127.6 240.6 L1128.9 240.6 L1130.2 240.6 L1131.7 241.4 L1133.1 241.4 L1134.5 241.6 L1135.9 241.7 L1137.3 241.5 L1138.9 241.8 L1140.5 242.2 L1141.7 241.7 L1143.3 241.8 L1144.9 241.7 L1146.1 241.2 L1147.7 241.1 L1148.8 240.2 L1150.6 240.3 L1152 239.9 L1153.1 239 L1154.2 238.1 L1155.8 237.7 L1157.3 237.3 L1158.6 236.7 L1159.5 235.4 L1161.1 235 L1162.2 234 L1163.4 233.1 L1164 231.6 L1165.6 231.2 L1167.1 230.5 L1168.1 229.4 L1169.1 228.3 L1170.2 227.2 L1171.3 226.2 L1172.2 225 L1172.9 223.7 L1174.2 222.7 L1174.8 221.3 L1176 220.2 L1176.6 218.9 L1177.5 217.6 L1178.4 216.4 L1178.7 214.8 L1179.9 213.7 L1180.3 212.2 L1181.3 211 L1182.2 209.7 L1182.6 208.2 L1183 206.7 L1183.8 205.4 L1184.4 204 L1184.5 202.4 L1185.4 201 L1185.9 199.6 L1186.2 198 L1186.3 196.5 L1186.1 194.9 L1187 193.5 L1186.5 191.9 L1187.4 190.4 L1187.3 188.9 L1186.9 187.3 L1187.5 185.8 L1187.1 184.2 L1187.9 182.7 L1187.9 181.2 L1187.8 179.6 L1187.5 178.1 L1186.9 176.6 L1186.6 175.1 L1186.8 173.5 L1186.9 171.9 L1186.7 170.4 L1186.3 168.9 L1185.9 167.4 L1185.1 166 L1185 164.5 L1184.5 163 L1183.5 161.7 L1183.1 160.2 L1183 158.7 L1182.1 157.4 L1181.7 155.9 L1180.5 154.8 L1180.1 153.3 L1179.4 151.9 L1178.3 150.8 L1177.7 149.4 L1176.6 148.3 L1176.2 146.8 L1175 145.8 L1173.9 144.7 L1173.6 143.1 L1172.6 142 L1171.6 140.9 L1170.8 139.6 L1169.5 138.7 L1168.8 137.4 L1167.5 136.6 L1166.7 135.3 L1165.5 134.3 L1164.1 133.6 L1163.3 132.4 L1161.8 131.8 L1160.3 131.3 L1159.3 130.2 L1158.2 129.3 L1156.9 128.6 L1155.9 127.4 L1154.9 126.5 L1153 126.6 L1152.2 125.2 L1150.8 124.6 L1149.6 123.9 L1148 123.7 L1146.8 123 L1145.5 122.4 L1143.7 122.9 L1142.6 121.9 L1141.3 121.4 L1139.8 121.4 L1138.4 121.1 L1137 120.8 L1135.5 120.9 L1134.2 120.7 L1132.6 121.1 L1131.3 120.7 L1129.9 120.8 L1128.4 121.1 L1127.1 121.1 L1125.7 121.4 L1124.3 121.8 L1123 122 L1121.6 122.9 L1120.2 123.3 L1119 123.3 L1117.7 124.1 L1116.4 125.3 L1115.2 124.9 L1114 125.9Z" fill="#088080" fill-rule="evenodd"/>
<path d="M1114 146.4 L1114.8 146 L1115.6 145.4 L1116.4 144.5 L1117.3 143.9 L1118.1 143.2 L1119.1 142.5 L1120.2 140.9 L1121 141.2 L1122 140.6 L1123 140.3 L1124.2 139.3 L1125.1 139.3 L1126.4 138.2 L1127.4 138.2 L1128.7 137.4 L1129.8 137.4 L1130.8 137.5 L1132.1 137.1 L1133.3 136.8 L1134.3 137 L1135.8 136.4 L1137 136.4 L1138.1 136.7 L1139.2 136.9 L1140.4 137 L1141.7 137 L1143.1 136.9 L1144.1 137.3 L1145.4 137.6 L1147 137.2 L1148.1 137.7 L1148.8 138.8 L1150.1 139.1 L1151.1 139.7 L1152.4 140.1 L1153.8 140.3 L1154.4 141.5 L1155.7 141.9 L1156.8 142.5 L1157.7 143.3 L1159.1 143.8 L1159.9 144.7 L1161.2 145.3 L1162.4 145.9 L1162.8 147.3 L1163.6 148.2 L1164.8 148.9 L1165.9 149.7 L1166.5 150.9 L1167.1 152 L1167.9 153 L1169.4 153.8 L1169.9 154.9 L1170.4 156.2 L1171.4 157.2 L1171.4 158.6 L1172.2 159.7 L1173.1 160.7 L1173.7 161.9 L1173.9 163.2 L1174.4 164.5 L1174.7 165.7 L1175.4 166.9 L1175.7 168.2 L1176.3 169.5 L1177 170.7 L1177.5 172 L1177 173.4 L1177.2 174.7 L1177.7 176 L1177.5 177.4 L1177.9 178.7 L1178.1 180 L1178.4 181.4 L1178.4 182.7 L1178.2 184 L1178.6 185.4 L1177.9 186.7 L1178.1 188.1 L1177.7 189.4 L1177.6 190.7 L1177.1 192 L1177.2 193.4 L1177.1 194.7 L1176.3 195.9 L1176.1 197.3 L1175.5 198.5 L1175.5 199.9 L1175 201.1 L1174.7 202.4 L1174.2 203.7 L1173.5 204.8 L1172.9 206 L1172.4 207.3 L1171.9 208.5 L1171.3 209.7 L1171 211 L1169.9 211.9 L1169.3 213.1 L1168.2 214 L1167.4 215 L1166.4 216 L1166.2 217.4 L1164.8 218 L1163.6 218.8 L1162.7 219.7 L1161.7 220.5 L1160.8 221.4 L1159.5 222 L1158.6 222.9 L1157 223 L1156.4 224.2 L1154.6 224.1 L1153.3 224.6 L1152 224.9 L1150.9 225.5 L1149.9 226 L1148.2 225.8 L1146.7 225.8 L1145.4 225.9 L1144 225.9 L1142.9 226.3 L1141.4 225.9 L1140.3 226 L1138.8 225.6 L1137.7 225.8 L1136.2 225.2 L1135 224.9 L1133.8 224.7 L1132.7 224.6 L1131.4 224.2 L1130.3 223.9 L1129.2 223.5 L1128.2 223.4 L1126.7 221.9 L1126 222.4 L1124.7 221.1 L1123.6 220.2 L1122.6 219.4 L1121.7 219.1 L1120.7 217.9 L1119.8 217.2 L1119.1 217.3 L1118.2 215.9 L1117.4 215.3 L1116.7 215 L1116.1 215.6 L1115.4 216.5 L1114.7 217.5 L1114 218.7 L1113.2 219.8 L1112.4 220.4 L1111.6 221 L1110.7 221.9 L1109.8 222.3 L1108.9 222.8 L1108 223.4 L1107 224.3 L1105.9 225 L1104.9 225.6 L1103.9 225.7 L1102.8 226.3 L1101.6 227.1 L1100.6 227.1 L1099.4 227.5 L1098.3 227.8 L1097.2 227.9 L1096 228.2 L1094.8 228.3 L1093.6 228.6 L1092.3 228.7 L1091.3 228.5 L1089.8 228.9 L1088.7 228.7 L1087.3 228.9 L1086.1 228.7 L1085.1 228.2 L1083.7 228.3 L1082.7 227.7 L1081.6 227.3 L1080.3 227.1 L1079.1 226.7 L1078 226.2 L1076.9 225.7 L1075.8 225.1 L1074.4 224.9 L1073.3 224.3 L1072.2 223.6 L1071 223.1 L1069.9 222.4 L1069.3 221.3 L1068.2 220.6 L1067 220 L1066.2 219 L1065 218.3 L1064.2 217.3 L1063.5 216.2 L1062 215.7 L1061.4 214.5 L1060.6 213.5 L1059.5 212.7 L1059.1 211.4 L1058.6 210.2 L1057.7 209.2 L1056.4 208.3 L1056.4 206.9 L1055.4 205.9 L1054.8 204.7 L1054.7 203.4 L1053.9 202.2 L1053 201.1 L1053.2 199.7 L1052.8 198.4 L1052 197.3 L1052 195.9 L1051.5 194.6 L1051.3 193.3 L1051 192 L1050.7 190.7 L1050.3 189.4 L1050.2 188.1 L1050.3 186.7 L1050.1 185.4 L1049.3 184.1 L1049.6 182.7 L1049.7 181.4 L1050 180 L1050 178.7 L1050.3 177.3 L1049.7 175.9 L1050.6 174.7 L1050.4 173.3 L1050.9 172 L1051.4 170.8 L1051.8 169.5 L1052.1 168.2 L1052.4 166.9 L1052.7 165.6 L1053.2 164.3 L1053.6 163.1 L1053.7 161.7 L1054.3 160.5 L1055.1 159.4 L1055.6 158.2 L1055.8 156.8 L1056.6 155.7 L1056.5 154.1 L1057.8 153.3 L1058.4 152.1 L1059.5 151.2 L1060.7 150.4 L1061.1 149.1 L1062.3 148.3 L1063.5 147.6 L1064.4 146.7 L1064.8 145.4 L1066.5 145 L1067.5 144.2 L1068.2 143.1 L1069.4 142.5 L1071 142.3 L1072.2 141.8 L1073.4 141.3 L1074.7 140.9 L1075.7 140.2 L1077.3 140.2 L1078.6 139.9 L1079.5 139.2 L1081.2 139.5 L1082.5 139.4 L1083.8 139.3 L1085.1 139.1 L1086.5 139.4 L1087.9 139.6 L1088.6 138.8 L1090.4 139.8 L1091.7 140.1 L1092.9 140.1 L1094.1 140.5 L1095.5 141.1 L1096.6 141.4 L1097.6 141.4 L1099 142.4 L1100.1 142.9 L1101 142.8 L1102.3 143.9 L1103.4 144.7 L1104.3 145.1 L1105.3 145.8 L1106.2 146.2 L1107.2 147.2 L1108.1 147.7 L1109 148.6 L1109.8 149.4 L1110.6 150.1 L1111.3 150.3 L1111.9 149.4 L1112.6 148.9 L1113.3 147.8 L1114 147ZM1114 151.9 L1113.4 153 L1112.8 153.9 L1112.3 155.3 L1111.7 155.2 L1111.1 155.2 L1110.5 155.2 L1109.8 154.2 L1109 153.4 L1108.3 152.7 L1107.5 152.3 L1106.5 150.9 L1105.6 149.9 L1104.8 149.7 L1103.7 148.7 L1102.8 148.3 L1101.8 147.6 L1100.9 147.4 L1099.9 147.1 L1098.6 146.2 L1097.9 146.5 L1096.5 145.5 L1095.4 145.2 L1094.2 144.7 L1093.1 144.6 L1091.8 144.3 L1090.6 144.1 L1089.3 143.7 L1088 143.5 L1087.1 144 L1085.7 143.7 L1084.6 144 L1083 143.6 L1082 144 L1080.7 144.1 L1079.2 144.1 L1078.1 144.4 L1077.5 145.4 L1075.9 145.4 L1075 146.1 L1073.9 146.6 L1072.6 147 L1071.4 147.4 L1070.2 148 L1069.8 149.2 L1068.9 150 L1067.4 150.3 L1067 151.5 L1066.3 152.5 L1065.1 153.1 L1064 153.8 L1063.2 154.8 L1062.8 156 L1061.8 156.8 L1061.4 158 L1061.4 159.3 L1060.3 160.1 L1059.8 161.3 L1059.2 162.3 L1058.7 163.4 L1058.3 164.6 L1058.2 165.9 L1057.6 166.9 L1057.2 168.1 L1057 169.3 L1056.7 170.5 L1056.9 171.8 L1056.4 173 L1056 174.1 L1055.4 175.3 L1055.2 176.5 L1055.6 177.8 L1055 179 L1055.1 180.2 L1055.1 181.5 L1055 182.7 L1056 183.9 L1055.6 185.1 L1055.5 186.4 L1055.4 187.6 L1055.5 188.9 L1055.6 190.1 L1056.6 191.2 L1056.7 192.4 L1056.6 193.7 L1057 194.8 L1057.4 196 L1057.4 197.2 L1058 198.3 L1059 199.3 L1059.2 200.5 L1059.3 201.8 L1060.1 202.7 L1061.4 203.5 L1061.3 204.8 L1061.8 205.9 L1062.5 206.9 L1062.8 208.1 L1064 208.8 L1064.6 209.9 L1065.1 210.9 L1066.1 211.7 L1066.7 212.7 L1067.7 213.4 L1068.8 214.1 L1069.2 215.2 L1070.1 216 L1071.4 216.5 L1072 217.5 L1073 218.1 L1074.1 218.6 L1075 219.4 L1076 219.9 L1077.1 220.4 L1078.3 220.7 L1079.1 221.5 L1080.1 221.9 L1081.4 222.1 L1082.3 222.6 L1083.5 222.9 L1084.6 223.1 L1085.6 223.6 L1086.7 223.7 L1087.9 223.8 L1089 224 L1090 224.3 L1091.2 224.3 L1092.7 223.5 L1093.6 223.8 L1094.6 223.9 L1095.8 223.6 L1096.9 223.4 L1097.8 223.5 L1099 223.2 L1100.2 222.4 L1101.1 222.4 L1102.1 222.1 L1103.1 221.8 L1104.2 220.8 L1105 220.9 L1106.1 220.1 L1107 219.6 L1107.8 219.1 L1108.8 218.1 L1109.5 218 L1110.4 217 L1111.2 216.2 L1111.9 215.6 L1112.7 214.8 L1113.3 214.2 L1114 213.5 L1114.6 212.4 L1115.2 211.6 L1115.8 210.7 L1116.3 209.5 L1116.9 210.5 L1117.6 210.9 L1118.3 211.6 L1119 212 L1119.7 212.8 L1120.5 213.4 L1121.4 214.5 L1122.3 214.9 L1123.2 215.7 L1124.3 216.7 L1125.2 217.3 L1126.3 217.9 L1127.2 218.1 L1128 218.2 L1129.4 219.3 L1130.5 219.7 L1131.4 219.7 L1132.8 220.6 L1133.8 220.6 L1135 221 L1136.3 221.3 L1137.4 221.4 L1138.8 221.8 L1140 221.9 L1141.2 221.9 L1142.4 221.8 L1143.6 221.7 L1144.5 221.2 L1146.1 221.6 L1147.6 221.6 L1148.8 221.3 L1149.4 220.4 L1151.1 220.6 L1152.2 220.1 L1153.4 219.7 L1154.4 219.1 L1155.6 218.6 L1156.6 218 L1157.8 217.4 L1158.7 216.6 L1159.6 215.9 L1160 214.7 L1161.5 214.3 L1162 213.1 L1163.2 212.5 L1163.9 211.5 L1164.5 210.5 L1165.5 209.6 L1166 208.5 L1166.8 207.5 L1167.1 206.3 L1167.8 205.3 L1168.3 204.2 L1168.6 203 L1169.1 201.9 L1169.6 200.8 L1170.1 199.6 L1170.5 198.5 L1170.5 197.2 L1171.2 196.1 L1171.2 194.9 L1171.6 193.7 L1172.2 192.5 L1171.8 191.2 L1172.4 190.1 L1172.5 188.9 L1172.4 187.6 L1172.9 186.4 L1173 185.2 L1172.8 183.9 L1173 182.7 L1172.4 181.5 L1173 180.2 L1172.5 179 L1172.6 177.8 L1172.2 176.6 L1172.1 175.4 L1171.2 174.3 L1171.8 172.9 L1171.3 171.8 L1171.2 170.5 L1170.9 169.4 L1170.4 168.2 L1169.7 167.2 L1169.7 165.9 L1169 164.8 L1168.5 163.7 L1167.9 162.6 L1167.4 161.6 L1166.5 160.6 L1166 159.6 L1165.6 158.4 L1164.9 157.4 L1164.1 156.5 L1163.7 155.4 L1162.6 154.6 L1161.9 153.7 L1160.9 152.9 L1160.2 152 L1159.3 151.2 L1158.8 150.1 L1157.9 149.4 L1156.3 149.2 L1156 148 L1155 147.3 L1153.9 146.7 L1152.9 146.2 L1151.6 145.8 L1151.1 144.8 L1150 144.4 L1148.8 144 L1147.7 143.7 L1146.7 143.1 L1145.4 143.1 L1144.3 142.7 L1143.4 142.3 L1142 142.5 L1141.2 141.8 L1140.1 141.6 L1139.1 141.3 L1137.8 141.5 L1136.7 141.4 L1135.7 141.2 L1134.5 141.4 L1133.4 141.4 L1132.1 142 L1131 142.3 L1130.1 141.9 L1129 142.3 L1128 142.6 L1127 142.8 L1125.9 143.4 L1124.9 143.5 L1123.9 144.1 L1122.9 144.6 L1122 145.2 L1121.1 145.6 L1120.2 146.3 L1119.3 147.1 L1118.5 147.4 L1117.6 148.1 L1116.8 149.4 L1116.1 149.9 L1115.3 150.7 L1114.7 151.1 L1114 152.1Z" fill="#06f806" fill-rule="evenodd"/>
<path d="M1114 177.2 L1114.1 176.7 L1114.3 176.1 L1114.4 175.8 L1114.6 175.3 L1114.9 174.4 L1115.1 173.7 L1115.3 173.7 L1115.6 173.2 L1115.9 172.7 L1116.2 172.1 L1116.6 171.5 L1117 171.1 L1117.5 170.2 L1118 169.6 L1118.3 169.5 L1118.8 168.9 L1119.2 168.6 L1119.7 168.4 L1120.4 167.5 L1120.8 167.5 L1121.3 167.3 L1121.9 166.8 L1122.8 165.8 L1123.3 165.9 L1123.8 165.7 L1124.4 165.5 L1125.1 165.2 L1126.2 164.4 L1126.8 164.3 L1127.4 164.2 L1128.1 164.1 L1129.2 163.5 L1129.7 163.7 L1130.8 163.3 L1132 162.7 L1132.3 163.2 L1133.4 162.9 L1134.2 162.9 L1135.1 162.9 L1135.9 163 L1136.8 163 L1137.9 162.9 L1138.9 163 L1140.5 162.6 L1140.9 163.2 L1142.2 163.1 L1143.1 163.4 L1143.8 163.8 L1144.8 164 L1145.6 164.5 L1146.6 164.8 L1147.7 165.1 L1148 165.8 L1148.8 166.3 L1150.1 166.6 L1151.1 167.1 L1151.7 167.8 L1151.8 168.6 L1152.7 169.2 L1153.5 169.9 L1153.8 170.7 L1154.2 171.5 L1154.9 172.2 L1155.2 173 L1156.1 173.8 L1156.2 174.7 L1156.7 175.5 L1156.7 176.4 L1157.1 177.3 L1157.4 178.1 L1157.7 179 L1157.6 180 L1157.8 180.9 L1158 181.8 L1157.8 182.7 L1157.6 183.6 L1158 184.5 L1158 185.5 L1157.3 186.3 L1157.2 187.2 L1156.8 188.1 L1156.6 189 L1156.9 189.9 L1156.2 190.8 L1155.9 191.6 L1155.1 192.3 L1155 193.2 L1154.2 193.9 L1154.2 194.8 L1153.5 195.5 L1153.6 196.5 L1152.6 197 L1152.3 197.9 L1151.8 198.6 L1151.1 199.2 L1150.7 200 L1149.8 200.5 L1149.3 201.1 L1148.6 201.7 L1147.8 202.2 L1147.2 202.8 L1146.7 203.4 L1146.2 204.1 L1145 204.2 L1144.6 204.9 L1143.5 205.1 L1142.7 205.5 L1142 205.9 L1141.2 206.2 L1140.2 206.3 L1139.1 206.3 L1138.3 206.5 L1137.2 206.4 L1136.1 206.2 L1135.2 206.2 L1134.1 206 L1132.9 205.5 L1131.8 205.2 L1131 205.1 L1129.7 204.3 L1128.7 203.8 L1127.9 203.6 L1126.8 202.9 L1125.9 202.4 L1124.8 201.5 L1124.3 201.4 L1123.2 200.3 L1122.4 199.6 L1121.8 199.4 L1121 198.4 L1120.5 198.2 L1119.8 197.3 L1119.1 196.5 L1118.6 195.9 L1118.2 195.6 L1117.6 194.5 L1117 193.6 L1116.7 193.1 L1116.3 192.6 L1115.8 191.2 L1115.5 190.7 L1115.2 189.7 L1114.9 188.7 L1114.7 188.5 L1114.5 187.9 L1114.4 187.8 L1114.3 187.8 L1114.2 188.1 L1114.1 188.2 L1114 188.2 L1113.9 188.6 L1113.7 189.2 L1113.6 189.8 L1113.4 190.2 L1113.2 190.6 L1112.9 191.2 L1112.7 191.8 L1112.4 192.3 L1112.1 192.8 L1111.8 193.2 L1111.4 193.9 L1111 194.3 L1110.6 195 L1110.1 195.6 L1109.8 195.7 L1109.2 196.6 L1108.8 196.8 L1108.3 197.1 L1107.9 197.3 L1107.3 197.7 L1106.6 198.5 L1106 198.8 L1105.6 198.8 L1104.9 199.2 L1104.2 199.7 L1103.6 199.9 L1102.9 200.2 L1102.1 200.6 L1101.4 200.8 L1100.4 201.4 L1099.9 201.3 L1099 201.7 L1098.1 202 L1097.1 202.2 L1096.3 202.3 L1095.6 202.3 L1094.4 202.7 L1093.6 202.7 L1093 202.4 L1091.8 202.7 L1091.2 202.4 L1089.9 202.6 L1088.9 202.6 L1088 202.5 L1087.2 202.2 L1086 202.2 L1085.3 201.8 L1084.2 201.6 L1083.3 201.3 L1082.3 201 L1081.6 200.5 L1080.5 200.2 L1079.8 199.7 L1078.8 199.3 L1078.4 198.5 L1077.2 198.2 L1076.8 197.4 L1076.2 196.8 L1075.6 196.1 L1074.7 195.5 L1074.2 194.7 L1073.8 193.9 L1073.2 193.2 L1072.8 192.4 L1072.3 191.6 L1071.3 190.8 L1071 190 L1071.2 189 L1070.9 188.1 L1070.8 187.2 L1070.4 186.4 L1070.3 185.5 L1070.1 184.5 L1070 183.6 L1069.6 182.7 L1070.2 181.8 L1070.3 180.9 L1070.6 180 L1070.6 179.1 L1070.8 178.2 L1071.1 177.3 L1071.4 176.4 L1071.6 175.5 L1071.9 174.7 L1072.5 173.9 L1072.8 173 L1073 172.2 L1073.6 171.4 L1073.8 170.6 L1074.5 169.9 L1075 169.1 L1075.5 168.4 L1075.5 167.5 L1076.5 166.9 L1076.6 166.1 L1077.4 165.5 L1078 164.8 L1078.7 164.3 L1079.4 163.7 L1079.7 162.9 L1080.6 162.5 L1081.6 162.1 L1082.3 161.6 L1082.5 160.8 L1083.7 160.7 L1084.6 160.4 L1085.3 159.9 L1086.1 159.6 L1086.9 159.3 L1087.4 158.7 L1088.8 159 L1089.6 158.8 L1090.7 158.9 L1091.6 158.9 L1092.7 159.1 L1094 159.5 L1094.9 159.6 L1095.9 159.9 L1097.1 160.4 L1098.1 160.8 L1099.4 161.7 L1100.2 161.9 L1101.4 162.9 L1102.3 163.4 L1103.1 163.8 L1103.9 164.4 L1104.8 165.1 L1105.6 165.8 L1106.2 166.2 L1106.6 166.1 L1107.5 167.3 L1108.3 168.3 L1108.9 168.9 L1109.4 169.5 L1109.9 170.2 L1110.5 171 L1110.9 171.7 L1111.4 172.5 L1111.8 173.2 L1112.2 174.3 L1112.5 174.9 L1112.9 175.9 L1113.1 176.6 L1113.3 177 L1113.4 177.2 L1113.6 177.4 L1113.7 177.6 L1113.8 177.3 L1113.9 177.2 L1114 177.2ZM1114 182.1 L1114 182.5 L1114 182.7 L1114 182.6 L1114 182.6 L1114 182.5 L1113.9 182.1 L1113.8 181.6 L1113.7 180.8 L1113.5 180 L1113.3 179.4 L1113 178.3 L1112.7 177.6 L1112.4 176.8 L1111.9 175.6 L1111.5 175 L1111 174.2 L1110.5 173.4 L1110.2 173 L1109.6 172.2 L1108.9 171.3 L1108.5 170.9 L1107.8 170.1 L1107.2 169.6 L1106.4 168.9 L1105.8 168.5 L1105.2 168.1 L1104.1 167.2 L1103.3 166.6 L1102.2 165.8 L1101.3 165.3 L1100.3 164.6 L1099.4 164.3 L1098.4 163.9 L1097.3 163.4 L1096.5 163.2 L1095.6 163.1 L1094.2 162.5 L1093.3 162.4 L1092.7 162.7 L1091.7 162.6 L1090.8 162.6 L1090.1 162.9 L1089.3 163.2 L1088.8 163.6 L1087.7 163.6 L1087.2 164.1 L1086.6 164.5 L1085.6 164.7 L1085.2 165.3 L1084.5 165.6 L1083.9 166.2 L1083.3 166.6 L1082.9 167.2 L1082.4 167.8 L1081.6 168.3 L1081 168.8 L1080.4 169.4 L1080.3 170.1 L1079.7 170.7 L1079.5 171.5 L1078.8 172.1 L1078.4 172.8 L1078.1 173.5 L1077.8 174.2 L1077.5 174.9 L1077 175.6 L1076.7 176.4 L1076.7 177.2 L1076.2 177.9 L1076 178.7 L1075.5 179.5 L1075.6 180.3 L1075.2 181.1 L1075.4 181.9 L1075.1 182.7 L1075.5 183.5 L1075.2 184.3 L1075.3 185.1 L1075.4 185.9 L1075.5 186.7 L1076 187.5 L1076.7 188.2 L1076.4 189.1 L1077.6 189.6 L1077 190.6 L1077.5 191.3 L1078.1 191.9 L1078.5 192.6 L1079 193.3 L1079.6 193.9 L1080.3 194.4 L1080.9 195 L1081.6 195.5 L1082.2 196.1 L1082.9 196.5 L1083.6 197 L1084.3 197.4 L1085.1 197.8 L1086.3 198 L1087 198.3 L1087.5 198.7 L1088.6 198.8 L1089.4 199.1 L1090.3 199.2 L1091.4 199.1 L1092.5 199 L1093 199.3 L1094 199.3 L1094.9 199.2 L1095.7 199.2 L1096.6 199.1 L1097.6 198.8 L1098.7 198.4 L1099.1 198.6 L1100 198.2 L1100.6 198.2 L1101.3 198 L1102.2 197.6 L1102.8 197.5 L1103.7 196.9 L1104.3 196.6 L1104.9 196.5 L1105.7 195.8 L1106.2 195.6 L1106.7 195.3 L1107.3 194.9 L1107.9 194.4 L1108.3 194.1 L1108.9 193.6 L1109.3 193.4 L1109.9 192.4 L1110.1 192.5 L1110.6 191.9 L1110.9 191.5 L1111.3 191 L1111.7 190.2 L1112 189.8 L1112.3 189.4 L1112.6 188.7 L1112.8 188.6 L1113 187.8 L1113.2 187.5 L1113.4 186.5 L1113.6 186.2 L1113.7 185.7 L1113.8 185.2 L1113.9 184.6 L1114 183.7 L1114 183.6 L1114 182.7 L1114 183 L1114 182.9 L1114 182.7 L1114 182.7 L1114 183 L1114 183 L1114.1 183.6 L1114.3 184.7 L1114.5 185.5 L1114.8 186.3 L1115 187.1 L1115.4 188 L1115.6 188.6 L1116.1 189.6 L1116.5 190.5 L1116.8 190.7 L1117.5 192 L1118 192.7 L1118.4 193.1 L1118.8 193.4 L1119.5 194.3 L1120.3 195.4 L1120.8 195.6 L1121.7 196.6 L1122.2 196.8 L1123.2 197.9 L1124 198.5 L1124.6 198.7 L1125.8 199.7 L1126.7 200.2 L1127.6 200.6 L1128.5 201 L1129.7 201.7 L1130.8 202.1 L1131.3 201.9 L1132.7 202.6 L1133.7 202.8 L1134.6 202.9 L1135.5 202.9 L1136.4 202.9 L1137.2 202.7 L1138.1 202.6 L1138.6 202.2 L1139.5 202 L1140 201.6 L1141 201.5 L1141.6 201 L1142.2 200.6 L1143 200.2 L1143.3 199.6 L1144 199.2 L1144.9 198.8 L1145.4 198.3 L1145.9 197.7 L1146.4 197.1 L1147 196.6 L1147.6 196 L1147.9 195.3 L1148.5 194.7 L1148.6 193.9 L1149.2 193.3 L1149.2 192.5 L1149.9 191.9 L1149.7 191.1 L1150.7 190.5 L1151.2 189.8 L1150.9 188.9 L1151.5 188.2 L1151.9 187.5 L1151.7 186.7 L1152.3 185.9 L1152.4 185.1 L1152.8 184.3 L1152.8 183.5 L1152.8 182.7 L1152.8 181.9 L1152.7 181.1 L1152.8 180.3 L1152.5 179.5 L1152.3 178.7 L1152 177.9 L1151.5 177.2 L1151.6 176.3 L1150.9 175.7 L1150.6 174.9 L1150.4 174.2 L1149.8 173.5 L1149.3 172.9 L1148.9 172.2 L1148.4 171.5 L1147.7 171 L1146.8 170.5 L1146.6 169.8 L1145.9 169.3 L1145.1 168.9 L1144 168.6 L1143.5 168 L1142.9 167.6 L1141.9 167.4 L1141 167.1 L1140.1 166.9 L1139 166.8 L1138.6 166.4 L1137.5 166.4 L1136.5 166.4 L1135.9 166.1 L1135 166 L1134 166.2 L1133 166.3 L1132.3 166.3 L1131.3 166.4 L1130.3 166.7 L1129.8 166.5 L1128.8 166.9 L1127.8 167.4 L1127.4 167.1 L1126.5 167.6 L1125.9 167.7 L1125 168.2 L1124.1 168.8 L1123.8 168.6 L1123 169.1 L1122.4 169.4 L1121.6 170.2 L1121.2 170.2 L1120.6 170.7 L1120.2 170.8 L1119.6 171.5 L1119.2 171.7 L1118.6 172.5 L1118.2 172.6 L1117.9 173 L1117.5 173.4 L1117 174.2 L1116.7 174.4 L1116.3 174.9 L1116.1 175.3 L1115.7 175.9 L1115.4 176.8 L1115.2 177.1 L1115 177.5 L1114.8 178.1 L1114.6 178.6 L1114.5 179.1 L1114.3 179.7 L1114.2 180.1 L1114.1 180.7 L1114.1 181.1 L1114 181.6 L1114 182.1Z" fill="#8408f8" fill-rule="evenodd"/>
<path d="M1114 179.7 L1114.1 179.1 L1114.2 178.5 L1114.4 177.8 L1114.6 177.2 L1114.8 176.5 L1115.1 175.9 L1115.4 175.2 L1115.7 174.5 L1116.1 173.9 L1116.5 173.2 L1117 172.6 L1117.5 172.1 L1118 171.5 L1118.5 170.9 L1119.1 170.4 L1119.7 169.9 L1120.4 169.4 L1121 168.9 L1121.8 168.4 L1122.5 168 L1123.3 167.5 L1124.1 167.1 L1125 166.7 L1125.9 166.3 L1126.9 165.9 L1127.8 165.6 L1128.8 165.4 L1129.8 165.1 L1130.9 164.9 L1131.9 164.8 L1133 164.6 L1134.1 164.6 L1135.3 164.5 L1136.5 164.5 L1137.7 164.6 L1138.8 164.7 L1140 164.8 L1141.2 165.1 L1142.3 165.4 L1143.4 165.7 L1144.4 166.2 L1145.4 166.7 L1146.4 167.2 L1147.4 167.8 L1148.3 168.5 L1149.2 169.2 L1150 170 L1150.8 170.8 L1151.5 171.6 L1152.2 172.5 L1152.7 173.4 L1153.3 174.4 L1153.8 175.3 L1154.2 176.3 L1154.5 177.4 L1154.8 178.4 L1155 179.5 L1155.2 180.5 L1155.3 181.6 L1155.3 182.7 L1155.3 183.8 L1155.1 184.9 L1154.9 185.9 L1154.7 187 L1154.3 188 L1154 189 L1153.6 190 L1153.1 191 L1152.6 192 L1152.2 192.9 L1151.7 193.9 L1151.1 194.8 L1150.6 195.7 L1150 196.5 L1149.4 197.4 L1148.8 198.2 L1148.1 199 L1147.3 199.7 L1146.6 200.4 L1145.8 201 L1144.9 201.6 L1144.1 202.2 L1143.2 202.7 L1142.3 203.2 L1141.3 203.7 L1140.4 204 L1139.3 204.3 L1138.3 204.6 L1137.2 204.7 L1136 204.7 L1134.8 204.6 L1133.5 204.3 L1132.2 204 L1130.8 203.5 L1129.5 202.9 L1128.2 202.3 L1127 201.6 L1125.8 200.8 L1124.6 200.1 L1123.6 199.3 L1122.6 198.6 L1121.7 197.8 L1120.8 197.1 L1120 196.2 L1119.3 195.4 L1118.6 194.6 L1117.9 193.7 L1117.3 192.8 L1116.7 191.9 L1116.2 190.9 L1115.7 189.9 L1115.3 188.8 L1114.9 187.7 L1114.6 186.7 L1114.4 185.9 L1114.3 185.5 L1114.2 185.3 L1114.1 185.3 L1114.1 185.4 L1114 185.7 L1113.9 186.3 L1113.8 186.9 L1113.6 187.6 L1113.4 188.2 L1113.2 188.9 L1112.9 189.5 L1112.6 190.2 L1112.3 190.9 L1111.9 191.5 L1111.5 192.2 L1111 192.8 L1110.5 193.3 L1110 193.9 L1109.5 194.5 L1108.9 195 L1108.3 195.5 L1107.6 196 L1107 196.5 L1106.2 197 L1105.5 197.4 L1104.7 197.9 L1103.9 198.3 L1103 198.7 L1102.1 199.1 L1101.1 199.5 L1100.2 199.8 L1099.2 200 L1098.2 200.3 L1097.1 200.5 L1096.1 200.6 L1095 200.8 L1093.9 200.8 L1092.7 200.9 L1091.5 200.9 L1090.3 200.8 L1089.2 200.7 L1088 200.6 L1086.8 200.3 L1085.7 200 L1084.6 199.7 L1083.6 199.2 L1082.6 198.7 L1081.6 198.2 L1080.6 197.6 L1079.7 196.9 L1078.8 196.2 L1078 195.4 L1077.2 194.6 L1076.5 193.8 L1075.8 192.9 L1075.3 192 L1074.7 191 L1074.2 190.1 L1073.8 189.1 L1073.5 188 L1073.2 187 L1073 185.9 L1072.8 184.9 L1072.7 183.8 L1072.7 182.7 L1072.7 181.6 L1072.9 180.5 L1073.1 179.5 L1073.3 178.4 L1073.7 177.4 L1074 176.4 L1074.4 175.4 L1074.9 174.4 L1075.4 173.4 L1075.8 172.5 L1076.3 171.5 L1076.9 170.6 L1077.4 169.7 L1078 168.9 L1078.6 168 L1079.2 167.2 L1079.9 166.4 L1080.7 165.7 L1081.4 165 L1082.2 164.4 L1083.1 163.8 L1083.9 163.2 L1084.8 162.7 L1085.7 162.2 L1086.7 161.7 L1087.6 161.4 L1088.7 161.1 L1089.7 160.8 L1090.8 160.7 L1092 160.7 L1093.2 160.8 L1094.5 161.1 L1095.8 161.4 L1097.2 161.9 L1098.5 162.5 L1099.8 163.1 L1101 163.8 L1102.2 164.6 L1103.4 165.3 L1104.4 166.1 L1105.4 166.8 L1106.3 167.6 L1107.2 168.3 L1108 169.2 L1108.7 170 L1109.4 170.8 L1110.1 171.7 L1110.7 172.6 L1111.3 173.5 L1111.8 174.5 L1112.3 175.5 L1112.7 176.6 L1113.1 177.7 L1113.4 178.7 L1113.6 179.5 L1113.7 179.9 L1113.8 180.1 L1113.9 180.1 L1113.9 180Z" fill="none" stroke="#8408f8" stroke-width="5.1000000000000005" stroke-linejoin="round"/>
<ellipse cx="1109.4" cy="182.9" rx="3.4" ry="3.6" fill="#000"/><ellipse cx="1118.2" cy="182.5" rx="3.4" ry="3.6" fill="#000"/>
<text x="1119" y="187.9" font-size="15" fill="#222" >0.4 T</text>
<circle cx="1114" cy="182.7" r="137.7" fill="none" stroke="#222" stroke-width="1.2"/>
<line x1="1114" y1="45" x2="1114" y2="48.2" stroke="#222" stroke-width="1"/>
<line x1="1182.8" y1="63.4" x2="1181.8" y2="65.4" stroke="#222" stroke-width="1"/>
<line x1="1233.3" y1="113.8" x2="1231.3" y2="114.9" stroke="#222" stroke-width="1"/>
<line x1="1251.7" y1="182.7" x2="1248.5" y2="182.7" stroke="#222" stroke-width="1"/>
<line x1="1233.3" y1="251.5" x2="1231.3" y2="250.4" stroke="#222" stroke-width="1"/>
<line x1="1182.8" y1="302" x2="1181.8" y2="300" stroke="#222" stroke-width="1"/>
<line x1="1114" y1="320.4" x2="1114" y2="317.2" stroke="#222" stroke-width="1"/>
<line x1="1045.2" y1="302" x2="1046.2" y2="300" stroke="#222" stroke-width="1"/>
<line x1="994.7" y1="251.6" x2="996.7" y2="250.5" stroke="#222" stroke-width="1"/>
<line x1="976.3" y1="182.7" x2="979.5" y2="182.7" stroke="#222" stroke-width="1"/>
<line x1="994.7" y1="113.8" x2="996.7" y2="114.9" stroke="#222" stroke-width="1"/>
<line x1="1045.1" y1="63.4" x2="1046.2" y2="65.4" stroke="#222" stroke-width="1"/>
<line x1="947.8" y1="45" x2="947.8" y2="320.3" stroke="#333" stroke-width="1.3"/>
<line x1="944.2" y1="313.6" x2="947.8" y2="313.6" stroke="#333" stroke-width="1.1"/>
<text x="941.2" y="317.1" font-size="13" fill="#2c2c2c" text-anchor="end" letter-spacing="0.3" >180</text>
<line x1="946" y1="291.8" x2="947.8" y2="291.8" stroke="#333" stroke-width="1.1"/>
<line x1="944.2" y1="270.1" x2="947.8" y2="270.1" stroke="#333" stroke-width="1.1"/>
<text x="941.2" y="273.6" font-size="13" fill="#2c2c2c" text-anchor="end" letter-spacing="0.3" >120</text>
<line x1="946" y1="248.3" x2="947.8" y2="248.3" stroke="#333" stroke-width="1.1"/>
<line x1="944.2" y1="226.6" x2="947.8" y2="226.6" stroke="#333" stroke-width="1.1"/>
<text x="941.2" y="230.1" font-size="13" fill="#2c2c2c" text-anchor="end" letter-spacing="0.3" >60</text>
<line x1="946" y1="204.8" x2="947.8" y2="204.8" stroke="#333" stroke-width="1.1"/>
<line x1="944.2" y1="183.1" x2="947.8" y2="183.1" stroke="#333" stroke-width="1.1"/>
<text x="941.2" y="186.6" font-size="13" fill="#2c2c2c" text-anchor="end" letter-spacing="0.3" >0</text>
<line x1="946" y1="161.4" x2="947.8" y2="161.4" stroke="#333" stroke-width="1.1"/>
<line x1="944.2" y1="139.6" x2="947.8" y2="139.6" stroke="#333" stroke-width="1.1"/>
<text x="941.2" y="143.1" font-size="13" fill="#2c2c2c" text-anchor="end" letter-spacing="0.3" >60</text>
<line x1="946" y1="117.9" x2="947.8" y2="117.9" stroke="#333" stroke-width="1.1"/>
<line x1="944.2" y1="96.1" x2="947.8" y2="96.1" stroke="#333" stroke-width="1.1"/>
<text x="941.2" y="99.6" font-size="13" fill="#2c2c2c" text-anchor="end" letter-spacing="0.3" >120</text>
<line x1="946" y1="74.4" x2="947.8" y2="74.4" stroke="#333" stroke-width="1.1"/>
<line x1="944.2" y1="52.6" x2="947.8" y2="52.6" stroke="#333" stroke-width="1.1"/>
<text x="941.2" y="56.1" font-size="13" fill="#2c2c2c" text-anchor="end" letter-spacing="0.3" >180</text>
<text x="963.3" y="70.8" font-size="15" fill="#262626" ><tspan font-style="italic">T</tspan> = 2 K</text>
<text transform="translate(912 222.6) rotate(-90)" font-size="15.5" fill="#262626"><tspan font-style="italic">ρ</tspan><tspan font-style="italic" font-size="8.5" dy="4" dx="0.5">c</tspan><tspan dy="-4" dx="3.5" font-size="17">(μΩ cm)</tspan></text>
<text x="977.8" y="110.5" font-size="13" fill="#2c2c2c" text-anchor="middle" letter-spacing="0.6" >300</text>
<text x="977.8" y="262.4" font-size="13" fill="#2c2c2c" text-anchor="middle" letter-spacing="0.6" >240</text>
<text x="1242.3" y="110.5" font-size="13" fill="#2c2c2c" text-anchor="middle" letter-spacing="0.6" >60</text>
<text x="1247" y="261.5" font-size="13" fill="#2c2c2c" text-anchor="middle" letter-spacing="0.6" >120</text>
<text x="1113.6" y="336.8" font-size="13" fill="#2c2c2c" text-anchor="middle" letter-spacing="0.6" >180</text>
<text x="1110" y="33.8" font-size="14.2" fill="#2c2c2c" letter-spacing="0.1" >0 <tspan dx="-1.5">(</tspan><tspan font-style="italic">a</tspan>-axis)</text>
<text x="881.3" y="51" font-size="21.5" fill="#111" font-weight="bold" >c</text>
</g>
<g id="panel-d">
<circle cx="1117.3" cy="503.5" r="62.5" fill="none" stroke="#c4c4c4" stroke-width="0.8"/>
<circle cx="1117.3" cy="503.5" r="125" fill="none" stroke="#c4c4c4" stroke-width="0.8"/>
<circle cx="1117.3" cy="503.5" r="31.2" fill="none" stroke="#858585" stroke-width="0.85"/>
<circle cx="1117.3" cy="503.5" r="93.8" fill="none" stroke="#858585" stroke-width="0.85"/>
<line x1="1117.3" y1="503.5" x2="1187.8" y2="381.4" stroke="#cfcfcf" stroke-width="1" stroke-dasharray="1.5 1.5"/>
<line x1="1117.3" y1="503.5" x2="1258.3" y2="503.5" stroke="#cfcfcf" stroke-width="1" stroke-dasharray="1.5 1.5"/>
<line x1="1117.3" y1="503.5" x2="1187.8" y2="625.6" stroke="#cfcfcf" stroke-width="1" stroke-dasharray="1.5 1.5"/>
<line x1="1117.3" y1="503.5" x2="1046.8" y2="625.6" stroke="#cfcfcf" stroke-width="1" stroke-dasharray="1.5 1.5"/>
<line x1="1117.3" y1="503.5" x2="976.3" y2="503.5" stroke="#cfcfcf" stroke-width="1" stroke-dasharray="1.5 1.5"/>
<line x1="1117.3" y1="503.5" x2="1046.8" y2="381.4" stroke="#cfcfcf" stroke-width="1" stroke-dasharray="1.5 1.5"/>
<line x1="1117.3" y1="503.5" x2="1117.3" y2="362.5" stroke="#dcae5c" stroke-width="1.1"/>
<line x1="1117.3" y1="503.5" x2="1239.4" y2="433" stroke="#dcae5c" stroke-width="1.1"/>
<line x1="1117.3" y1="503.5" x2="1239.4" y2="574" stroke="#dcae5c" stroke-width="1.1"/>
<line x1="1117.3" y1="503.5" x2="1117.3" y2="644.5" stroke="#dcae5c" stroke-width="1.1"/>
<line x1="1117.3" y1="503.5" x2="995.2" y2="574" stroke="#dcae5c" stroke-width="1.1"/>
<line x1="1117.3" y1="503.5" x2="995.2" y2="433" stroke="#dcae5c" stroke-width="1.1"/>
<text x="1023.3" y="411.7" font-size="14" fill="#3a3a8c" >7 T</text>
<text x="1053.8" y="434.3" font-size="14" fill="#e45ce0" >5 T</text>
<text x="1070.7" y="458.3" font-size="14" fill="#8a3a8a" >4 T</text>
<text x="1082.1" y="480.8" font-size="14" fill="#96963c" >3 T</text>
<path d="M1117.3 370.4 L1120.1 370.6 L1122.8 371.3 L1125.6 372 L1128.3 372.8 L1130.9 374 L1133.6 374.7 L1136.1 376.1 L1138.6 377.7 L1141.1 378.8 L1143.7 379.4 L1146 381.3 L1148.5 382.1 L1150.8 383.6 L1153.1 384.9 L1155.2 386.8 L1157.6 387.7 L1159.8 389.2 L1161.9 390.8 L1163.9 392.6 L1166.1 393.8 L1168.1 395.5 L1170.4 396.6 L1172.3 398.3 L1174.4 399.6 L1176.4 401.1 L1178.7 402 L1180.7 403.6 L1182.8 405 L1184.7 406.5 L1186.7 408 L1188.4 409.9 L1190.1 411.6 L1191.4 414 L1192.9 416 L1194.2 418.1 L1195.4 420.3 L1196.6 422.5 L1197.8 424.7 L1199 426.8 L1199.7 429.3 L1200.9 431.3 L1202 433.4 L1203.2 435.4 L1204.7 437.2 L1206.2 438.9 L1207.9 440.6 L1209.1 442.5 L1210.5 444.3 L1211.7 446.3 L1212.7 448.4 L1213.4 450.7 L1213.9 453 L1214.5 455.3 L1214.9 457.6 L1215.3 459.9 L1215.6 462.2 L1215.8 464.5 L1215.9 466.8 L1216.2 469.1 L1216.1 471.4 L1216.3 473.6 L1216.4 475.8 L1216.6 478 L1216.4 480.3 L1216.7 482.4 L1216.6 484.5 L1216.9 486.7 L1217.6 488.7 L1218 490.8 L1218.7 492.8 L1219.5 494.9 L1220.2 497 L1220.9 499.2 L1221.7 501.3 L1222.2 503.5 L1222.7 505.7 L1223.4 507.9 L1223.5 510.2 L1223.6 512.4 L1224.2 514.7 L1224 517 L1223.9 519.2 L1223.9 521.5 L1223.3 523.7 L1222.9 525.9 L1221.8 528 L1221.6 530.3 L1220 532.2 L1219.3 534.3 L1218.6 536.4 L1218.4 538.7 L1218.1 541 L1217.1 543 L1216.7 545.3 L1216.8 547.8 L1215.8 549.9 L1215.3 552.2 L1215.2 554.7 L1214.4 556.9 L1213.6 559.1 L1213 561.5 L1211.7 563.4 L1210.6 565.5 L1209.6 567.6 L1208 569.4 L1207 571.6 L1205.1 573.1 L1203.6 574.9 L1202.4 577 L1200.8 578.7 L1199.1 580.3 L1197.8 582.3 L1196.1 584 L1194.8 586 L1193.7 588.3 L1192.3 590.4 L1191.1 592.7 L1190 595.2 L1188.5 597.3 L1187.1 599.5 L1185.5 601.6 L1184 603.9 L1182.5 606.2 L1180.6 608 L1178.9 610.2 L1177.1 612.3 L1175.1 614.1 L1173.2 616.1 L1171.3 618.3 L1168.9 619.5 L1166.7 621 L1164.4 622.5 L1162 623.6 L1159.6 624.9 L1156.9 625.4 L1154.4 626.3 L1151.9 627.6 L1149.4 628.5 L1146.7 629 L1144.2 630.1 L1141.6 630.8 L1139 631.7 L1136.4 632.9 L1133.7 633.6 L1131.1 634.9 L1128.4 635.3 L1125.6 636 L1122.9 636.3 L1120.1 636.6 L1117.3 636.6 L1114.5 636.2 L1111.7 636 L1109 635.2 L1106.3 634 L1103.7 633.1 L1101.1 631.7 L1098.5 630.7 L1096 629.5 L1093.5 628.5 L1091.1 626.9 L1088.6 626.1 L1086.2 624.5 L1083.9 623 L1081.6 621.8 L1079.2 620.6 L1077.1 619 L1074.9 617.5 L1072.5 616.6 L1070.6 614.5 L1068.4 613.4 L1066.3 611.8 L1064.4 610.1 L1062.3 608.6 L1060 607.7 L1058.2 605.9 L1056 604.7 L1053.7 603.8 L1051.8 602.1 L1050 600.3 L1048.1 598.7 L1046.3 597 L1044.6 595.2 L1043.2 593.1 L1041.8 590.9 L1040.4 588.9 L1039.2 586.7 L1038 584.5 L1036.9 582.2 L1035.9 579.9 L1034.3 578.2 L1033.8 575.6 L1032.3 573.8 L1031.4 571.6 L1030 569.8 L1028.4 568.1 L1026.9 566.3 L1025.5 564.5 L1024.2 562.6 L1022.9 560.7 L1022 558.5 L1021.3 556.3 L1020.7 554 L1020 551.8 L1019.6 549.5 L1019.5 547 L1019 544.8 L1019 542.4 L1018.8 540.1 L1018.5 537.9 L1018.1 535.7 L1018.3 533.4 L1017.9 531.3 L1017.9 529 L1017.8 526.8 L1018.1 524.6 L1018 522.4 L1017.3 520.4 L1017.1 518.3 L1016.8 516.2 L1015.9 514.2 L1015.3 512.1 L1014.5 510 L1013.5 507.9 L1013 505.7 L1012.3 503.5 L1011.8 501.3 L1011.5 499.1 L1010.5 496.8 L1010.8 494.6 L1010.7 492.3 L1010.7 490 L1010.8 487.8 L1010.7 485.5 L1011.1 483.2 L1011.9 481.1 L1012.8 479 L1013.1 476.8 L1014.6 474.8 L1015.1 472.7 L1016.1 470.6 L1016.5 468.4 L1017 466.2 L1017.5 464 L1017.8 461.7 L1018.1 459.3 L1018.5 457 L1019.3 454.9 L1019.8 452.5 L1020 450 L1020.9 447.9 L1022.1 445.9 L1022.8 443.6 L1023.9 441.4 L1025.2 439.5 L1026.4 437.4 L1027.7 435.5 L1029.4 433.8 L1030.9 432 L1032.2 430 L1034 428.5 L1035.2 426.4 L1037.1 424.9 L1038.5 423 L1039.8 421 L1041.1 418.8 L1042.4 416.7 L1043.1 413.8 L1044.7 411.9 L1046.1 409.7 L1047.4 407.3 L1049 405.2 L1050.5 403 L1052.3 401.2 L1054 398.9 L1055.4 396.2 L1057.5 394.7 L1059.3 392.5 L1061.3 390.7 L1063.4 389 L1065.6 387.3 L1067.9 386 L1070.1 384.2 L1072.5 383.2 L1075.2 382.5 L1077.6 381.2 L1080.1 380.3 L1082.7 379.7 L1085.3 379 L1087.9 378 L1090.4 377.2 L1093 376.3 L1095.6 375.2 L1098.2 373.9 L1100.8 372.9 L1103.5 372.6 L1106.2 371.3 L1109 371 L1111.7 370.4 L1114.5 370.5 L1117.3 370.6ZM1117.3 375.5 L1114.6 375.7 L1112 376.2 L1109.3 376.4 L1106.7 377.1 L1104.1 377.8 L1101.5 378.6 L1099 379.3 L1096.4 380.2 L1094 381.2 L1091.5 382.2 L1089 382.7 L1086.6 383.7 L1084.2 384.9 L1081.7 385.7 L1079.2 386.3 L1077 387.8 L1074.4 388.1 L1072.3 389.8 L1069.8 390.6 L1067.8 392.2 L1065.9 394.2 L1063.8 395.6 L1061.9 397.5 L1060 399.3 L1058.3 401.4 L1056.6 403.2 L1055.1 405.4 L1053.4 407.3 L1051.9 409.3 L1050.5 411.5 L1049.4 414 L1047.9 415.9 L1046.7 418.2 L1045.7 420.6 L1044.4 422.5 L1043.2 424.6 L1041.9 426.5 L1040.8 428.6 L1039.2 430.1 L1037.8 431.9 L1036.4 433.7 L1034.9 435.3 L1033.3 436.9 L1031.9 438.7 L1030.6 440.5 L1029.6 442.5 L1028.2 444.3 L1027.7 446.6 L1026.5 448.5 L1025.8 450.7 L1025 452.7 L1024.3 454.9 L1023.7 457 L1023.5 459.4 L1022.9 461.5 L1022.6 463.7 L1022.4 465.9 L1021.6 467.9 L1021.1 470 L1020.7 472.1 L1020.2 474.2 L1019.2 476.1 L1018.4 478.1 L1017.4 480.1 L1016.7 482.1 L1016.3 484.2 L1016.3 486.4 L1015.8 488.5 L1015.7 490.7 L1016 492.9 L1016 495 L1016.1 497.1 L1016.5 499.3 L1017 501.4 L1017.3 503.5 L1017.9 505.6 L1018.7 507.6 L1019.6 509.6 L1020.5 511.6 L1021 513.6 L1022.1 515.5 L1022.3 517.5 L1022.5 519.5 L1022.8 521.5 L1022.8 523.6 L1023.2 525.6 L1023.3 527.6 L1023.3 529.8 L1022.9 532 L1023.4 534 L1023.1 536.3 L1023.5 538.4 L1023.6 540.6 L1024.1 542.7 L1024.1 545 L1024.2 547.3 L1024.6 549.5 L1024.9 551.8 L1025.7 553.8 L1026.4 556 L1027.1 558.1 L1028.2 560 L1029.6 561.8 L1031.1 563.4 L1032.6 565.1 L1034.2 566.6 L1035.6 568.3 L1036.3 570.5 L1037.8 572.1 L1038.6 574.3 L1039.4 576.6 L1040.5 578.7 L1041.8 580.6 L1042.6 583.1 L1043.9 585 L1045.1 587.2 L1046.6 589 L1047.9 591.1 L1049.5 592.9 L1051 594.8 L1052.9 596.2 L1054.8 597.6 L1056.9 598.7 L1058.6 600.5 L1060.7 601.6 L1062.8 602.7 L1064.7 604.1 L1066.7 605.5 L1068.7 606.8 L1070.5 608.5 L1072.6 609.9 L1074.6 611.4 L1076.8 612.5 L1078.7 614.4 L1080.8 615.7 L1083 617.1 L1085.2 618.3 L1087.5 619.4 L1089.7 621 L1092.1 622.2 L1094.5 623.1 L1096.9 623.9 L1099.3 625.7 L1101.7 626.7 L1104.2 627.8 L1106.8 628.8 L1109.3 630.1 L1112 630.4 L1114.6 631.1 L1117.3 631.6 L1120 631.4 L1122.6 631 L1125.3 630.9 L1127.9 630.2 L1130.5 629 L1133.1 628.7 L1135.7 627.8 L1138.2 626.8 L1140.7 626.1 L1143.1 625.1 L1145.5 623.9 L1148.1 623.3 L1150.5 622.5 L1153 621.7 L1155.4 620.8 L1157.8 619.8 L1160.1 618.7 L1162.5 617.6 L1164.7 616.2 L1166.9 614.9 L1169 613.4 L1171 611.7 L1172.9 609.9 L1174.6 607.7 L1176.3 605.7 L1178 603.7 L1179.5 601.6 L1181.3 599.8 L1182.7 597.6 L1184.1 595.4 L1185.3 593.1 L1186.6 591 L1187.8 588.7 L1189 586.5 L1190.1 584.4 L1191.3 582.3 L1192.5 580.3 L1194.1 578.7 L1195.3 576.7 L1196.8 575.1 L1198.1 573.2 L1199.6 571.6 L1200.9 569.7 L1202.6 568.2 L1203.9 566.4 L1205.2 564.6 L1206.5 562.7 L1207.4 560.7 L1208 558.5 L1209 556.4 L1209.7 554.3 L1210.4 552.2 L1211 550 L1210.9 547.6 L1211.8 545.6 L1212.1 543.4 L1212.6 541.2 L1212.7 539 L1213.4 537 L1214 534.9 L1214.3 532.8 L1215 530.8 L1216 528.8 L1216.9 526.9 L1217.8 524.9 L1218.5 522.8 L1218.6 520.6 L1219 518.5 L1218.5 516.3 L1218.3 514.1 L1218.9 512 L1218 509.8 L1218.1 507.7 L1217.8 505.6 L1217.3 503.5 L1216.7 501.4 L1216.1 499.4 L1215.1 497.3 L1214.1 495.4 L1213.5 493.4 L1213.1 491.4 L1212.4 489.5 L1212 487.5 L1211.8 485.5 L1211.2 483.5 L1211.5 481.4 L1211.5 479.3 L1211.6 477.2 L1211.6 475 L1211 473.1 L1211.1 470.8 L1211.2 468.6 L1211 466.4 L1210.7 464.3 L1210.3 462.1 L1210 459.9 L1210 457.5 L1209.7 455.2 L1208.8 453.2 L1208.2 451 L1207.4 449 L1206.3 447 L1204.8 445.4 L1203.6 443.5 L1202.1 441.9 L1200.6 440.3 L1199.2 438.6 L1198.2 436.5 L1197.2 434.6 L1196.2 432.5 L1195.2 430.4 L1194.2 428.2 L1193 426.2 L1191.9 424 L1190.9 421.8 L1189.4 419.9 L1188.2 417.8 L1186.7 415.9 L1185.2 414.1 L1183.6 412.2 L1181.8 410.6 L1180 409.1 L1178.1 407.7 L1175.9 406.7 L1173.8 405.6 L1172 404 L1169.9 402.9 L1167.9 401.6 L1166 400 L1164 398.7 L1162 397.2 L1160 395.7 L1157.9 394.2 L1155.9 392.8 L1153.6 391.8 L1151.5 390.3 L1149.3 388.9 L1147.1 387.4 L1144.8 386.2 L1142.5 385 L1140.1 384.2 L1137.7 382.8 L1135.4 381.1 L1132.9 380.3 L1130.4 379 L1127.8 377.9 L1125.3 377 L1122.6 376.4 L1120 375.6 L1117.3 375.5Z" fill="#04047e" fill-rule="evenodd"/>
<path d="M1117.3 418.7 L1119.1 419.2 L1120.8 420 L1122.5 420.5 L1124.2 421.1 L1125.9 421.3 L1127.7 421.3 L1129.2 422.9 L1130.9 423.2 L1132.4 424.2 L1134 424.9 L1135.5 426 L1137.3 425.8 L1138.5 427.6 L1140.2 427.6 L1141.5 428.9 L1143.1 429.4 L1144.4 430.7 L1145.8 431.5 L1147.3 432.2 L1148.7 432.9 L1150 434 L1151.3 434.9 L1152.9 435.3 L1154.3 436.1 L1155.2 437.9 L1156.6 438.6 L1157.8 439.6 L1159.1 440.6 L1160.5 441.3 L1161.4 442.8 L1162.5 444 L1163.7 445 L1164.7 446.2 L1166.1 447 L1166.8 448.5 L1168 449.5 L1169.2 450.5 L1169.7 452.2 L1170.8 453.3 L1171.6 454.6 L1172.4 455.9 L1173.5 457 L1174.3 458.3 L1175.4 459.4 L1175.9 460.9 L1176.5 462.4 L1177.3 463.6 L1177.6 465.2 L1178.5 466.5 L1179.1 467.8 L1179.3 469.4 L1180.2 470.6 L1181 471.9 L1180.9 473.6 L1181.2 475.1 L1181.4 476.6 L1181.5 478.1 L1182.1 479.4 L1182.3 480.9 L1182.3 482.4 L1182.5 483.8 L1182.6 485.3 L1182.7 486.7 L1182.8 488.1 L1182.9 489.6 L1183.2 490.9 L1184.4 492.1 L1184.2 493.6 L1185 495 L1184.6 496.4 L1185 497.8 L1185.2 499.2 L1186.7 500.6 L1186.3 502.1 L1186.3 503.5 L1186.2 504.9 L1186.3 506.4 L1186.5 507.9 L1186.2 509.3 L1186.2 510.7 L1186.3 512.2 L1186.2 513.7 L1186.4 515.2 L1186.2 516.6 L1185.9 518.1 L1186 519.6 L1185.7 521.1 L1186.2 522.7 L1185.9 524.2 L1184.7 525.4 L1184.3 526.8 L1184.5 528.5 L1184 529.9 L1183.4 531.3 L1183.4 532.9 L1183.3 534.6 L1181.9 535.5 L1181.8 537.2 L1181.1 538.6 L1180.3 539.9 L1179.9 541.4 L1178.8 542.5 L1178.6 544.2 L1178.1 545.8 L1176.5 546.5 L1175.8 547.9 L1175 549.2 L1173.9 550.3 L1173.2 551.7 L1172.6 553.3 L1171.4 554.3 L1170.3 555.4 L1169.3 556.6 L1168.7 558.2 L1167.7 559.4 L1166.8 560.8 L1165.7 562 L1164.5 563.1 L1163.6 564.5 L1162.6 565.8 L1161.5 567.1 L1160.4 568.3 L1159.5 569.9 L1158.1 570.8 L1156.9 572.2 L1155.6 573.1 L1154.4 574.5 L1153.1 575.6 L1152 577.3 L1150.4 577.9 L1149.1 579.1 L1147.8 580.5 L1146.4 581.7 L1144.7 582.1 L1143.1 582.8 L1141.7 584.2 L1139.9 584.3 L1138.3 585.1 L1136.7 586.2 L1134.8 586 L1133.1 586.6 L1131.4 586.6 L1129.7 587.4 L1127.9 587.7 L1126.2 587.8 L1124.4 588.6 L1122.6 588 L1120.8 588.1 L1119.1 588.8 L1117.3 588.2 L1115.5 587.9 L1113.8 587.5 L1112 587.4 L1110.3 586.6 L1108.7 585.5 L1107 584.7 L1105.4 583.9 L1103.7 584.1 L1102.1 583.1 L1100.5 582.5 L1099 581.4 L1097.5 580.7 L1096.1 579.6 L1094.6 578.7 L1093 578.2 L1091.4 578 L1090.2 576.4 L1088.7 575.8 L1087.4 574.6 L1085.9 574 L1084.6 573 L1083 572.6 L1081.8 571.4 L1080.5 570.4 L1079 569.8 L1077.6 569 L1076.7 567.5 L1075.6 566.2 L1074.5 565 L1072.9 564.6 L1072.2 563 L1070.6 562.4 L1070 560.7 L1068.9 559.6 L1067.3 559 L1066.5 557.5 L1065.2 556.7 L1064.9 554.8 L1063.9 553.6 L1063.1 552.3 L1062.2 551.1 L1061.3 549.8 L1060.6 548.4 L1059.8 547.2 L1058.8 546 L1058.4 544.5 L1057.6 543.2 L1057 541.8 L1055.7 540.8 L1055.3 539.3 L1055.2 537.6 L1054.8 536.1 L1054.4 534.7 L1054 533.3 L1053.5 531.9 L1053.3 530.4 L1053 529 L1052.8 527.5 L1052.1 526.2 L1052 524.7 L1052 523.2 L1051.8 521.8 L1051.4 520.4 L1051.8 518.9 L1051 517.6 L1051.3 516.1 L1050.7 514.8 L1050.3 513.4 L1050.6 511.9 L1049.5 510.6 L1049.1 509.2 L1049.2 507.8 L1047.9 506.4 L1048.8 504.9 L1047.8 503.5 L1048.6 502.1 L1048.5 500.6 L1048.1 499.1 L1047.9 497.7 L1048.4 496.3 L1048.3 494.8 L1048 493.3 L1048.2 491.8 L1048.7 490.4 L1048.6 488.9 L1048.9 487.5 L1049 486 L1048.9 484.4 L1048.9 482.9 L1050 481.6 L1050 480 L1050.3 478.6 L1050.8 477.2 L1051.2 475.7 L1051.4 474.2 L1052.2 472.8 L1052.8 471.5 L1052.8 469.8 L1053.6 468.5 L1054 466.9 L1054.8 465.6 L1055.7 464.4 L1056.3 463 L1057.3 461.8 L1058 460.4 L1058.3 458.7 L1059.4 457.6 L1060.7 456.7 L1061.2 455.1 L1062.1 453.8 L1063.4 452.9 L1064.3 451.6 L1065.1 450.2 L1066.2 449.1 L1067 447.7 L1068.1 446.5 L1068.7 444.7 L1069.8 443.6 L1070.9 442.4 L1071.9 441 L1073.2 440 L1074.3 438.8 L1075.4 437.5 L1076.6 436.3 L1077.5 434.5 L1078.9 433.6 L1080.1 432.3 L1081.3 430.9 L1082.7 430.1 L1084.1 429 L1085.5 427.8 L1086.9 426.7 L1088.3 425.5 L1090 425 L1091.5 424 L1093.1 423.2 L1094.7 422.7 L1096.4 422.1 L1098 421 L1099.8 421.3 L1101.4 420.4 L1103.3 420.4 L1105 420.1 L1106.7 419.7 L1108.4 419 L1110.1 418.2 L1111.9 418.3 L1113.8 419.1 L1115.5 419.1 L1117.3 418.9ZM1117.3 424.4 L1115.6 423.9 L1114 424.2 L1112.3 424.2 L1110.6 424.2 L1109 424.3 L1107.4 424.8 L1105.7 424.9 L1104.2 425.9 L1102.6 426.4 L1100.8 425.9 L1099.2 426.4 L1097.7 427.3 L1096.2 427.8 L1094.7 428.6 L1093.1 429 L1091.6 429.6 L1090.1 430.3 L1088.9 431.8 L1087.4 432.5 L1086.1 433.4 L1084.9 434.6 L1083.7 435.7 L1082.6 437 L1081.9 439.1 L1080.3 439.5 L1079.1 440.5 L1078.1 441.7 L1077 442.9 L1076.3 444.5 L1075.2 445.6 L1074.1 446.6 L1073.3 448 L1072.4 449.2 L1071.3 450.2 L1070.9 452 L1069.9 453 L1068.7 453.9 L1068 455.2 L1067 456.2 L1066.5 457.7 L1065.8 459 L1064.5 459.8 L1063.7 461 L1062.8 462.2 L1062.1 463.4 L1062 465.1 L1060.8 466 L1060.3 467.4 L1059.5 468.5 L1058.7 469.7 L1058.8 471.3 L1058.3 472.7 L1057.1 473.6 L1057 475.1 L1056.4 476.4 L1056.3 477.9 L1055.9 479.2 L1055.3 480.4 L1055.1 481.9 L1054.7 483.2 L1054.5 484.6 L1054.6 486 L1054.7 487.4 L1053.9 488.6 L1054.7 490.2 L1053.8 491.4 L1055 493 L1053.5 494.1 L1053.9 495.5 L1053.8 496.8 L1053.5 498.1 L1054.2 499.5 L1053.4 500.8 L1053.4 502.2 L1054.1 503.5 L1053.8 504.8 L1054.2 506.1 L1054.6 507.4 L1055.6 508.7 L1055 510.1 L1055.9 511.3 L1056.2 512.5 L1056.3 513.8 L1057.1 515 L1056.8 516.4 L1056.9 517.7 L1056.6 519.1 L1057.4 520.2 L1057.3 521.6 L1057.1 523.1 L1057.2 524.4 L1057.6 525.7 L1057.7 527.1 L1058.1 528.4 L1058.5 529.7 L1058.5 531.1 L1058.9 532.5 L1059.2 533.9 L1059.6 535.2 L1060.2 536.5 L1061 537.6 L1061.2 539.1 L1062.2 540.1 L1062.7 541.5 L1063.3 542.8 L1064 544 L1064.3 545.5 L1065.9 546 L1066.1 547.7 L1066.7 549.1 L1067.8 550 L1068.6 551.2 L1069.4 552.4 L1070.2 553.6 L1071.4 554.4 L1072.1 555.8 L1073.7 556.2 L1074.4 557.7 L1075.5 558.6 L1076.2 560 L1077.6 560.7 L1078.3 562.1 L1080.1 562.1 L1080.6 564 L1082 564.6 L1083.1 565.7 L1084.4 566.4 L1085.5 567.5 L1086.7 568.5 L1088.2 568.9 L1089.4 569.8 L1090.7 570.7 L1092 571.6 L1093.3 572.3 L1094.7 573.1 L1096 574 L1097.5 574.5 L1098.8 575.4 L1100.4 575.5 L1101.8 576.7 L1103.1 577.7 L1104.6 578.3 L1106.1 579.2 L1107.8 579 L1109.2 580.1 L1110.8 581 L1112.4 581.7 L1114 581.4 L1115.6 582.4 L1117.3 582.6 L1118.9 581.8 L1120.6 583 L1122.3 582.9 L1123.9 582.5 L1125.6 582 L1127.2 582 L1128.9 581.8 L1130.5 581.8 L1132.1 580.9 L1133.6 580.3 L1135.4 580.6 L1136.9 579.8 L1138.3 578.7 L1139.9 578.3 L1141.3 577.3 L1143 577.3 L1144.5 576.7 L1145.3 574.3 L1147 574.1 L1148.4 573.4 L1149.6 572.1 L1150.9 571.2 L1151.8 569.5 L1153.2 568.8 L1154.1 567.3 L1155.4 566.4 L1156.5 565.2 L1157.6 564.2 L1158.3 562.4 L1159.6 561.7 L1160.3 560.2 L1161.4 559.1 L1162.5 558.1 L1163.1 556.5 L1163.9 555.2 L1164.4 553.7 L1165.8 553.1 L1166.8 552 L1167.2 550.3 L1168.3 549.5 L1169.3 548.4 L1169.8 547 L1170.4 545.6 L1171.8 544.8 L1172.3 543.4 L1173.4 542.5 L1174 541.2 L1174.6 539.8 L1175 538.5 L1175.8 537.3 L1176.6 536.1 L1176.6 534.5 L1177.4 533.3 L1177.7 531.9 L1177.9 530.5 L1178.8 529.3 L1178.6 527.8 L1178.9 526.4 L1179.4 525.1 L1179.5 523.7 L1179.8 522.4 L1180.4 521.1 L1180.6 519.7 L1180.6 518.3 L1180.1 516.9 L1180.1 515.5 L1180.5 514.2 L1181.2 512.9 L1180.8 511.5 L1181 510.2 L1181.3 508.9 L1181.1 507.5 L1181.2 506.2 L1180.7 504.8 L1181.1 503.5 L1180.6 502.2 L1180.1 500.9 L1179.4 499.6 L1179.3 498.3 L1179.2 497 L1179.2 495.7 L1178.9 494.4 L1178.3 493.2 L1177.6 492 L1178 490.6 L1178.1 489.2 L1177.9 487.9 L1177.5 486.7 L1177 485.5 L1177.4 484 L1176.8 482.8 L1177.1 481.3 L1176.4 480.1 L1176.7 478.5 L1176.1 477.3 L1176.1 475.8 L1175.3 474.7 L1175.3 473.2 L1174.7 471.9 L1174.6 470.4 L1173.6 469.4 L1173.2 468 L1172.7 466.7 L1171.9 465.5 L1171.6 464 L1170.8 462.9 L1169.8 461.9 L1169.1 460.6 L1168.5 459.3 L1167.8 458 L1166.9 456.9 L1166.1 455.7 L1165 454.7 L1164.3 453.5 L1162.8 453 L1162.4 451.2 L1161.1 450.6 L1160.4 449.1 L1159.5 447.9 L1158.3 447.1 L1156.8 446.6 L1156 445.3 L1155 444.1 L1153.9 443.1 L1152.5 442.5 L1151.3 441.7 L1150.4 440.2 L1149.1 439.4 L1147.5 439.4 L1146.5 437.8 L1145.3 436.9 L1143.9 436.3 L1142.7 435.2 L1141 435.3 L1139.6 434.8 L1138.5 433.2 L1137.2 432.3 L1135.7 431.8 L1134.2 431.5 L1132.7 431.1 L1131.3 430 L1129.9 429.2 L1128.4 428.1 L1126.9 427.4 L1125.4 426.7 L1123.7 427 L1122.1 426.5 L1120.6 425.5 L1119 424.4 L1117.3 424.6Z" fill="#fc0cf8" fill-rule="evenodd"/>
<path d="M1117.3 445.2 L1118.5 445.5 L1119.7 446.2 L1120.9 446 L1122.1 446.8 L1123.2 446.9 L1124.4 447.5 L1125.5 447.9 L1126.8 447.6 L1127.9 447.8 L1128.9 448.7 L1130 449.4 L1131.1 449.9 L1132.2 450.1 L1133.1 451.1 L1134.2 451.6 L1135.2 452 L1136.3 452.3 L1137.6 452.2 L1138.4 453.4 L1139.5 453.6 L1140.5 454.2 L1141.2 455.3 L1142.3 455.7 L1143.5 455.9 L1144.4 456.5 L1144.9 458 L1145.9 458.5 L1147 458.8 L1147.5 460.1 L1149 459.9 L1149.9 460.5 L1150 462.2 L1151 462.7 L1151.7 463.6 L1152.3 464.7 L1153.1 465.4 L1154.2 465.8 L1154.8 466.8 L1155.2 467.9 L1155.9 468.8 L1156.8 469.4 L1157 470.6 L1157.3 471.8 L1158.2 472.4 L1158.8 473.3 L1158.9 474.6 L1159.7 475.3 L1160.1 476.3 L1160.4 477.4 L1161.3 478.1 L1162 478.9 L1162.8 479.7 L1163 480.8 L1162.7 482.1 L1162.8 483.3 L1163.7 484 L1163.3 485.3 L1163.4 486.3 L1164.2 487.2 L1163.8 488.4 L1163.9 489.4 L1164.6 490.3 L1164.4 491.4 L1164.9 492.3 L1165.1 493.3 L1164.9 494.4 L1164.5 495.5 L1164.6 496.5 L1165.3 497.4 L1165.2 498.5 L1166.4 499.4 L1165.5 500.5 L1165.7 501.5 L1166.5 502.5 L1166.6 503.5 L1166.3 504.5 L1166.4 505.6 L1167.1 506.6 L1166.2 507.6 L1166.5 508.7 L1166.4 509.7 L1166.1 510.7 L1166.3 511.8 L1166.8 512.9 L1166.1 513.9 L1166.2 515 L1165.8 515.9 L1165.6 517 L1165.8 518.1 L1165.1 519 L1164.9 520.1 L1164.6 521.1 L1164.6 522.2 L1164.5 523.3 L1163.5 524.1 L1163.2 525.1 L1162.7 526.1 L1162.6 527.2 L1162.1 528.1 L1161.8 529.2 L1161.6 530.3 L1160.6 531 L1160.2 532 L1159.8 533 L1159.7 534.3 L1159 535.1 L1158.1 535.8 L1157.3 536.6 L1156.8 537.6 L1156.4 538.7 L1155.6 539.5 L1155.4 540.8 L1154.4 541.4 L1153.7 542.2 L1153.3 543.5 L1152.6 544.4 L1151.9 545.4 L1151.2 546.3 L1150.2 546.8 L1149.7 548 L1148.8 548.8 L1147.8 549.4 L1147 550.3 L1146.4 551.6 L1145.5 552.3 L1144.5 553 L1144 554.6 L1142.8 555 L1141.9 555.9 L1140.8 556.2 L1139.8 557.1 L1138.5 557.1 L1137.8 558.6 L1136.4 558.4 L1135.2 558.7 L1134.2 559.6 L1133 559.7 L1131.8 560.1 L1130.7 560.5 L1129.6 561.2 L1128.3 561.1 L1127 560.9 L1125.9 561.5 L1124.6 561.4 L1123.4 561.6 L1122.2 561.5 L1121 561.7 L1119.7 561.6 L1118.5 561.5 L1117.3 561.9 L1116.1 562.5 L1114.9 560.9 L1113.7 560.8 L1112.5 560.4 L1111.3 560.6 L1110.1 560.8 L1109 559.8 L1108 558.8 L1106.8 558.6 L1105.7 558 L1104.5 558.3 L1103.4 557.6 L1102.5 556.4 L1101.4 556.2 L1100.3 556 L1099.4 555 L1098 555.3 L1097.2 554.3 L1096.1 553.8 L1094.9 553.8 L1094.1 552.9 L1093.2 552 L1092.2 551.5 L1091.4 550.6 L1090.4 550 L1089.4 549.6 L1088.8 548.5 L1087.5 548.3 L1086.9 547.2 L1086 546.5 L1085.4 545.6 L1084.7 544.6 L1083.4 544.4 L1082.5 543.8 L1082.3 542.4 L1081.6 541.5 L1080.7 540.9 L1079.9 540.1 L1079.6 538.9 L1079 538 L1078.3 537.2 L1077.3 536.6 L1076.9 535.5 L1076.3 534.6 L1075.7 533.7 L1075.4 532.6 L1075.1 531.5 L1074.5 530.7 L1073.4 530.1 L1073.4 528.9 L1073.4 527.6 L1073 526.7 L1072.2 525.9 L1072.2 524.7 L1071.7 523.8 L1071 523 L1070.2 522.1 L1071.4 520.6 L1070.9 519.6 L1070.9 518.6 L1070.6 517.6 L1070.3 516.6 L1070.2 515.6 L1070.5 514.5 L1070.3 513.5 L1069.4 512.6 L1069.6 511.6 L1069.8 510.5 L1069.5 509.5 L1069.5 508.5 L1068.3 507.6 L1069 506.5 L1068.5 505.5 L1068.4 504.5 L1068 503.5 L1068.5 502.5 L1067.8 501.4 L1067.9 500.4 L1068.3 499.4 L1067.8 498.3 L1068.3 497.3 L1068 496.2 L1068.5 495.3 L1068.5 494.2 L1068.2 493.1 L1068.3 492 L1068.3 490.9 L1068.8 489.9 L1069.4 489 L1069.1 487.8 L1069.8 487 L1069.5 485.7 L1070.4 484.9 L1070.5 483.8 L1071.2 483 L1070.6 481.5 L1071.8 480.9 L1071.4 479.5 L1072.2 478.7 L1073 477.9 L1073.3 476.9 L1073.7 475.9 L1073.8 474.6 L1074.7 473.9 L1074.9 472.7 L1075 471.4 L1076.7 471.3 L1077 470.2 L1077.8 469.4 L1077.7 467.9 L1079.1 467.6 L1079.7 466.6 L1080.3 465.7 L1080.7 464.5 L1081.4 463.6 L1082.1 462.7 L1083.1 462.2 L1083.6 461 L1084.5 460.3 L1085.3 459.5 L1085.6 457.8 L1086.8 457.5 L1087.6 456.7 L1088.5 456 L1089.2 454.8 L1090.3 454.4 L1091.2 453.5 L1092.1 452.8 L1092.8 451.5 L1094 451.3 L1094.8 450.1 L1096.1 450 L1097.1 449.1 L1098.3 448.9 L1099.2 447.8 L1100.5 447.7 L1101.7 447.5 L1102.7 446.6 L1103.9 446.2 L1105.2 446.4 L1106.4 446.3 L1107.6 445.9 L1108.7 445.6 L1109.9 445.1 L1111.2 445.5 L1112.4 445.1 L1113.6 445.5 L1114.9 445.5 L1116.1 445.7 L1117.3 445.6ZM1117.3 450.9 L1116.2 451.4 L1115.1 450.6 L1114 451.1 L1112.9 451.5 L1111.8 451.1 L1110.6 450.8 L1109.6 451.1 L1108.4 450.8 L1107.3 451.1 L1106.3 451.5 L1105.2 451.8 L1104 451.8 L1103.3 453.2 L1101.9 452.5 L1100.9 453.1 L1099.9 453.4 L1099.1 454.7 L1097.9 454.6 L1097 455.1 L1096.3 456.3 L1095.1 456.4 L1094.3 457.2 L1093.7 458.4 L1093.2 459.6 L1091.9 459.5 L1091.5 460.8 L1090.3 461 L1089.8 462.2 L1089 462.7 L1088.4 463.7 L1087.8 464.6 L1086.9 465.1 L1086.2 465.9 L1085.6 466.8 L1085.1 467.8 L1084.6 468.6 L1083.9 469.4 L1083.6 470.5 L1082.6 470.9 L1083.2 472.8 L1081.6 472.7 L1081 473.5 L1080.6 474.4 L1080.1 475.3 L1079.9 476.3 L1079.4 477.2 L1079 478 L1078.5 478.9 L1078.4 479.9 L1077.7 480.7 L1077 481.3 L1076.7 482.3 L1076.5 483.2 L1076.3 484.2 L1076.2 485.2 L1075.6 486 L1075.1 486.8 L1075 487.8 L1074.9 488.7 L1074.4 489.6 L1074.1 490.5 L1073.9 491.4 L1074 492.4 L1073.5 493.2 L1073.8 494.3 L1073.3 495.1 L1073.3 496.1 L1073.3 497 L1073.2 497.9 L1073.5 498.9 L1073.5 499.8 L1073.4 500.7 L1074.7 501.7 L1073.3 502.6 L1073.5 503.5 L1073.7 504.4 L1073.7 505.3 L1074.9 506.2 L1074.2 507.1 L1074.3 508 L1074.6 508.9 L1075.1 509.7 L1075.5 510.6 L1076 511.4 L1076.1 512.3 L1075.5 513.3 L1075.6 514.2 L1075.9 515.1 L1075.7 516.1 L1075.8 517 L1076.2 517.8 L1075.9 518.9 L1076.1 519.8 L1076.4 520.7 L1076.9 521.5 L1076.8 522.6 L1077.3 523.4 L1077.9 524.1 L1077.9 525.2 L1078.2 526.1 L1079.3 526.5 L1078.7 528 L1079.3 528.7 L1079.6 529.7 L1080.5 530.2 L1081 531 L1081.5 531.8 L1082.1 532.6 L1082.4 533.6 L1082.8 534.5 L1083.5 535.2 L1083.9 536.2 L1084.5 537 L1085 537.9 L1085.8 538.5 L1086.7 538.9 L1087.1 540 L1087.7 540.9 L1088.4 541.6 L1089.2 542.2 L1090.1 542.7 L1091 543.1 L1091.7 543.9 L1092.3 544.8 L1093 545.5 L1094 545.9 L1095.1 545.9 L1095.5 547.3 L1096.6 547.5 L1097.6 547.8 L1098.3 548.7 L1099.1 549.4 L1100.3 549.1 L1101.1 550.1 L1102.1 550.3 L1103 550.8 L1104 551.1 L1104.9 551.8 L1105.9 552 L1106.9 552.6 L1107.8 553.2 L1108.8 553.6 L1109.8 554.3 L1110.9 554.5 L1111.9 554.7 L1113 554.8 L1114.1 554.5 L1115.1 555.2 L1116.2 556 L1117.3 555.7 L1118.4 556.1 L1119.5 556.5 L1120.6 556.6 L1121.6 555.1 L1122.7 555.3 L1123.9 555.9 L1125.1 556.3 L1126.1 555.7 L1127.2 555.3 L1128.3 555.4 L1129.5 555.4 L1130.4 554.5 L1131.4 553.9 L1132.7 554.5 L1133.6 553.6 L1134.6 553.3 L1135.6 552.7 L1136.7 552.4 L1137.6 551.9 L1138.3 550.6 L1139.4 550.5 L1140 549.2 L1140.8 548.4 L1141.8 548.1 L1142.6 547.4 L1143.4 546.5 L1144.3 546 L1144.9 545.1 L1145.6 544.3 L1146.3 543.4 L1146.7 542.2 L1147.8 542 L1148.1 540.8 L1148.9 540.2 L1149.5 539.3 L1149.9 538.3 L1150.7 537.6 L1151.3 536.8 L1151.3 535.5 L1152.4 535.1 L1153 534.3 L1153.4 533.4 L1153.8 532.4 L1154 531.3 L1155 530.9 L1155 529.7 L1155.2 528.7 L1156.5 528.4 L1156.7 527.4 L1156.8 526.3 L1157.3 525.5 L1157.7 524.6 L1158.3 523.8 L1158.6 522.9 L1158.7 521.9 L1159.3 521.1 L1158.8 519.9 L1159.1 519 L1159.4 518.2 L1160.3 517.5 L1160.2 516.5 L1160.1 515.5 L1160.5 514.6 L1160.9 513.7 L1161 512.8 L1160.4 511.7 L1160.7 510.8 L1161.2 510 L1161.2 509 L1160.8 508.1 L1161 507.2 L1161.1 506.3 L1161.1 505.3 L1160.8 504.4 L1160.6 503.5 L1159.7 502.6 L1160.4 501.7 L1159.5 500.8 L1160.3 499.9 L1159.8 499 L1160 498.1 L1159 497.3 L1159 496.5 L1158.7 495.6 L1159 494.6 L1159.4 493.6 L1157.9 493.1 L1159.3 491.8 L1158.7 491 L1158.3 490.2 L1158.8 489 L1158.7 488.1 L1157.5 487.6 L1158.3 486.3 L1157.8 485.5 L1157.8 484.4 L1157.5 483.5 L1156.9 482.8 L1156.8 481.8 L1156.2 481 L1156.3 479.9 L1155.5 479.3 L1154.8 478.6 L1154.9 477.4 L1154.3 476.6 L1153.9 475.7 L1152.7 475.4 L1152.5 474.4 L1152.5 473.2 L1151.6 472.6 L1151.4 471.5 L1150.6 470.9 L1150 470.1 L1149.1 469.7 L1148.7 468.6 L1148.1 467.9 L1147.2 467.3 L1146.8 466.2 L1146 465.7 L1145.2 465 L1143.9 465.2 L1144 463.4 L1143.1 462.8 L1142.2 462.3 L1141.4 461.7 L1140.7 461 L1139.9 460.3 L1138.9 459.9 L1138.1 459.2 L1137.3 458.5 L1136.3 458.3 L1135.4 457.9 L1134.1 458.2 L1133.5 456.9 L1132.6 456.4 L1131.7 455.8 L1130.6 455.7 L1129.6 455.7 L1128.8 454.6 L1127.8 454 L1126.8 453.8 L1125.8 453.1 L1124.8 452.9 L1123.8 452.3 L1122.7 451.9 L1121.6 452.1 L1120.6 451.7 L1119.5 451.1 L1118.4 451 L1117.3 450.8Z" fill="#800480" fill-rule="evenodd"/>
<path d="M1117.3 472.8 L1117.9 473.7 L1118.5 474 L1119.2 473.9 L1119.8 473.8 L1120.3 474.5 L1121 474 L1121.6 474.7 L1122.2 474.6 L1122.9 474.3 L1123.3 475.2 L1123.9 475.2 L1124.5 475.6 L1125.2 475.1 L1125.6 475.9 L1126.2 476.2 L1126.7 476.6 L1127.5 476 L1128.2 476 L1128.5 476.8 L1128.9 477.4 L1129.6 477.3 L1130.1 477.8 L1130.6 478.1 L1130.9 478.8 L1131.7 478.5 L1132.5 478.5 L1132.4 479.7 L1133.1 479.7 L1134 479.5 L1133.9 480.7 L1134.4 480.9 L1134.9 481.2 L1135.2 481.9 L1135.5 482.4 L1136.6 482 L1136.5 483.1 L1136.7 483.7 L1137.1 484.1 L1137.8 484.2 L1138.9 484.1 L1138.4 485.3 L1138.7 485.8 L1139.2 486.2 L1139.6 486.6 L1139.9 487.1 L1140.5 487.4 L1140.7 488 L1140.6 488.7 L1141.2 489 L1141.3 489.7 L1141.5 490.2 L1142.2 490.5 L1141.7 491.4 L1142.6 491.6 L1142.3 492.4 L1142.9 492.7 L1142.9 493.4 L1143.2 493.9 L1142.8 494.6 L1143 495.2 L1143.4 495.6 L1143.7 496.1 L1143.4 496.8 L1143.4 497.4 L1144.1 497.8 L1143.8 498.4 L1143.5 499.1 L1144.7 499.5 L1143.7 500.2 L1144.9 500.6 L1144 501.3 L1143.9 501.8 L1143.9 502.4 L1144.1 502.9 L1144 503.5 L1144.9 504.1 L1144.9 504.7 L1144.1 505.2 L1144.3 505.8 L1144.4 506.3 L1144.4 506.9 L1144.4 507.5 L1144.1 508 L1143.8 508.6 L1143.7 509.1 L1143.9 509.7 L1143.7 510.3 L1143.5 510.8 L1144.7 511.8 L1143.2 511.9 L1143.6 512.7 L1143.6 513.3 L1142.8 513.6 L1143 514.3 L1142.8 514.9 L1142.9 515.6 L1142.8 516.1 L1141.8 516.3 L1141.7 516.9 L1141.4 517.4 L1141.3 518 L1141.3 518.8 L1141.2 519.4 L1140.4 519.5 L1140.3 520.2 L1140.1 520.8 L1140 521.5 L1139.2 521.6 L1138.9 522.1 L1138.5 522.6 L1138.3 523.3 L1137.9 523.7 L1137.5 524.1 L1137.7 525.2 L1137.1 525.5 L1136.5 525.8 L1136 526.2 L1135.6 526.6 L1134.9 526.7 L1134.6 527.3 L1134.1 527.7 L1134.1 528.8 L1133.1 528.3 L1133 529.3 L1132.1 529.1 L1131.7 529.6 L1131 529.8 L1130.7 530.5 L1130 530.4 L1129.8 531.5 L1128.9 531.2 L1128.4 531.6 L1127.8 531.6 L1127.3 532.3 L1126.6 532 L1126.1 532.6 L1125.4 532.4 L1124.8 532.8 L1124.2 533 L1123.5 532.8 L1122.9 533 L1122.4 533.8 L1121.7 533.3 L1121.1 533.6 L1120.4 533.1 L1119.8 533.2 L1119.2 533.6 L1118.5 532.8 L1117.9 533.4 L1117.3 533.9 L1116.7 533.2 L1116.1 532.9 L1115.5 532.5 L1114.8 532.9 L1114.2 533.3 L1113.6 532.5 L1113 532.7 L1112.4 532.5 L1111.8 532.1 L1111.3 531.8 L1110.7 531.6 L1110.2 531.3 L1109.4 531.6 L1108.8 531.5 L1108.3 531.2 L1107.9 530.5 L1107 531.1 L1106.8 529.9 L1105.9 530.7 L1105.6 529.8 L1105.2 529.2 L1104.7 528.8 L1104.1 528.7 L1103.5 528.6 L1103.1 528.2 L1102.7 527.6 L1102.2 527.3 L1101.7 527 L1100.7 527.4 L1100.5 526.7 L1100.2 526.1 L1100 525.4 L1099.2 525.4 L1098.7 525 L1098.5 524.3 L1098 524 L1097.6 523.7 L1097 523.4 L1096.9 522.6 L1096.4 522.3 L1096.3 521.7 L1095.8 521.3 L1095.3 520.9 L1095.1 520.4 L1094.8 519.8 L1094.2 519.6 L1094.3 518.8 L1093.9 518.4 L1093.6 517.9 L1092.7 517.7 L1092.7 517 L1093 516.2 L1092.6 515.8 L1092.6 515.1 L1092.1 514.7 L1091.8 514.2 L1091.8 513.6 L1091.7 513 L1091.3 512.6 L1091.1 512 L1090.5 511.6 L1091.3 510.8 L1090.7 510.3 L1091.2 509.6 L1091.1 509.1 L1091.1 508.5 L1090.6 508 L1090.6 507.4 L1090.3 506.9 L1090.7 506.3 L1090.1 505.8 L1090.3 505.2 L1090.5 504.6 L1090.3 504.1 L1090.3 503.5 L1090.4 502.9 L1089.9 502.4 L1090 501.8 L1090.5 501.2 L1090.6 500.7 L1090.6 500.1 L1090.5 499.5 L1090.5 499 L1089.5 498.2 L1090.4 497.8 L1090.8 497.3 L1090.4 496.6 L1090.9 496.1 L1091 495.6 L1090.7 494.9 L1091.3 494.4 L1091.3 493.8 L1091.7 493.4 L1091.7 492.8 L1092 492.3 L1091.9 491.5 L1092.4 491.2 L1091.9 490.2 L1092.9 490.1 L1092.5 489.2 L1093.4 489 L1093.4 488.4 L1093.5 487.7 L1093.9 487.2 L1093.6 486.3 L1094.9 486.5 L1094.9 485.8 L1095.4 485.4 L1095.8 485 L1096.1 484.4 L1096.4 483.9 L1096.8 483.4 L1097.2 483 L1096.8 481.6 L1098 482 L1098 481.2 L1098.6 480.9 L1098.4 479.7 L1099.7 480.3 L1099.7 479.3 L1100.3 479.1 L1100.2 477.8 L1101.4 478.5 L1101.9 478 L1102.4 477.7 L1102.8 477.2 L1103.3 476.7 L1103.9 476.5 L1104.6 476.5 L1105.1 476.1 L1105.4 475.2 L1106.3 475.8 L1106.8 475.2 L1107.5 475.3 L1108 474.9 L1108.5 474.2 L1109.1 474.3 L1109.8 474.3 L1110.5 474.3 L1110.8 472.8 L1111.5 473.2 L1112.2 473.6 L1112.9 473.4 L1113.6 474 L1114.1 473.4 L1114.7 473.1 L1115.4 473.5 L1116.1 473.9 L1116.7 473.6 L1117.3 473.8ZM1117.3 479.6 L1116.8 479.2 L1116.3 479.1 L1115.8 479.6 L1115.3 479.5 L1114.7 479 L1114.2 479.1 L1113.7 478.9 L1113.2 479.5 L1112.6 478.8 L1112.2 479.4 L1111.7 479.6 L1111.2 479.8 L1110.6 479.6 L1110.2 480 L1109.6 479.8 L1109.3 480.5 L1108.9 480.9 L1108.1 480.4 L1107.7 480.8 L1107.3 481.1 L1106.7 481 L1106.4 481.6 L1105.9 481.7 L1105.8 482.5 L1105.3 482.7 L1104.7 482.7 L1104.1 482.8 L1104.4 484 L1103.4 483.6 L1103.3 484.2 L1102.8 484.4 L1102.7 485.1 L1102.3 485.4 L1101.9 485.6 L1101.4 485.9 L1101.3 486.5 L1100.8 486.7 L1100.6 487.2 L1100.2 487.5 L1099.8 487.7 L1099.8 488.4 L1099.5 488.7 L1099.2 489.1 L1099.1 489.6 L1099.1 490.3 L1098.4 490.4 L1098.4 491 L1098 491.2 L1098 491.8 L1097.7 492.2 L1097.7 492.7 L1098.2 493.5 L1097.2 493.5 L1096.9 493.9 L1097 494.5 L1096.5 494.8 L1096.5 495.3 L1096.9 495.9 L1096 496.1 L1096.9 496.9 L1097.1 497.4 L1095.8 497.5 L1096 498 L1096 498.5 L1095.5 498.9 L1095.6 499.4 L1096.3 500 L1096 500.4 L1095.7 500.8 L1095.6 501.2 L1095.6 501.7 L1095.8 502.1 L1095.4 502.6 L1095.8 503 L1095.5 503.5 L1095.4 504 L1096.1 504.4 L1095.7 504.9 L1096.2 505.3 L1096 505.7 L1095.6 506.2 L1095.7 506.7 L1095.8 507.1 L1096.2 507.5 L1096.7 507.9 L1096.2 508.4 L1096.1 508.9 L1096.3 509.4 L1096.7 509.7 L1096.5 510.3 L1097.5 510.4 L1097.2 511 L1096.7 511.6 L1097.4 511.9 L1097.4 512.4 L1097.7 512.7 L1097.3 513.4 L1097.9 513.6 L1098.1 514.1 L1097.8 514.7 L1098.2 515.1 L1098.8 515.3 L1098.8 515.8 L1098.6 516.5 L1099.3 516.6 L1100 516.6 L1100.3 516.9 L1099.7 518.1 L1100.1 518.3 L1100.3 518.8 L1101.1 518.7 L1101 519.4 L1101.4 519.8 L1101.7 520.2 L1102.7 519.7 L1102.5 520.7 L1102.9 520.9 L1103.1 521.4 L1103.3 521.9 L1103.8 522 L1104.3 522.3 L1105.2 521.7 L1104.9 523 L1105.3 523.3 L1105.7 523.5 L1106.3 523.4 L1106.6 523.9 L1106.8 524.6 L1107.5 524.4 L1107.9 524.6 L1108.2 525 L1108.9 524.8 L1109.2 525.2 L1109.6 525.7 L1110.1 525.8 L1110.5 525.9 L1110.9 526.5 L1111.6 525.8 L1111.9 526.3 L1112.6 525.7 L1112.8 527.1 L1113.3 527.2 L1113.9 526.4 L1114.3 527.3 L1114.8 527.1 L1115.3 527.1 L1115.8 527.4 L1116.3 527.7 L1116.8 527.5 L1117.3 527.7 L1117.8 528 L1118.3 527.9 L1118.8 527.6 L1119.4 528.2 L1119.9 528.3 L1120.4 528.2 L1120.9 527.9 L1121.4 528 L1121.8 527.2 L1122.3 526.9 L1122.9 527.6 L1123.5 527.7 L1123.7 526.3 L1124.5 527.3 L1124.8 526.5 L1125.5 527.1 L1126 526.8 L1126.2 526.1 L1126.9 526.4 L1127.1 525.5 L1127.9 525.9 L1127.9 524.8 L1128.5 525 L1128.6 524 L1129.4 524.5 L1130.1 524.6 L1130.3 524 L1130.8 523.8 L1131 523.2 L1131.6 523.1 L1131.6 522.3 L1132.3 522.4 L1132.4 521.7 L1132.3 520.9 L1133.2 521.2 L1133.5 520.8 L1133.8 520.3 L1134.2 520 L1134.3 519.5 L1134.3 518.8 L1134.7 518.6 L1135.2 518.3 L1135.7 518.1 L1135.6 517.4 L1136.1 517.1 L1136.2 516.7 L1135.4 515.6 L1136.5 515.7 L1136.7 515.3 L1137.1 514.9 L1137.3 514.5 L1137 513.8 L1137.7 513.6 L1137.5 513 L1137.8 512.6 L1138.1 512.2 L1138.4 511.8 L1138.3 511.3 L1137.5 510.5 L1138.5 510.4 L1138.7 510 L1138.3 509.4 L1138.8 509 L1139 508.6 L1138.5 508 L1138.8 507.6 L1138.6 507.1 L1139 506.7 L1138.7 506.2 L1139 505.8 L1139.1 505.3 L1139.1 504.9 L1138.9 504.4 L1138.7 503.9 L1138.3 503.5 L1137.8 503.1 L1138.3 502.6 L1138.8 502.1 L1138.8 501.7 L1138.9 501.2 L1138.8 500.8 L1138 500.4 L1138.7 499.9 L1138.6 499.4 L1138.6 499 L1138.6 498.5 L1138.1 498.2 L1138.5 497.6 L1137.8 497.3 L1138 496.8 L1138.1 496.2 L1138.1 495.8 L1136.9 495.7 L1136.9 495.3 L1137.4 494.5 L1136.7 494.4 L1136.5 493.9 L1137.2 493.1 L1136.5 492.9 L1136.9 492.2 L1136.5 491.9 L1136 491.6 L1136 491.1 L1135.9 490.6 L1135.6 490.2 L1135.4 489.8 L1135.1 489.4 L1134.9 489 L1134.4 488.7 L1134.1 488.4 L1133.6 488.2 L1133.3 487.9 L1133.3 487.2 L1132.9 486.9 L1132.6 486.5 L1131.9 486.6 L1131.9 485.8 L1131.5 485.5 L1130.9 485.6 L1130.8 485 L1130.4 484.7 L1129.5 485.1 L1129.5 484.3 L1129.4 483.6 L1128.6 483.9 L1128.3 483.6 L1128 483 L1127.5 483 L1127 482.9 L1126.6 482.7 L1126.2 482.3 L1126 481.5 L1125.5 481.3 L1124.6 482.4 L1124.4 481.6 L1123.9 481.6 L1123.6 481 L1123.2 480.6 L1122.7 480.3 L1122.2 480.4 L1121.7 480.3 L1121.3 480.1 L1120.8 479.7 L1120.3 479.7 L1119.8 479.7 L1119.3 479.8 L1118.8 479.2 L1118.3 479.2 L1117.8 480.7 L1117.3 479.3Z" fill="#808008" fill-rule="evenodd"/>
<path d="M1117.3 487.8 L1117.6 487.8 L1117.9 488.1 L1118.3 487.9 L1118.6 488.1 L1119 487.8 L1119.3 488.1 L1119.6 488 L1119.9 487.8 L1120.4 487.1 L1120.6 488.1 L1120.9 488.3 L1121.1 488.6 L1121.8 487.2 L1121.8 488.7 L1122.2 488.5 L1122.4 488.9 L1122.9 488.3 L1123 489.2 L1123.4 489.1 L1123.8 489 L1123.9 489.5 L1124.3 489.4 L1124.4 489.9 L1124.9 489.8 L1125 490.2 L1125.4 490.1 L1125.6 490.5 L1125.9 490.6 L1126.4 490.4 L1126.7 490.6 L1126.7 491.2 L1127 491.3 L1127.5 491.2 L1127.4 491.8 L1127.8 491.9 L1127.8 492.3 L1128.1 492.5 L1128.9 492.1 L1128.5 493 L1129.1 492.9 L1129.6 492.9 L1129.6 493.3 L1129.4 493.9 L1129.6 494.2 L1129.8 494.4 L1130.1 494.6 L1130.2 494.9 L1130.6 495 L1130.8 495.3 L1131.1 495.5 L1131.2 495.8 L1131.1 496.3 L1131.2 496.6 L1131.8 496.7 L1131.8 497.1 L1131.8 497.4 L1132 497.7 L1131.7 498.1 L1132 498.4 L1132.8 498.4 L1132.3 499 L1132.2 499.3 L1132.7 499.5 L1132.8 499.9 L1133.2 500.1 L1132.9 500.5 L1132.9 500.9 L1132.9 501.2 L1132.7 501.5 L1133.1 501.8 L1133.5 502.1 L1132.8 502.5 L1133.5 502.8 L1132.7 503.2 L1133.4 503.5 L1133.1 503.8 L1132.7 504.1 L1132.8 504.5 L1133.1 504.8 L1132.9 505.1 L1133.1 505.5 L1132.6 505.8 L1133.2 506.2 L1132.5 506.4 L1132.7 506.8 L1132.6 507.1 L1132.5 507.4 L1132.8 507.8 L1132.2 508 L1132.1 508.3 L1132.1 508.6 L1133.4 509.5 L1132.1 509.4 L1131.7 509.6 L1131.3 509.7 L1131.8 510.3 L1131.6 510.6 L1131.1 510.7 L1131 511 L1130.7 511.2 L1130.9 511.7 L1131.3 512.4 L1130.5 512.3 L1130.3 512.5 L1130.2 512.9 L1129.6 512.8 L1129.8 513.4 L1130 514 L1129 513.6 L1128.9 514 L1129 514.5 L1128.3 514.3 L1128.3 514.7 L1127.9 514.8 L1127.6 515 L1127.9 515.8 L1127.6 515.9 L1127.4 516.2 L1126.6 515.8 L1126.5 516.2 L1126.5 516.7 L1126.4 517.1 L1125.7 516.7 L1125.7 517.4 L1125.3 517.4 L1124.8 517.1 L1124.5 517.3 L1124.8 518.6 L1124.1 518 L1123.8 518.1 L1123.7 518.7 L1123.1 518.1 L1122.7 518.1 L1122.4 518.1 L1122.2 518.6 L1121.7 518.2 L1121.6 518.9 L1121.1 518.5 L1120.8 518.6 L1120.5 518.7 L1120.2 518.8 L1119.9 518.7 L1119.6 519.3 L1119.3 519 L1118.9 519 L1118.6 518.9 L1118.3 519.2 L1118 519.1 L1117.6 519.7 L1117.3 520.1 L1117 519.3 L1116.6 519.2 L1116.3 519.3 L1116 519.1 L1115.7 519.1 L1115.2 519.9 L1115 518.9 L1114.7 518.8 L1114.3 519 L1114.1 518.7 L1113.8 518.5 L1113.3 519 L1113.2 518.3 L1112.8 518.4 L1112.1 519.6 L1112 518.7 L1111.6 518.8 L1111.4 518.4 L1111.1 518.3 L1110.9 517.9 L1110.5 518 L1110.4 517.3 L1110 517.4 L1109.7 517.3 L1109.4 517.2 L1109.2 517 L1109 516.5 L1108.8 516.3 L1108.5 516.2 L1107.6 516.8 L1107.4 516.5 L1107.4 516.1 L1107.2 515.7 L1107 515.5 L1106.8 515.1 L1106.8 514.7 L1106.3 514.8 L1106.2 514.4 L1106 514.1 L1105.4 514.2 L1105.5 513.7 L1105.1 513.6 L1105.1 513.1 L1105 512.9 L1104.8 512.6 L1103.9 512.8 L1103.8 512.5 L1104.3 511.7 L1104.1 511.5 L1103.4 511.5 L1103.8 510.9 L1103.4 510.8 L1103.1 510.6 L1103.4 510 L1102.6 510 L1102.5 509.7 L1102.6 509.3 L1102.9 508.9 L1102.6 508.6 L1102.6 508.3 L1102.1 508.1 L1102.5 507.6 L1102.4 507.3 L1102.2 507 L1101.5 506.9 L1102 506.4 L1102.1 506.1 L1101.7 505.8 L1102 505.4 L1102 505.1 L1101.2 504.9 L1102 504.5 L1101.2 504.2 L1100.6 503.8 L1101.9 503.5 L1101.4 503.2 L1101.6 502.8 L1101.8 502.5 L1101.9 502.2 L1102 501.9 L1101.5 501.5 L1101.9 501.2 L1101.7 500.9 L1101.9 500.6 L1101.9 500.2 L1101.8 499.9 L1102 499.6 L1102 499.2 L1101.9 498.8 L1102.3 498.6 L1102.5 498.4 L1102.3 497.9 L1102.8 497.7 L1102.3 497.2 L1102.9 497.1 L1103.2 496.9 L1103.4 496.6 L1103.6 496.3 L1103.8 496.1 L1103.9 495.8 L1104 495.5 L1104.2 495.2 L1104.3 494.9 L1104.6 494.7 L1104.6 494.3 L1104.7 493.9 L1105 493.8 L1104.8 493.1 L1105.6 493.4 L1105.4 492.8 L1105.4 492.4 L1106 492.5 L1106.2 492.2 L1106.2 491.7 L1106.7 491.7 L1107.2 491.7 L1107.4 491.5 L1107.5 491.2 L1108 491.2 L1107.6 490.1 L1108.5 490.8 L1108.7 490.6 L1108.8 490.1 L1109.2 490.1 L1109.5 489.9 L1109.8 489.8 L1110 489.5 L1110.5 489.7 L1110.7 489.5 L1111 489.3 L1111.2 489 L1111.5 488.7 L1111.7 488.6 L1112.2 488.8 L1112.2 487.8 L1112.6 487.9 L1113.1 488.4 L1113.4 488.2 L1113.7 488.1 L1114 487.9 L1114.4 488.3 L1114.6 487.7 L1114.9 487.1 L1115.3 487.9 L1115.7 488 L1116 487.9 L1116.3 487.7 L1116.6 487.8 L1117 488 L1117.3 487.9ZM1117.3 493.4 L1117.1 493 L1116.9 493 L1116.7 493.2 L1116.4 493.1 L1116.2 493.1 L1116 493.5 L1115.8 493.2 L1115.7 494 L1115.3 493.3 L1115.2 493.8 L1115 493.8 L1114.7 493.5 L1114.5 493.6 L1114.4 494 L1114 493.4 L1113.8 493.4 L1113.6 493.6 L1113.4 493.7 L1113.4 494.1 L1113.1 494 L1112.8 494 L1112.6 494 L1112.4 494.1 L1112.5 494.8 L1112.1 494.4 L1111.9 494.5 L1111.9 494.9 L1111.5 494.8 L1111.4 494.9 L1111.8 495.9 L1111.3 495.6 L1111 495.5 L1111.3 496.2 L1110.6 495.7 L1110.3 495.7 L1110.3 496.1 L1110 496 L1110.5 496.9 L1110 496.6 L1109.6 496.6 L1110.1 497.3 L1109.9 497.4 L1109.1 497 L1109.9 497.9 L1108.8 497.3 L1108.8 497.6 L1108.6 497.7 L1108.5 497.9 L1108.8 498.4 L1108.9 498.7 L1108.3 498.5 L1107.9 498.6 L1108.3 499 L1108 499.1 L1107.8 499.3 L1108 499.6 L1108.1 499.9 L1107.7 499.9 L1107.6 500.1 L1107.5 500.3 L1107.1 500.4 L1107.1 500.7 L1107.8 501.1 L1107.5 501.2 L1107.3 501.4 L1106.9 501.5 L1107.2 501.8 L1106.8 502 L1106.9 502.2 L1107.4 502.5 L1106.9 502.6 L1107 502.9 L1106.8 503.1 L1106.9 503.3 L1107 503.5 L1107.4 503.7 L1107.1 503.9 L1107.1 504.1 L1106.9 504.4 L1108.2 504.5 L1106.9 504.8 L1107.4 505 L1106.9 505.3 L1107.6 505.4 L1107.3 505.6 L1107.4 505.8 L1107.9 505.9 L1107.6 506.2 L1107.1 506.6 L1107.4 506.7 L1107.9 506.8 L1108.2 506.9 L1108.2 507.1 L1107.6 507.6 L1108.4 507.5 L1108.1 507.8 L1107.9 508.2 L1108 508.4 L1108.2 508.5 L1108.8 508.4 L1108.8 508.6 L1108.5 509.1 L1108.8 509.1 L1108.9 509.3 L1108.8 509.6 L1109 509.8 L1109 510.1 L1110 509.6 L1109.7 510 L1110.1 510 L1109.8 510.5 L1110.1 510.5 L1110.5 510.5 L1110.4 510.8 L1110.4 511.2 L1110.7 511.1 L1110.6 511.6 L1111.1 511.4 L1111 511.8 L1111.3 511.7 L1111.6 511.7 L1111.5 512.2 L1111.8 512.1 L1111.9 512.4 L1112.1 512.4 L1112.3 512.5 L1112.5 512.6 L1112.6 513 L1112.8 513 L1113 513.1 L1113.3 513.1 L1113.5 513 L1113.8 512.9 L1114 513 L1114.1 513.2 L1114.3 513.6 L1114.5 513.7 L1114.7 513.8 L1115.1 513 L1115.3 512.9 L1115.4 513.5 L1115.5 513.9 L1115.8 513.8 L1116 513.5 L1116.2 514 L1116.4 513.8 L1116.6 514.1 L1116.9 513.6 L1117.1 513.2 L1117.3 514 L1117.5 513.5 L1117.7 513.9 L1118 514.1 L1118.2 513.7 L1118.4 514 L1118.6 514 L1118.8 513.7 L1119 513.3 L1119 512.7 L1119.5 513.9 L1119.6 513.2 L1119.9 513.8 L1120 513 L1120.1 512.8 L1120.4 513.1 L1120.5 512.8 L1120.8 513 L1121.2 513.2 L1120.9 512.1 L1121.6 513.1 L1121.6 512.7 L1121.9 512.7 L1122.1 512.7 L1122.4 512.8 L1122.2 512 L1122.4 511.9 L1122.8 512.2 L1122.9 512 L1123.3 512.2 L1123 511.4 L1123.3 511.4 L1123.7 511.5 L1123.8 511.3 L1124.3 511.6 L1124.2 511.2 L1124.2 510.8 L1124.3 510.6 L1124.6 510.6 L1125 510.7 L1125.1 510.6 L1125.2 510.3 L1125 509.9 L1125.2 509.8 L1125.5 509.8 L1125.6 509.6 L1125.7 509.3 L1126.2 509.4 L1126.2 509.2 L1126.4 509 L1126.2 508.7 L1126.2 508.4 L1126.1 508.1 L1126 507.8 L1126.7 507.9 L1126.8 507.7 L1126.7 507.4 L1126.2 507 L1126.8 507 L1126.9 506.8 L1127 506.7 L1127.3 506.5 L1127.3 506.3 L1127.2 506 L1127.2 505.8 L1127.4 505.6 L1127.1 505.4 L1126.9 505.1 L1126.3 504.8 L1127.7 504.8 L1127.9 504.6 L1127.7 504.4 L1127.7 504.2 L1127.7 503.9 L1127.5 503.7 L1127.3 503.5 L1127.8 503.3 L1127.5 503.1 L1127.7 502.8 L1127.2 502.7 L1127.8 502.4 L1127.4 502.2 L1127.3 502 L1127.7 501.7 L1127.4 501.6 L1127.5 501.3 L1127.4 501.1 L1127.2 501 L1127.4 500.7 L1127.4 500.4 L1127.2 500.3 L1126.7 500.2 L1126.6 500 L1126.6 499.8 L1126.4 499.7 L1127 499.2 L1126.1 499.4 L1125.8 499.3 L1126 498.9 L1126.3 498.5 L1125.8 498.6 L1125.9 498.3 L1126 498 L1125.8 497.8 L1125.9 497.5 L1125.2 497.8 L1125.5 497.3 L1125.6 496.9 L1125.1 497.1 L1124.7 497.1 L1124.6 496.9 L1124.3 496.9 L1124.5 496.5 L1124.4 496.2 L1124.4 496 L1124.4 495.7 L1123.8 496 L1123.7 495.7 L1123.9 495.2 L1123.7 495.1 L1123.4 495.1 L1123.4 494.8 L1123.2 494.7 L1123 494.6 L1122.5 494.9 L1122.5 494.5 L1122.3 494.4 L1122.1 494.3 L1121.6 494.8 L1121.3 494.9 L1121.6 493.9 L1121.1 494.6 L1121.2 493.6 L1120.9 493.9 L1120.4 494.5 L1120.5 493.6 L1120.3 493.5 L1119.8 494.4 L1119.8 493.7 L1119.7 493.2 L1119.3 494 L1119.2 493.4 L1119 493.5 L1118.8 493.2 L1118.6 493 L1118.4 493.1 L1118.1 493.8 L1117.9 493.6 L1117.7 493.7 L1117.5 493.3 L1117.3 493.3Z" fill="#f80808" fill-rule="evenodd"/>
<circle cx="1117.3" cy="503.5" r="141" fill="none" stroke="#222" stroke-width="1.2"/>
<line x1="1117.3" y1="362.5" x2="1117.3" y2="365.7" stroke="#222" stroke-width="1"/>
<line x1="1187.8" y1="381.4" x2="1186.7" y2="383.3" stroke="#222" stroke-width="1"/>
<line x1="1239.4" y1="433" x2="1237.5" y2="434.1" stroke="#222" stroke-width="1"/>
<line x1="1258.3" y1="503.5" x2="1255.1" y2="503.5" stroke="#222" stroke-width="1"/>
<line x1="1239.4" y1="574" x2="1237.5" y2="572.9" stroke="#222" stroke-width="1"/>
<line x1="1187.8" y1="625.6" x2="1186.7" y2="623.7" stroke="#222" stroke-width="1"/>
<line x1="1117.3" y1="644.5" x2="1117.3" y2="641.3" stroke="#222" stroke-width="1"/>
<line x1="1046.8" y1="625.6" x2="1047.9" y2="623.7" stroke="#222" stroke-width="1"/>
<line x1="995.2" y1="574" x2="997.1" y2="572.9" stroke="#222" stroke-width="1"/>
<line x1="976.3" y1="503.5" x2="979.5" y2="503.5" stroke="#222" stroke-width="1"/>
<line x1="995.2" y1="433" x2="997.1" y2="434.1" stroke="#222" stroke-width="1"/>
<line x1="1046.8" y1="381.4" x2="1047.9" y2="383.3" stroke="#222" stroke-width="1"/>
<line x1="947.9" y1="363.3" x2="947.9" y2="643.8" stroke="#333" stroke-width="1.3"/>
<line x1="944.3" y1="472.2" x2="947.9" y2="472.2" stroke="#333" stroke-width="1.1"/>
<text x="940.2" y="475.2" font-size="13" fill="#2c2c2c" text-anchor="end" letter-spacing="0.3" >200</text>
<line x1="944.3" y1="534.8" x2="947.9" y2="534.8" stroke="#333" stroke-width="1.1"/>
<text x="940.2" y="537.8" font-size="13" fill="#2c2c2c" text-anchor="end" letter-spacing="0.3" >200</text>
<line x1="946.1" y1="441" x2="947.9" y2="441" stroke="#333" stroke-width="1.1"/>
<line x1="946.1" y1="566" x2="947.9" y2="566" stroke="#333" stroke-width="1.1"/>
<line x1="944.3" y1="409.8" x2="947.9" y2="409.8" stroke="#333" stroke-width="1.1"/>
<text x="940.2" y="412.8" font-size="13" fill="#2c2c2c" text-anchor="end" letter-spacing="0.3" >300</text>
<line x1="944.3" y1="597.2" x2="947.9" y2="597.2" stroke="#333" stroke-width="1.1"/>
<text x="940.2" y="600.2" font-size="13" fill="#2c2c2c" text-anchor="end" letter-spacing="0.3" >300</text>
<line x1="946.1" y1="378.5" x2="947.9" y2="378.5" stroke="#333" stroke-width="1.1"/>
<line x1="946.1" y1="628.5" x2="947.9" y2="628.5" stroke="#333" stroke-width="1.1"/>
<text x="962.8" y="386.5" font-size="15" fill="#262626" ><tspan font-style="italic">T</tspan> = 2 K</text>
<text transform="translate(904.6 544.5) rotate(-90)" font-size="15.5" fill="#262626"><tspan font-style="italic">ρ</tspan><tspan font-style="italic" font-size="8.5" dy="4" dx="0.5">c</tspan><tspan dy="-4" dx="3.5" font-size="17">(μΩ cm)</tspan></text>
<text x="978.4" y="430.6" font-size="13" fill="#2c2c2c" text-anchor="middle" letter-spacing="0.6" >300</text>
<text x="978.4" y="585.5" font-size="13" fill="#2c2c2c" text-anchor="middle" letter-spacing="0.6" >240</text>
<text x="1249" y="431" font-size="13" fill="#2c2c2c" text-anchor="middle" letter-spacing="0.6" >60</text>
<text x="1253" y="585" font-size="13" fill="#2c2c2c" text-anchor="middle" letter-spacing="0.6" >120</text>
<text x="1117.4" y="660.8" font-size="13" fill="#2c2c2c" text-anchor="middle" letter-spacing="0.6" >180</text>
<text x="1113.3" y="350.8" font-size="14.2" fill="#2c2c2c" letter-spacing="0.1" >0<tspan dx="0">(</tspan><tspan font-style="italic">a</tspan>-axis)</text>
<text x="885.8" y="379.3" font-size="21.5" fill="#111" font-weight="bold" >d</text>
</g>
<g id="panel-e">
<defs><radialGradient id="gdot" cx="0.42" cy="0.38" r="0.65"><stop offset="0" stop-color="#8ee08e"/><stop offset="0.35" stop-color="#38a038"/><stop offset="0.75" stop-color="#1c7c1c"/><stop offset="1" stop-color="#0f5f0f"/></radialGradient>
<clipPath id="clipe"><rect x="464.1" y="362.9" width="358.5" height="248.7"/></clipPath></defs>
<g clip-path="url(#clipe)">
<path d="M526.2 608.2 L536.4 581.5 L550.6 607.7 L572.4 576.3 L609 606.4 L681.2 405.2 L822.6 533.5 L860 567.5" fill="none" stroke="#1c7c1c" stroke-width="2.4" stroke-linejoin="round"/>
<path d="M498.4 608.5 L500.1 588.6 L502.3 608.5" fill="none" stroke="#1c7c1c" stroke-width="2.2" stroke-linejoin="round"/>
<circle cx="467.5" cy="606.9" r="2.8" fill="#167a16"/>
<circle cx="469.8" cy="606.8" r="2.8" fill="#167a16"/>
<circle cx="472.1" cy="606.8" r="2.8" fill="#167a16"/>
<circle cx="474.4" cy="606.6" r="2.8" fill="#167a16"/>
<circle cx="476.7" cy="606.6" r="2.8" fill="#167a16"/>
<circle cx="479" cy="606.2" r="2.8" fill="#167a16"/>
<circle cx="481.3" cy="606.5" r="2.8" fill="#167a16"/>
<circle cx="483.6" cy="605.5" r="2.8" fill="#167a16"/>
<circle cx="485.9" cy="604.6" r="2.8" fill="#167a16"/>
<circle cx="488.2" cy="604.7" r="2.8" fill="#167a16"/>
<circle cx="490.5" cy="604.7" r="2.8" fill="#167a16"/>
<circle cx="492.8" cy="605.9" r="2.8" fill="#167a16"/>
<circle cx="495.1" cy="606.2" r="2.8" fill="#167a16"/>
<circle cx="504.3" cy="607.4" r="2.8" fill="#167a16"/>
<circle cx="506.6" cy="607.2" r="2.8" fill="#167a16"/>
<circle cx="508.9" cy="607.2" r="2.8" fill="#167a16"/>
<circle cx="511.2" cy="606.7" r="2.8" fill="#167a16"/>
<circle cx="513.5" cy="606.8" r="2.8" fill="#167a16"/>
<circle cx="487.9" cy="602.8" r="3" fill="url(#gdot)"/>
</g>
<circle cx="500.1" cy="588.6" r="3.4" fill="url(#gdot)"/>
<circle cx="518.1" cy="603.4" r="3.4" fill="url(#gdot)"/>
<circle cx="526.2" cy="608.2" r="3.4" fill="url(#gdot)"/>
<circle cx="536.4" cy="581.5" r="3.4" fill="url(#gdot)"/>
<circle cx="550.6" cy="607.7" r="3.4" fill="url(#gdot)"/>
<circle cx="572.4" cy="576.3" r="3.4" fill="url(#gdot)"/>
<circle cx="609" cy="606.4" r="3.4" fill="url(#gdot)"/>
<circle cx="681.2" cy="405.2" r="3.4" fill="url(#gdot)"/>
<rect x="464.1" y="362.9" width="358.5" height="247.7" fill="none" stroke="#4a4a4a" stroke-width="1.5"/>
<line x1="464.1" y1="610.6" x2="467.1" y2="610.6" stroke="#333" stroke-width="1.2"/>
<text x="458.6" y="614.5" font-size="15" fill="#2c2c2c" text-anchor="end" letter-spacing="0.5" >0</text>
<line x1="464.1" y1="511.5" x2="467.1" y2="511.5" stroke="#333" stroke-width="1.2"/>
<text x="458.6" y="515.4" font-size="15" fill="#2c2c2c" text-anchor="end" letter-spacing="0.5" >10</text>
<line x1="464.1" y1="412.4" x2="467.1" y2="412.4" stroke="#333" stroke-width="1.2"/>
<text x="458.6" y="416.3" font-size="15" fill="#2c2c2c" text-anchor="end" letter-spacing="0.5" >20</text>
<line x1="464.1" y1="561.1" x2="465.9" y2="561.1" stroke="#333" stroke-width="1"/>
<line x1="464.1" y1="462" x2="465.9" y2="462" stroke="#333" stroke-width="1"/>
<line x1="464.1" y1="610.6" x2="464.1" y2="607.6" stroke="#333" stroke-width="1.2"/>
<text x="464.1" y="626" font-size="15" fill="#2c2c2c" text-anchor="middle" letter-spacing="0.5" >0</text>
<line x1="535.8" y1="610.6" x2="535.8" y2="607.6" stroke="#333" stroke-width="1.2"/>
<text x="535.8" y="626" font-size="15" fill="#2c2c2c" text-anchor="middle" letter-spacing="0.5" >60</text>
<line x1="607.5" y1="610.6" x2="607.5" y2="607.6" stroke="#333" stroke-width="1.2"/>
<text x="607.5" y="626" font-size="15" fill="#2c2c2c" text-anchor="middle" letter-spacing="0.5" >120</text>
<line x1="679.2" y1="610.6" x2="679.2" y2="607.6" stroke="#333" stroke-width="1.2"/>
<text x="679.2" y="626" font-size="15" fill="#2c2c2c" text-anchor="middle" letter-spacing="0.5" >180</text>
<line x1="750.9" y1="610.6" x2="750.9" y2="607.6" stroke="#333" stroke-width="1.2"/>
<text x="750.9" y="626" font-size="15" fill="#2c2c2c" text-anchor="middle" letter-spacing="0.5" >240</text>
<line x1="822.6" y1="610.6" x2="822.6" y2="607.6" stroke="#333" stroke-width="1.2"/>
<text x="822.6" y="626" font-size="15" fill="#2c2c2c" text-anchor="middle" letter-spacing="0.5" >300</text>
<line x1="500" y1="610.6" x2="500" y2="608.8" stroke="#333" stroke-width="1"/>
<line x1="571.6" y1="610.6" x2="571.6" y2="608.8" stroke="#333" stroke-width="1"/>
<line x1="643.4" y1="610.6" x2="643.4" y2="608.8" stroke="#333" stroke-width="1"/>
<line x1="715" y1="610.6" x2="715" y2="608.8" stroke="#333" stroke-width="1"/>
<line x1="786.8" y1="610.6" x2="786.8" y2="608.8" stroke="#333" stroke-width="1"/>
<text x="663.3" y="390.9" font-size="15" fill="#3a3a3a" letter-spacing="0.2"><tspan font-style="italic">C</tspan><tspan font-size="9" dy="5" dx="1">2</tspan><tspan dy="-5">(180</tspan><tspan font-size="9" dy="-7.5" dx="0.5">o</tspan><tspan dy="7.5" dx="0.5">)</tspan></text>
<text x="556.3" y="500.8" font-size="15" fill="#3a3a3a" letter-spacing="0.2"><tspan font-style="italic">C</tspan><tspan font-size="9" dy="5" dx="1">4</tspan><tspan dy="-5">(90</tspan><tspan font-size="9" dy="-7.5" dx="0.5">o</tspan><tspan dy="7.5" dx="0.5">)</tspan></text>
<text x="513.3" y="530.6" font-size="15" fill="#3a3a3a" letter-spacing="0.2"><tspan font-style="italic">C</tspan><tspan font-size="9" dy="5" dx="1">6</tspan><tspan dy="-5">(60</tspan><tspan font-size="9" dy="-7.5" dx="0.5">o</tspan><tspan dy="7.5" dx="0.5">)</tspan></text>
<text x="472.3" y="561.2" font-size="15" fill="#3a3a3a" letter-spacing="0.2"><tspan font-style="italic">C</tspan><tspan font-size="9" dy="5" dx="1">12</tspan><tspan dy="-5">(30</tspan><tspan font-size="9" dy="-7.5" dx="0.5">o</tspan><tspan dy="7.5" dx="0.5">)</tspan></text>
<line x1="572.3" y1="512.4" x2="572.3" y2="568.4" stroke="#222" stroke-width="1.1"/><path d="M572.3 571.4 l-1.9 -5.2 l3.8 0z" fill="#111"/>
<line x1="537.8" y1="540.3" x2="537.8" y2="571.7" stroke="#222" stroke-width="1.1"/><path d="M537.8 574.7 l-1.9 -5.2 l3.8 0z" fill="#111"/>
<line x1="501.5" y1="566.7" x2="501.5" y2="578.9" stroke="#222" stroke-width="1.1"/><path d="M501.5 581.9 l-1.9 -5.2 l3.8 0z" fill="#111"/>
<text x="699.8" y="549.7" font-size="15.5" fill="#262626" ><tspan font-style="italic">T</tspan> = 2 K</text>
<text x="698.3" y="570.9" font-size="15.5" fill="#262626"><tspan font-style="italic">μ</tspan><tspan font-size="8" dy="4">0</tspan><tspan dy="-4" font-style="italic">H</tspan> = 7 T</text>
<text x="603.6" y="653.3" font-size="18" fill="#262626" ><tspan font-style="italic" font-size="13.8">θ</tspan><tspan dx="3.4">(degree)</tspan></text>
<text transform="translate(423.5 544) rotate(-90)" font-size="18" fill="#262626"><tspan font-style="italic">A</tspan><tspan font-size="10.5" dy="5" letter-spacing="1">FT</tspan><tspan dy="-5" dx="2" font-size="17.3">(μΩ cm)</tspan></text>
<text x="412.6" y="372.4" font-size="21.5" fill="#111" font-weight="bold" >e</text>
</g>
</svg>
</body></html>
